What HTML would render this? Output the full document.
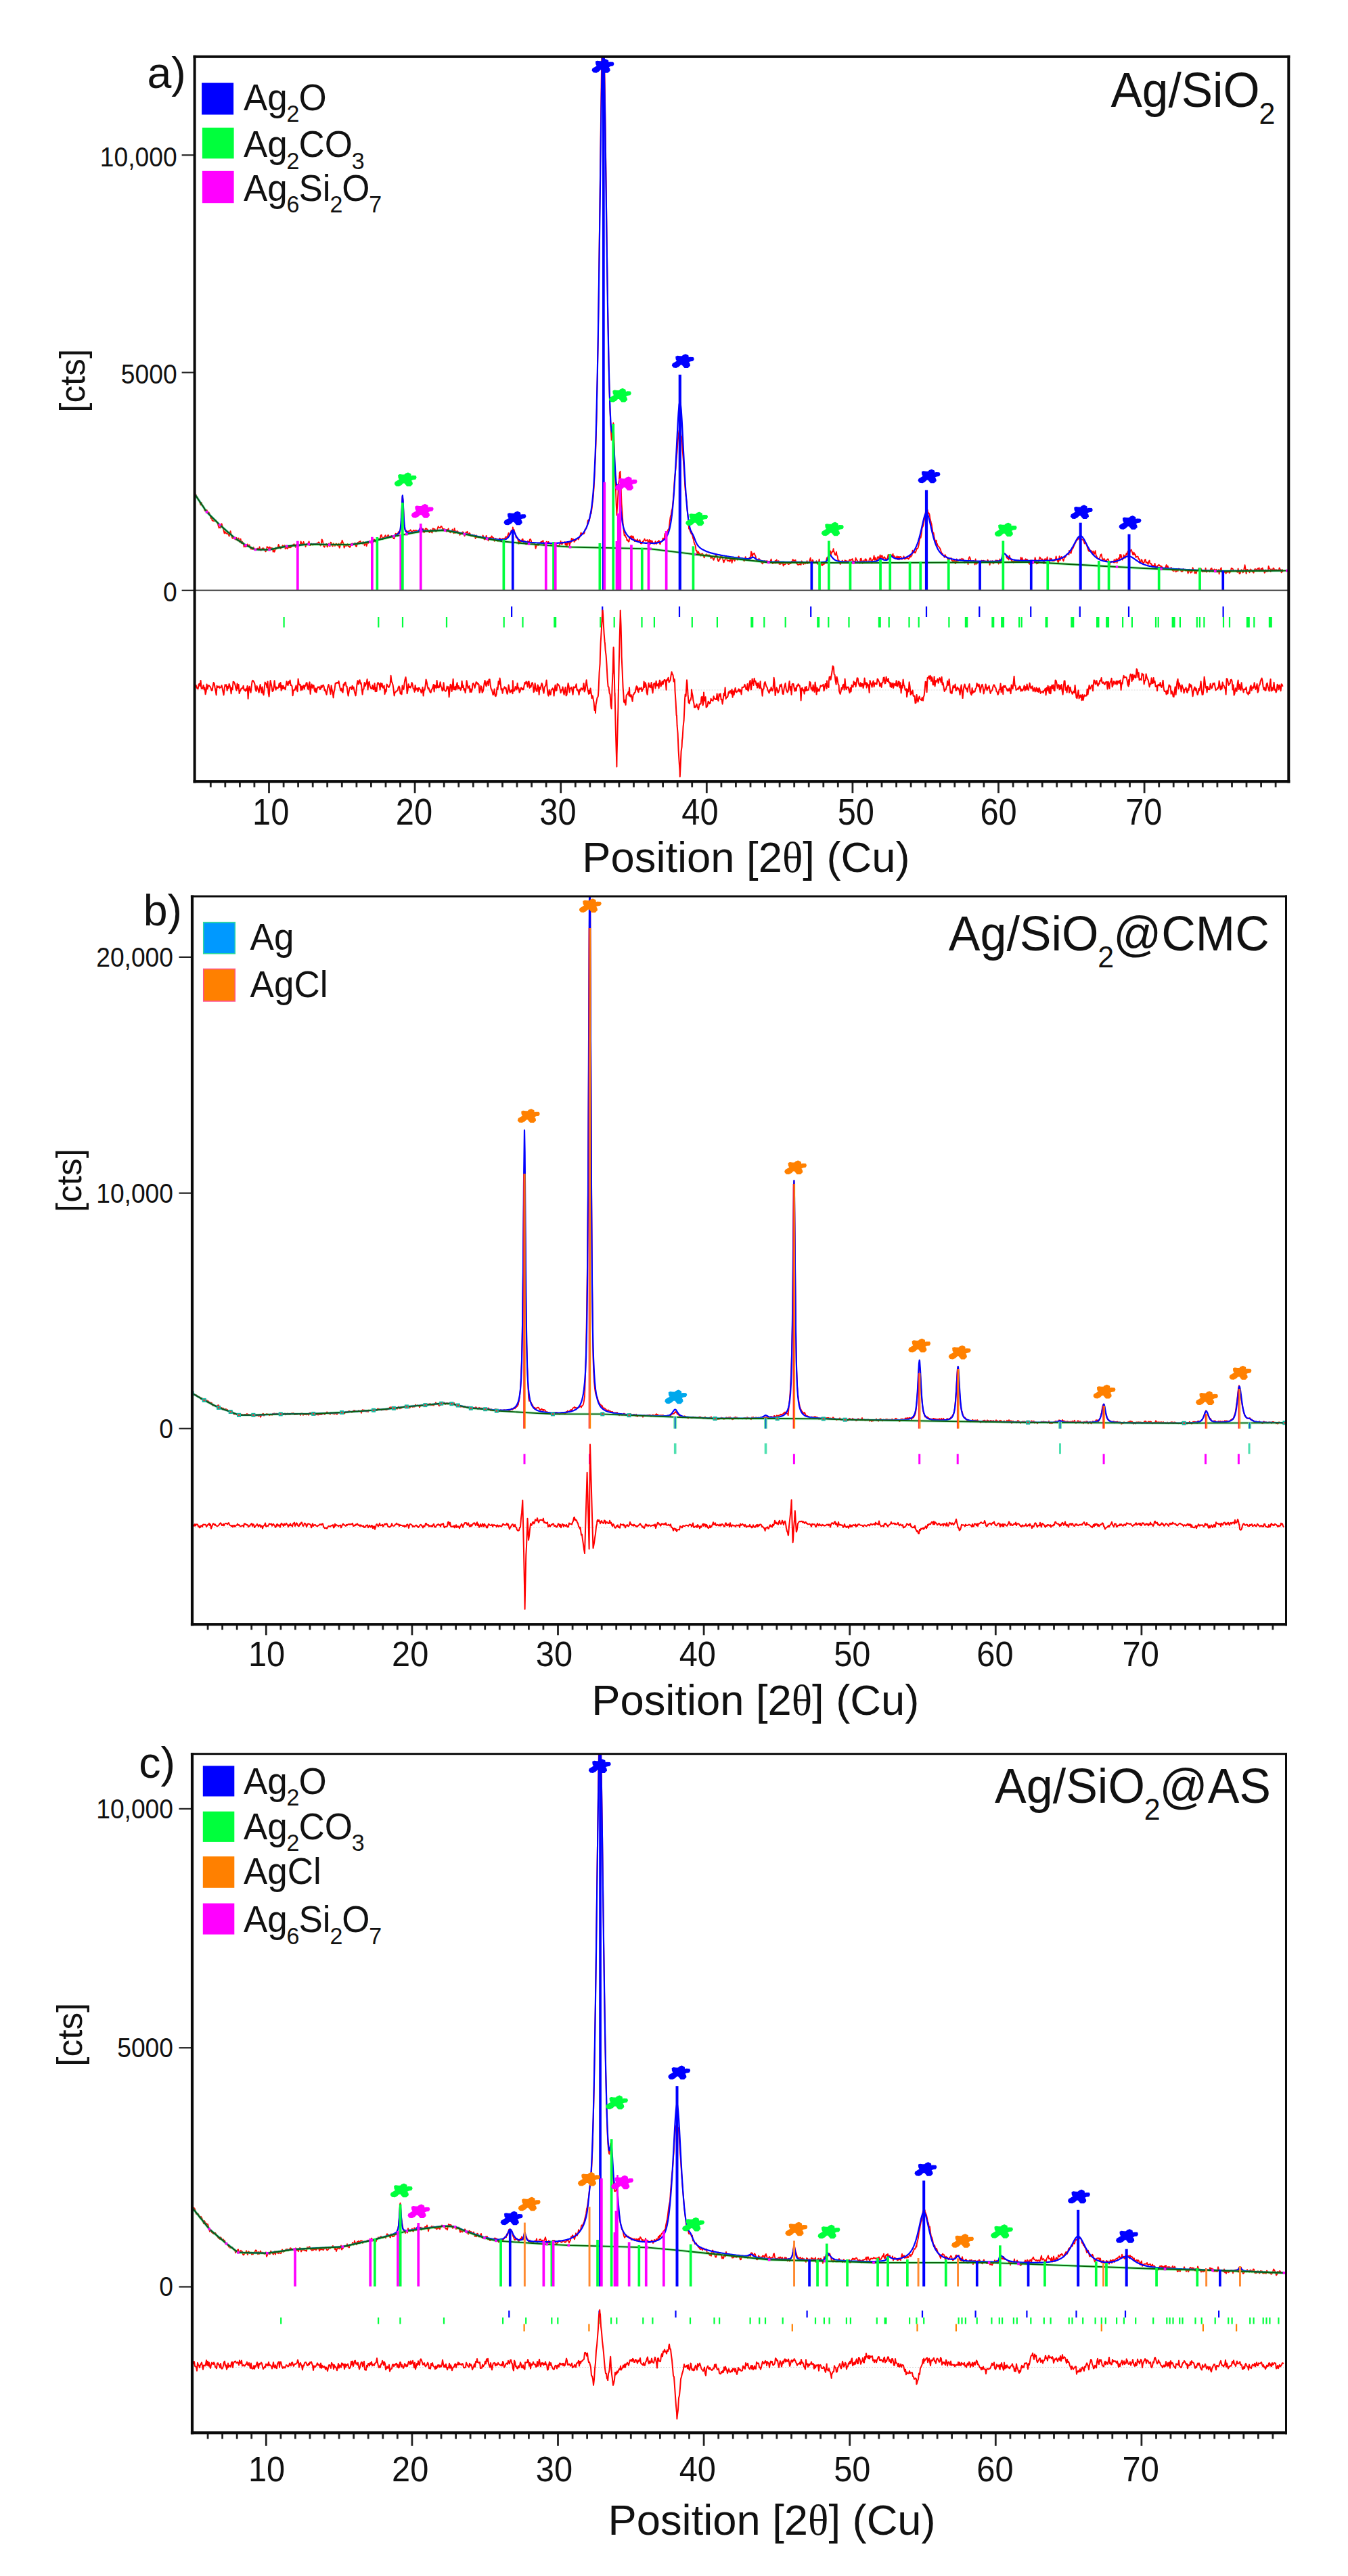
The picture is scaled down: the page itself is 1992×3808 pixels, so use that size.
<!DOCTYPE html>
<html><head><meta charset="utf-8"><title>XRD patterns</title>
<style>
html,body{margin:0;padding:0;background:#fff}
svg{display:block}
text{font-family:"Liberation Sans",Arial,Helvetica,sans-serif;fill:#111}
</style></head><body>
<svg width="1992" height="3808" viewBox="0 0 1992 3808">
<rect width="1992" height="3808" fill="#fff"/>
<clipPath id="ca"><rect x="287.6" y="83.8" width="1616.7" height="1071.4"/></clipPath>
<g clip-path="url(#ca)">
<path d="M287.6 732.1L288.6 731.9L289.6 731.3L290.6 735L291.6 734.6L292.6 737.7L293.6 739.7L294.6 740L295.6 743.6L296.6 746.4L297.6 742.8L298.6 746.7L299.6 747.4L300.6 748.5L301.6 750.7L302.6 755L303.6 754.5L304.6 755L305.6 754L306.6 756.4L307.6 758.3L308.6 757.4L309.6 759.3L310.6 762.3L311.6 766L312.6 764.4L313.6 769.5L314.6 769.7L315.6 770.1L316.6 770.3L317.6 770L318.6 768.9L319.6 770.4L320.6 771.9L321.6 773.2L322.6 777.4L323.6 780.5L324.6 779.2L325.6 780.3L326.6 777.5L327.6 774.2L328.6 777.7L329.6 780.5L330.6 784.5L331.6 788.5L332.6 785.9L333.6 787.9L334.6 788.8L335.6 787.8L336.6 789.4L337.6 789.6L338.6 792.7L339.6 788.7L340.6 785.1L341.6 789.8L342.6 793.6L343.6 795.8L344.6 793.6L345.6 795.8L346.6 794.5L347.6 797.6L348.6 795.8L349.6 794.8L350.6 799.3L351.6 796.6L352.6 795.5L353.6 800.7L354.6 801.4L355.6 796.6L356.6 803.1L357.6 800.4L358.6 801.6L359.6 803.1L360.6 808.7L361.6 806.7L362.6 808.4L363.6 806.9L364.6 808L365.6 804.4L366.6 806.5L367.6 806.2L368.6 805.6L369.6 808.5L370.6 811.4L371.6 811.5L372.6 810L373.6 812.1L374.6 809L375.6 811.4L376.6 812.8L377.6 812.1L378.6 811.5L379.6 811.9L380.6 810.6L381.6 810.9L382.6 813.2L383.6 808.3L384.6 813.4L385.6 813.6L386.6 813.2L387.6 810.3L388.6 810.6L389.6 810.4L390.6 813.1L391.6 813.9L392.6 815.4L393.6 813.5L394.6 808.2L395.6 808.7L396.6 810.1L397.6 812.1L398.6 808.7L399.6 810.2L400.6 811.2L401.6 810L402.6 810.3L403.6 815.8L404.6 812.5L405.6 815.8L406.6 812.9L407.6 809.7L408.6 811.2L409.6 809.5L410.6 809.6L411.6 804.8L412.6 808.7L413.6 807.8L414.6 811.1L415.6 810L416.6 808.3L417.6 806.3L418.6 807.8L419.6 807.3L420.6 806.2L421.6 811.4L422.6 808.5L423.6 809.7L424.6 811.3L425.6 809.5L426.6 809.3L427.6 808.8L428.6 809.6L429.6 809L430.6 808.4L431.6 807.4L432.6 805.5L433.6 805L434.6 804.3L435.6 805.8L436.6 808.8L437.6 804.9L438.6 804.1L439.6 803L440.6 804.6L441.6 807.4L442.6 805.4L443.6 806L444.6 800.4L445.6 803.1L446.6 805.4L447.6 803.7L448.6 800.9L449.6 804.5L450.6 804.4L451.6 808.4L452.6 804.5L453.6 804.1L454.6 803.5L455.6 804.2L456.6 800.3L457.6 805.8L458.6 806.2L459.6 804.5L460.6 803.6L461.6 805.3L462.6 805.6L463.6 804L464.6 804.2L465.6 805.2L466.6 803.9L467.6 803.7L468.6 803.5L469.6 803.4L470.6 801.5L471.6 801.7L472.6 804.6L473.6 806.5L474.6 805.4L475.6 797.3L476.6 799L477.6 803.7L478.6 808.2L479.6 808.7L480.6 805.8L481.6 804.5L482.6 803.9L483.6 808.5L484.6 806.8L485.6 803.7L486.6 806.7L487.6 807.5L488.6 801.6L489.6 802.5L490.6 806.3L491.6 807.5L492.6 803.4L493.6 804.6L494.6 806.8L495.6 806.6L496.6 803.4L497.6 804.2L498.6 806.3L499.6 806.8L500.6 803.7L501.6 809.8L502.6 807.3L503.6 802.7L504.6 803.6L505.6 798.7L506.6 801.3L507.6 803.7L508.6 809.8L509.6 807.1L510.6 806.4L511.6 807L512.6 806.1L513.6 804.1L514.6 807.5L515.6 806.9L516.6 808.8L517.6 808.6L518.6 804.2L519.6 803.7L520.6 803.6L521.6 803.4L522.6 805.1L523.6 804.2L524.6 802.6L525.6 806.8L526.6 808.1L527.6 805.4L528.6 802L529.6 801.6L530.6 801.1L531.6 800.5L532.6 800L533.6 802.4L534.6 803.2L535.6 803.8L536.6 800.9L537.6 802.3L538.6 806.3L539.6 803.7L540.6 801.5L541.6 807.3L542.6 804L543.6 800.6L544.6 802.8L545.6 800L546.6 799.7L547.6 802.4L548.6 799.7L549.6 796.9L550.6 800.5L551.6 801.8L552.6 797.3L553.6 797.8L554.6 800.8L555.6 800.1L556.6 801L557.6 799L558.6 797L559.6 796.4L560.6 796.4L561.6 797.3L562.6 791.4L563.6 790.6L564.6 794.3L565.6 796.8L566.6 794.6L567.6 795.2L568.6 793L569.6 791.3L570.6 793.9L571.6 794.1L572.6 792.9L573.6 790.7L574.6 792.7L575.6 792.9L576.6 792.6L577.6 792.6L578.6 792L579.6 793.7L580.6 793.6L581.6 796.2L582.6 796.3L583.6 793L584.6 788.7L585.6 791.1L586.6 789L587.6 792.3L588.6 786.5L589.6 785.9L590.6 788.5L591.6 783L592.6 775L593.6 756.9L594.6 733.7L594.9 733.8L595.6 739.3L596.6 761.4L597.6 780.6L598.6 783.4L599.6 786L600.6 784.2L601.6 788.9L602.6 785.8L603.6 785.1L604.6 785.3L605.6 784.6L606.6 783.3L607.6 785.1L608.6 785.3L609.6 786.2L610.6 784.5L611.6 783.8L612.6 784.7L613.6 785.5L614.6 783.7L615.6 784.7L616.6 784.5L617.6 786.8L618.6 786.2L619.6 784.5L620.6 783L621.6 777.3L621.7 780.4L622.6 780.7L623.6 781.5L624.6 784.1L625.6 782L626.6 787.3L627.6 785.9L628.6 781.7L629.6 781L630.6 782.1L631.6 782.3L632.6 784.6L633.6 786.2L634.6 787.1L635.6 786.5L636.6 783.1L637.6 786.4L638.6 787.6L639.6 781.1L640.6 781.8L641.6 782.6L642.6 781.9L643.6 785.4L644.6 785.5L645.6 784.4L646.6 781.2L647.6 778.2L648.6 779.6L649.6 780.3L650.6 780.4L651.6 777.9L652.6 778.1L653.6 780.5L654.6 782.9L655.6 781.9L656.6 782.1L657.6 782.5L658.6 782.9L659.6 785.9L660.6 782.9L661.6 784L662.6 781.3L663.6 785.8L664.6 786.5L665.6 787.3L666.6 785.9L667.6 785L668.6 782.5L669.6 785.1L670.6 788.4L671.6 780.9L672.6 788L673.6 785.2L674.6 787.1L675.6 785L676.6 785.7L677.6 788.1L678.6 787L679.6 791L680.6 788.7L681.6 789.4L682.6 787.1L683.6 786.5L684.6 786.7L685.6 789L686.6 792.4L687.6 790.3L688.6 786.7L689.6 787.1L690.6 785.8L691.6 789.5L692.6 790L693.6 787.9L694.6 788.9L695.6 792.1L696.6 792.4L697.6 790.4L698.6 792.6L699.6 792.7L700.6 790.8L701.6 792L702.6 796.1L703.6 791.2L704.6 794.2L705.6 792.9L706.6 794.3L707.6 794.4L708.6 794.1L709.6 793.4L710.6 793.5L711.6 795.1L712.6 795.3L713.6 791.3L714.6 794.1L715.6 797.3L716.6 797.5L717.6 796.4L718.6 791.8L719.6 795.4L720.6 796.9L721.6 799.3L722.6 794.9L723.6 795.2L724.6 794.7L725.6 795.1L726.6 792.4L727.6 794L728.6 794.9L729.6 795.4L730.6 799.8L731.6 796.7L732.6 795.9L733.6 799.2L734.6 796.9L735.6 799.9L736.6 799.3L737.6 796.7L738.6 795.7L739.6 797.1L740.6 797.1L741.6 797.6L742.6 796.2L743.6 798.3L744.6 796.1L745.6 795.7L746.6 795.8L747.6 793.3L748.6 794L749.6 793.9L750.6 790.6L751.6 787.9L752.6 792.5L753.6 789.4L754.6 787.3L755.6 784.1L756.6 786.8L757.6 783.7L757.8 779.4L758.6 783.2L759.6 782.9L760.6 787.3L761.6 789.2L762.6 794.2L763.6 795.3L764.6 794.7L765.6 798.9L766.6 803.9L767.6 799L768.6 801L769.6 800.4L770.6 800.6L771.6 797.3L772.6 796.8L773.6 801.9L774.6 801.1L775.6 799.5L776.6 804.2L777.6 804.7L778.6 803.9L779.6 799.9L780.6 800.7L781.6 804.4L782.6 798.1L783.6 796.9L784.6 798.3L785.6 802.7L786.6 802.6L787.6 803.1L788.6 802.7L789.6 802.6L790.6 804.9L791.6 810.9L792.6 806.3L793.6 806.6L794.6 802.9L795.6 806L796.6 803.9L797.6 803.5L798.6 802.1L799.6 800.8L800.6 801L801.6 800L802.6 799.1L803.6 805.7L804.6 804.9L805.6 805.9L806.6 805.1L807.6 800.7L808.6 802.5L809.6 801.3L810.6 800.9L811.6 802.3L812.6 803.5L813.6 803.8L814.6 804L815.6 803L816.6 803.6L817.6 806.3L818.6 809.4L819.6 808.1L820.6 804.6L821.6 804.8L822.6 806.2L823.6 806.9L824.6 807.5L825.6 807.6L826.6 805.8L827.6 803.5L828.6 799.9L829.6 804.2L830.6 804.6L831.6 801.5L832.6 802.3L833.6 801.5L834.6 801.1L835.6 805.7L836.6 802.6L837.6 807.5L838.6 803.4L839.6 800.6L840.6 801.4L841.6 806.5L842.6 802.4L843.6 802.3L844.6 796L845.6 799.7L846.6 796.6L847.6 797.9L848.6 801.2L849.6 798.5L850.6 799.4L851.6 797.2L852.6 795.8L853.6 796.1L854.6 797.6L855.6 795.4L856.6 793.8L857.6 790.7L858.6 787.3L859.6 789.5L860.6 788.8L861.6 788.6L862.6 789.2L863.6 787.9L864.6 782.6L865.6 782L866.6 780.5L867.6 777.3L868.6 770L869.6 768.5L870 769.3L870.6 770.3L871.6 765.7L872.6 759L873.6 759.2L874.6 751.8L875.6 742.7L876 740.6L876.6 735.6L877.6 722.1L878.6 704.2L879.6 682.5L880 675.1L880.6 654.8L881.6 617.6L882.6 566.4L883.6 512.8L884 489.2L884.6 445.7L885.6 363.7L886.6 281.6L887 252.5L887.6 201.7L888.6 121.5L889.6 56L890.2 26.3L890.6 21.1L891.2 16.8L891.6 21.6L892.6 56.6L893.6 114.7L894 142.1L894.6 182L895.6 261.9L896.6 344.7L897.6 414.5L898 445.8L898.6 481.8L899.6 538L900.6 579.5L901.6 610.1L902.6 632.2L903.6 650.7L904.6 641.1L905.5 630.2L905.6 632.8L906.3 625.2L906.6 626.9L906.9 629.3L907.6 654.5L908.5 688.7L908.6 691.1L909.6 716.3L910.6 745.3L911.4 761.6L911.6 758.7L912.6 742.9L913.5 726.3L913.6 723.4L914.5 711L914.6 712.3L915.5 701.4L915.6 698.9L916.6 696.8L916.7 700.1L917.6 717.4L918.5 742.5L918.6 744.9L919.6 758L920.6 773.6L921.6 783.5L922 786.7L922.6 791.6L923.6 790.6L924.6 793.8L925.6 794.6L926.6 799.1L927.6 798.1L928.6 800.8L929.6 800.5L930 796.9L930.6 795L931.6 792.7L932.6 796.7L933.6 792.2L934.6 795.1L935.6 792.7L936.6 795.9L937.6 800.1L938.6 798.2L939.6 798.4L940.6 798.7L941.6 800.4L942 797.2L942.6 799.8L943.6 800.4L944.6 798.6L945.6 798.2L946.6 803.1L947.6 803.6L948.6 803.2L949.6 800.4L950.6 800.6L951.6 798.6L952.6 796.8L953.6 799.2L954.6 799.8L955.6 798.5L956.6 798L957.6 801.2L958.6 800.6L959.6 797.9L960.6 804.9L961.6 799L962.6 801.3L963.6 799.5L964.6 802.6L965.6 802.4L966.6 804.3L967.6 802.4L968.6 800.3L969.6 804.4L970.6 802.3L971.6 801.1L972.6 800.6L973.6 799L974.6 800.7L975 804.1L975.6 804.5L976.6 801.2L977.6 800.3L978.6 799.6L979.6 795.6L980.6 798.1L981.6 795.4L982.6 789L983.6 791L984.6 787.1L985 788.3L985.6 788.6L986.6 784.5L987.6 782.3L988.6 781.3L989.6 772L990.6 764.2L991.6 760.9L992.6 754.3L993.4 752.7L993.6 750.7L994.6 740.8L995.6 728.3L996.6 711.2L997 705.3L997.6 701.5L998.6 692.1L999.6 678.8L1000 674.3L1000.6 667.9L1001.6 652.8L1002.6 642.6L1003.6 636L1004.6 641.6L1004.8 637.2L1005.6 638.7L1006.6 644L1007.6 647.5L1008 653.6L1008.6 666L1009.6 678.1L1010.6 692.7L1011.6 707.5L1012 715.9L1012.6 723.8L1013.6 732.8L1014.6 740.2L1015 742.4L1015.6 754.2L1016.6 762.2L1017.6 774.6L1018 781.7L1018.6 781.1L1019.6 784.6L1020.6 786.8L1021.6 789.4L1022 785.3L1022.6 789.3L1023.6 793.3L1024.4 796.9L1024.6 794.3L1025.6 802.2L1026 802.4L1026.6 805L1027.6 806.1L1028.6 814.1L1029.6 813.8L1030.6 819.2L1031.6 815.8L1032 815.5L1032.6 819.5L1033.6 817.5L1034.6 819L1035.6 821.6L1036.6 819.4L1037.6 818.2L1038.6 819.1L1039.6 822.3L1040 822.2L1040.6 824.4L1041.6 821.9L1042.6 820.8L1043.6 819.2L1044.6 820.5L1045.6 820.5L1046.6 821.6L1047.6 820.4L1048.6 820.7L1049.6 821.9L1050.6 825.2L1051.6 823.7L1052.6 822.8L1053.6 826.1L1054.6 827.9L1055.6 825L1056.6 824.1L1057.6 820.6L1058.6 820L1059.6 823.1L1060.6 827.4L1061.6 829.9L1062.6 828.6L1063.6 825.4L1064.6 826.4L1064.8 822.5L1065.6 824.3L1066.6 822.4L1067.6 824.4L1068.6 828.4L1069.6 831.4L1070.6 828.3L1071.6 827.6L1072.6 822.9L1073.6 823.4L1074.6 828.4L1075.6 829.3L1076.6 828.9L1077.6 828L1078.6 830.3L1079.6 826.8L1080.6 825.9L1081.6 832.1L1082.6 826.3L1083.6 827.3L1084.6 825.7L1085.6 829.3L1086.6 826.8L1087.6 825.6L1088.6 825.3L1089.6 827.6L1090.6 824.5L1091.6 822.4L1092.6 824.6L1093.6 825.1L1094.6 827.2L1095.6 826L1096.6 825L1097.6 826.7L1098.6 827.7L1099.6 829.4L1100.6 827.9L1101.6 823.2L1102.6 825.5L1103.6 826.3L1104.6 826.2L1105 827.5L1105.6 825.7L1106.6 827.4L1107.6 824.2L1108.6 826L1109.6 820.2L1110 815.3L1110.6 816.1L1111.6 824L1112.6 819.6L1113 818.5L1113.6 818.9L1114.6 817.6L1115.6 820.4L1116.6 822.1L1117.6 827.9L1118.6 829L1119 827.5L1119.6 828L1120.6 828.7L1121.6 825.6L1122.6 829.6L1123.6 827.7L1124 830.3L1124.6 829.8L1125.6 831.5L1126.6 833.4L1127.6 832.3L1128.6 829.6L1129.6 829.1L1130.6 831L1131.6 829.5L1132.6 829.2L1133.6 829.7L1134.6 829.4L1135.6 831.3L1136.6 829.9L1137.6 830.6L1138.6 829.2L1139.6 826.5L1140.6 831.1L1141.6 833.1L1142.6 830.6L1143.6 832.5L1144.6 832.1L1145.6 828.8L1146.6 832.9L1147.6 827.4L1148.6 829.8L1149.6 832.3L1150.6 829.2L1151.6 834.1L1152.6 830.9L1153.6 833.8L1154.6 831.7L1155.6 832.9L1156.6 831.6L1157.6 836.5L1158.6 833.9L1159.6 834.4L1160.6 834L1161.6 832.8L1162.6 831.3L1163.6 832.2L1164.6 833.8L1165.6 834.1L1166.6 833.4L1167.6 831.8L1168.6 833.1L1169.6 829.9L1170.6 831.1L1171.6 826.9L1172.6 828.4L1173.6 830.1L1174.6 828.1L1175.6 827.9L1176.6 832.4L1177.6 833.1L1178.6 834.6L1179.6 835.2L1180.6 834.3L1181.6 834.3L1182.6 833.2L1183.6 835L1184.6 829.4L1185.6 830.4L1186.6 833.4L1187.6 834.1L1188.6 832.6L1189.6 831.2L1190.6 833.3L1191.6 831.7L1192.6 829.1L1193.6 833.2L1194.6 831.3L1195.6 831.9L1196.6 828L1197.6 824.7L1198.6 830.3L1199.6 834.7L1200.6 827.6L1201.6 829L1202.6 831.8L1203.6 831.9L1204.6 831.7L1205.6 831.4L1206.6 829.2L1207.6 832.9L1208.6 833.9L1209.6 832.8L1210.6 826.6L1211.6 833.3L1212.6 831.9L1213.6 832.7L1214.6 836L1215.6 835.6L1216.6 832.6L1217.6 834L1218.6 833.3L1219.6 830.3L1220.6 830.6L1221.6 825.9L1222 824.4L1222.6 825.9L1223.6 824.5L1224.6 814.9L1224.8 817.7L1225.6 815.6L1226.6 818.2L1227 814.4L1227.6 820.6L1228.6 817.6L1229.6 815.2L1230.6 815.7L1231.6 811.2L1232 814.6L1232.6 815.8L1233.6 819.7L1234.6 820.6L1235.6 817L1236 815.9L1236.6 820.6L1237.6 822.4L1238.6 829L1239.6 828.1L1240 831.1L1240.6 830.6L1241.6 834.1L1242.6 832.1L1243.6 831.4L1244.6 828.5L1245.6 830.4L1246 831.7L1246.6 830.3L1247.6 831.6L1248.6 828.2L1249.6 828.8L1250.6 830.3L1251.6 829.1L1252.6 832.2L1253.6 831.8L1254.6 828.9L1255.6 827.1L1256.6 828.5L1257.6 827.3L1258.6 827.6L1259.6 826.1L1260.6 829.8L1261.6 829.7L1262.6 829.8L1263.6 831.1L1264.6 824.7L1265.6 827.7L1266.6 828L1267.6 830.2L1268.6 830.5L1269.6 830.6L1270.6 832.5L1271.6 826L1272.6 825.5L1273.6 830.4L1274.6 832.7L1275.6 828.5L1276.6 831L1277.6 831.3L1278.6 826.3L1279.6 826.3L1280 828.3L1280.6 828L1281.6 832.1L1282.6 830.8L1283.6 830.9L1284.6 827.4L1285.6 824.9L1286.6 825.4L1287.6 829.9L1288.6 832.3L1289.6 827.1L1290.6 826.9L1291.6 821.5L1292.6 827.9L1293.6 824.4L1294.6 827.8L1295.6 829.6L1296.6 824.2L1297.6 822.8L1298.6 825.2L1299.6 826.8L1300 823.1L1300.6 820.5L1301 822.8L1301.6 825.6L1302.6 821.6L1303.6 821.3L1304.6 825.8L1305.6 825.5L1306.6 823.1L1307.6 824.3L1308.6 825.9L1309.6 827.7L1310.6 826.4L1311.6 824.8L1312.6 819.8L1313.6 821.6L1314.6 820.7L1315.2 820L1315.6 819.6L1316.6 820L1317.6 822.4L1318.6 820.8L1319.6 818.8L1320 822.8L1320.6 821.7L1321.6 822.1L1322.6 824.1L1323.6 823.7L1324.6 824.2L1325.6 822.2L1326.6 826.9L1327.6 822.8L1328.6 827.3L1329.6 823.1L1330.6 822.9L1331.6 823.6L1332.6 826.7L1333.6 826.3L1334.6 824.7L1335.6 822.3L1336.6 826.4L1337.6 825.6L1338.6 826.1L1339.6 824.6L1340 823.5L1340.6 825.3L1341.6 825L1342.6 826.6L1343.6 825L1344.6 820.4L1345.6 823.4L1346.6 822.3L1347.6 821L1348.6 813.7L1349.6 815.3L1350.6 817.4L1351.6 815.5L1352 816.8L1352.6 817.2L1353.6 815L1354.6 811L1355.6 811.3L1356.6 809.8L1357.6 806.1L1358.6 799.2L1359.6 795.1L1360.6 795.1L1361.6 789.7L1362.6 781L1363.6 778.6L1364 778L1364.6 776.1L1365.6 770.4L1366.6 765.1L1367.6 758.1L1368.6 752L1369 752.4L1369.6 757.2L1370.6 753.5L1371.6 759.3L1372.6 758.3L1373.6 760.9L1374.6 767.6L1375.6 770.8L1376 773.2L1376.6 774.5L1377.6 781.3L1378.6 788L1379.6 787.7L1380.6 794.3L1381.6 798.2L1382.6 802.4L1383.6 798.6L1384.6 805.8L1385 803.9L1385.6 806.2L1386.6 808L1387.6 808.4L1388.6 810L1389.6 811.7L1390.6 815.1L1391.6 818.4L1392.6 817.9L1393.6 820.9L1394.6 821.1L1395.6 823.9L1396.6 820L1397.6 822.3L1398.6 823.2L1399.6 824.4L1400 825.3L1400.6 826.7L1401.6 826L1402.6 826.9L1403.6 825.7L1404.6 825.8L1405.6 825L1406.6 828.5L1407.6 829.2L1408.6 830.8L1409.6 827.6L1410.6 827.2L1411.6 833L1412.6 832.1L1413.6 826.4L1414.6 829.2L1415.6 829.5L1416.6 828.1L1417.6 827.8L1418.6 826.5L1419.6 826.9L1420.6 826.6L1421.6 825.7L1422.6 827.1L1423.6 826.5L1424.6 830L1425.6 831.9L1426.6 830.2L1427.6 829.1L1428.6 830.9L1429.6 830L1430.6 834.2L1431.6 825.5L1432.6 823.2L1433.6 825L1434.6 829.1L1435.6 831.3L1436.6 829.2L1437.6 829.6L1438.6 829L1439.6 830.6L1440.6 834.6L1441.6 826.5L1442.6 833.5L1443.6 833.5L1444.6 830.6L1445.6 831.3L1446.6 830.5L1447.6 831.2L1448.6 831.4L1449.6 832.1L1450.6 828.5L1451.6 830.9L1452.6 828.7L1453.6 828.7L1454.6 831.1L1455.6 829.2L1456.6 830.2L1457.6 830.6L1458.6 830.5L1459.6 827.5L1460.6 830.1L1461.6 830.3L1462.6 835.1L1463.6 829.5L1464.6 832L1465.6 829.7L1466.6 829.1L1467.6 833.4L1468.6 830.7L1469.6 831.8L1470.6 830.8L1471.6 828.3L1472.6 828.7L1473.6 828.5L1474.6 828.9L1475.6 833.5L1476.6 832.1L1477.6 826.5L1478.6 832.1L1479.6 829.6L1480.6 827.9L1481.6 824.7L1482.3 818L1482.6 818.8L1483.6 818.3L1484.6 818.2L1485.6 818.7L1486.6 820.6L1487.6 824.2L1488.6 825.3L1489.6 825.2L1490.6 827.5L1491.6 821.1L1492.6 824.5L1493.6 826.9L1494.6 828L1495.6 830.9L1496.6 829.4L1497.6 831.7L1498.6 829.1L1499.6 830.4L1500.6 829.6L1501.6 828.5L1502.6 830L1503.6 830.8L1504.6 827.8L1505.6 830.9L1506.6 829.5L1507.6 829.9L1508.6 823.9L1509.6 827.6L1510.6 824.7L1511.6 829.9L1512.6 828.1L1513.6 828.1L1514.6 828.7L1515.6 826.3L1516.6 828.6L1517.6 826.7L1518.6 828.2L1519.6 831L1520.6 833L1521.6 833.9L1522.6 830.6L1523.6 827.9L1524.6 830L1525.6 833.1L1526.6 828.8L1527.6 832.5L1528.6 830.2L1529.6 824.1L1530.6 828L1531.6 833.4L1532.6 832.6L1533.6 833.1L1534.6 831.7L1535.6 826.7L1536.6 823.5L1537.6 825L1538.6 827.2L1539.6 826.5L1540.6 826.7L1541.6 830.3L1542.6 833L1543.6 826.8L1544.6 826L1545.6 827.8L1546.6 828.1L1547.6 823.3L1548.6 833.4L1549.6 832L1550.6 830.8L1551.6 825.2L1552.6 828L1553.6 825.8L1554.6 828.7L1555.6 829.2L1556.6 828.7L1557.6 829.3L1558.6 827.1L1559.6 827.9L1560.6 822.3L1561.6 827.3L1562.6 826.9L1563.6 832.5L1564.6 828.9L1565.6 822.2L1566.6 828.1L1567.6 825L1568.6 822.9L1569.6 824.2L1570.6 827.3L1571.6 829.4L1572.6 824.8L1573.6 824L1574.6 823.4L1575.6 820.6L1576.6 819.3L1577.6 819L1578.6 818.4L1579.6 819.9L1580 813.8L1580.6 816.6L1581.6 816.5L1582.6 818L1583.6 813.7L1584.6 811.4L1585.6 810.5L1586.6 807.9L1587.6 805.6L1588.6 803.5L1589.6 801.7L1590.6 799.2L1591.6 798.6L1592.6 797.3L1593.6 796.3L1594.6 794L1595.6 798.3L1596 798.5L1596.6 797.6L1596.7 795.1L1597.6 797.9L1598.6 797.1L1599.6 797.5L1600.6 798.8L1601.6 799.8L1602.6 803.5L1603.6 801.9L1604.6 802.6L1605.6 805.7L1606 806.1L1606.6 808.5L1607.6 811.4L1608.6 814.2L1609.6 815.1L1610.6 813.3L1611.6 813.7L1612.6 814L1613.6 818.1L1614.6 817L1615 815.3L1615.6 814.8L1616.6 819.4L1617.6 818L1618.6 814.2L1619.6 820.7L1620.6 822.4L1621.6 824.5L1622.6 825.9L1623.6 825.8L1624.6 825.7L1625 824.9L1625.6 823.1L1626.6 819.9L1627.6 819.3L1628.6 824.6L1629.6 827.8L1630.6 827.6L1631.6 825.8L1632.6 828.5L1633.6 828.3L1634.6 828.6L1635.6 828.1L1636.6 826.4L1637.6 826.3L1638.6 829.5L1639.6 833.3L1640 835.1L1640.6 831.3L1641.6 831.2L1642.6 829.9L1643.6 829.9L1644.6 830.4L1645.6 831.4L1646.6 827.1L1647.6 831.8L1648.6 829.2L1649.6 826.1L1650.6 832L1651.6 826.7L1652.6 826.4L1653.6 824.5L1654.6 827.5L1655 820L1655.6 823.6L1656.6 820L1657.6 825.2L1658.6 827.6L1659.6 825.2L1660.6 820.3L1661.6 822.3L1662.6 824.9L1663.6 821L1664.6 817.8L1665.6 820.4L1666.6 815L1667.6 815.2L1668 815.6L1668.5 816.2L1668.6 818.6L1669.6 816.5L1670.6 813.8L1671.6 812.4L1672.6 815L1673.6 817.6L1674 819.5L1674.6 820.1L1675.6 816.5L1676.6 820.1L1677.6 819.3L1678.6 824L1679.6 822.7L1680.6 822.7L1681.6 822.7L1682.6 826.7L1683.6 826.1L1684.6 832.7L1685.6 831.9L1686.6 827.1L1687.6 828.2L1688.6 831.5L1689.6 832.3L1690 832.2L1690.6 831.5L1691.6 827.8L1692.6 826.9L1693.6 832L1694.6 830.9L1695.6 832.3L1696.6 834.3L1697.6 829.8L1698.6 828.4L1699.6 833.6L1700.6 833.1L1701.6 833.7L1702.6 837.3L1703.6 835.7L1704.6 836L1705.6 836.8L1706.6 832.9L1707.6 839.4L1708.6 838.8L1709.6 836.8L1710 839.8L1710.6 836.4L1711.6 835.9L1712.6 834.7L1713.6 836.5L1714.6 836.2L1715.6 838.4L1716.6 837.2L1717.6 838.9L1718.6 840.1L1719.6 840.4L1720.6 840.7L1721.6 840.1L1722.6 838L1723.6 835L1724.6 838.9L1725.6 836.6L1726.6 839.7L1727.6 840.1L1728.6 840.3L1729.6 840.5L1730 841.9L1730.6 838.9L1731.6 840.8L1732.6 843.3L1733.6 843.5L1734.6 844.4L1735.6 841.7L1736.6 841.2L1737.6 845.4L1738.6 843.8L1739.6 842.9L1740.6 844.2L1741.6 840.6L1742.6 840.9L1743.6 842.4L1744.6 841.8L1745.6 845.1L1746.6 844.1L1747.6 844.7L1748.6 841.2L1749.6 841.8L1750.6 842.1L1751.6 843.3L1752.6 843.7L1753.6 842.8L1754.6 843.9L1755.6 847.6L1756.6 844.4L1757.6 841.8L1758.6 845.1L1759.6 846.8L1760.6 844.6L1761.6 845.6L1762.6 839.2L1763.6 842.5L1764.6 842.3L1765.6 847.4L1766.6 845.1L1767.6 847.8L1768.6 844.4L1769.6 843.1L1770.6 842.1L1771.6 840.3L1772.6 840.8L1773.6 844.7L1774.6 840.3L1775.6 842.4L1776.6 845.3L1777.6 844.5L1778.6 845L1779.6 844.7L1780.6 845.1L1781.6 839.9L1782.6 845.6L1783.6 845.3L1784.6 843L1785.6 843L1786.6 843.3L1787.6 845.3L1788.6 841.9L1789.6 840.6L1790.6 840L1791.6 844.6L1792.6 842.4L1793.6 843.8L1794.6 841.4L1795.6 842.9L1796.6 842.4L1797.6 841.7L1798.6 845.6L1799.6 844.8L1800.6 842.2L1801.6 848.5L1802.6 843.4L1803.6 841.3L1804.6 839.3L1805.6 845.7L1806.6 844.7L1807.6 844.6L1808.6 846.4L1809.6 844.9L1810.6 845.7L1811.6 847.9L1812.6 845.6L1813.6 846L1814.6 844.9L1815.6 844.3L1816.6 847L1817.6 846L1818.6 844.9L1819.6 839.8L1820.6 840.3L1821.6 840.8L1822.6 842.5L1823.6 843.9L1824.6 844L1825.6 843.5L1826.6 844.3L1827.6 844.6L1828.6 845.9L1829.6 840.4L1830.6 844.6L1831.6 848.2L1832.6 847.7L1833.6 844.2L1834.6 842.1L1835.6 843.1L1836.6 846.5L1837.6 845.3L1838.6 840L1839.6 835.2L1840.6 841.2L1841.6 848.1L1842.6 841.9L1843.6 841.8L1844.6 843.3L1845.6 844.5L1846.6 846.2L1847.6 841.4L1848.6 843.3L1849.6 842.4L1850.6 845.3L1851.6 845.3L1852.6 846.8L1853.6 842.4L1854.6 841L1855.6 841.4L1856.6 842.1L1857.6 841.7L1858.6 840.4L1859.6 841.3L1860.6 839.3L1861.6 844.4L1862.6 843L1863.6 840.7L1864.6 842.9L1865.6 839.6L1866.6 843L1867.6 842.4L1868.6 846.8L1869.6 845.7L1870.6 842.4L1871.6 844.9L1872.6 844L1873.6 844.8L1874.6 836.9L1875.6 839.8L1876.6 840.9L1877.6 845.2L1878.6 841.4L1879.6 843.3L1880.6 842.6L1881.6 839.8L1882.6 840.5L1883.6 843.2L1884.6 842.4L1885.6 842.2L1886.6 842.4L1887.6 842.7L1888.6 843.3L1889.6 842.7L1890.6 839.4L1891.6 841.2L1892.6 842.5L1893.6 846.3L1894.6 841.8L1895.6 845.8" stroke="#ff0000" stroke-width="1.8" fill="none" stroke-linejoin="round"/>
<path d="M287.6 730.1L288.6 731.6L289.6 733.1L290.6 734.6L291.6 736.1L292.6 737.6L293.6 739.1L294.6 740.6L295.6 742L296.6 743.5L297.6 745L298.6 746.5L299.6 748L300.6 749.5L301.6 751L302.6 752.5L303.6 754L304.6 755.5L305.6 756.9L306.6 757.9L307.6 758.9L308.6 759.9L309.6 760.9L310.6 761.9L311.6 762.8L312.6 763.8L313.6 764.8L314.6 765.8L315.6 766.8L316.6 767.8L317.6 768.8L318.6 769.8L319.6 770.8L320.6 771.7L321.6 772.7L322.6 773.7L323.6 774.7L324.6 775.7L325.6 776.6L326.6 777.5L327.6 778.4L328.6 779.2L329.6 780.1L330.6 781L331.6 781.9L332.6 782.7L333.6 783.6L334.6 784.5L335.6 785.4L336.6 786.3L337.6 787.1L338.6 788L339.6 788.9L340.6 789.8L341.6 790.6L342.6 791.5L343.6 792.4L344.6 793.3L345.6 794.2L346.6 795L347.6 795.7L348.6 796.4L349.6 797L350.6 797.7L351.6 798.3L352.6 799L353.6 799.6L354.6 800.3L355.6 800.9L356.6 801.5L357.6 802.2L358.6 802.8L359.6 803.5L360.6 804.1L361.6 804.8L362.6 805.4L363.6 806L364.6 806.4L365.6 806.9L366.6 807.4L367.6 807.8L368.6 808.3L369.6 808.7L370.6 809.2L371.6 809.7L372.6 810.1L373.6 810.6L374.6 811L375.6 811.5L376.6 812L377.6 812.3L378.6 812.3L379.6 812.3L380.6 812.3L381.6 812.3L382.6 812.4L383.6 812.4L384.6 812.4L385.6 812.4L386.6 812.4L387.6 812.4L388.6 812.4L389.6 812.5L390.6 812.5L391.6 812.5L392.6 812.5L393.6 812.5L394.6 812.5L395.6 812.5L396.6 812.6L397.6 812.6L398.6 812.5L399.6 812.3L400.6 812.1L401.6 811.9L402.6 811.7L403.6 811.5L404.6 811.2L405.6 811L406.6 810.8L407.6 810.6L408.6 810.4L409.6 810.2L410.6 810L411.6 809.8L412.6 809.6L413.6 809.4L414.6 809.2L415.6 809L416.6 808.8L417.6 808.6L418.6 808.4L419.6 808.2L420.6 808L421.6 807.8L422.6 807.6L423.6 807.4L424.6 807.3L425.6 807.2L426.6 807.1L427.6 807L428.6 806.9L429.6 806.8L430.6 806.7L431.6 806.6L432.6 806.6L433.6 806.5L434.6 806.4L435.6 806.3L436.6 806.2L437.6 806.1L438.6 806L439.6 805.9L440.6 805.8L441.6 805.8L442.6 805.7L443.6 805.6L444.6 805.5L445.6 805.4L446.6 805.3L447.6 805.2L448.6 805.1L449.6 805L450.6 804.9L451.6 804.9L452.6 804.8L453.6 804.7L454.6 804.6L455.6 804.5L456.6 804.5L457.6 804.5L458.6 804.5L459.6 804.5L460.6 804.5L461.6 804.5L462.6 804.6L463.6 804.6L464.6 804.6L465.6 804.6L466.6 804.6L467.6 804.7L468.6 804.7L469.6 804.7L470.6 804.7L471.6 804.7L472.6 804.8L473.6 804.8L474.6 804.8L475.6 804.8L476.6 804.8L477.6 804.8L478.6 804.9L479.6 804.9L480.6 804.9L481.6 804.9L482.6 804.9L483.6 805L484.6 805L485.6 805L486.6 805L487.6 805L488.6 805L489.6 805L490.6 805L491.6 805L492.6 805L493.6 805L494.6 805L495.6 805L496.6 805L497.6 805L498.6 805L499.6 805L500.6 805L501.6 805L502.6 805L503.6 805L504.6 805L505.6 805L506.6 805L507.6 805L508.6 805L509.6 805L510.6 805L511.6 805L512.6 805L513.6 805L514.6 805L515.6 805L516.6 805L517.6 805L518.6 805L519.6 805L520.6 804.9L521.6 804.7L522.6 804.6L523.6 804.4L524.6 804.2L525.6 804.1L526.6 803.9L527.6 803.8L528.6 803.6L529.6 803.5L530.6 803.3L531.6 803.1L532.6 803L533.6 802.8L534.6 802.7L535.6 802.5L536.6 802.4L537.6 802.2L538.6 802L539.6 801.9L540.6 801.7L541.6 801.6L542.6 801.4L543.6 801.3L544.6 801.1L545.6 800.9L546.6 800.8L547.6 800.6L548.6 800.3L549.6 800.1L550.6 799.9L551.6 799.6L552.6 799.4L553.6 799.1L554.6 798.9L555.6 798.7L556.6 798.4L557.6 798.2L558.6 797.9L559.6 797.7L560.6 797.5L561.6 797.2L562.6 797L563.6 796.7L564.6 796.5L565.6 796.3L566.6 796L567.6 795.8L568.6 795.5L569.6 795.3L570.6 795L571.6 794.8L572.6 794.5L573.6 794.3L574.6 794L575.6 793.7L576.6 793.5L577.6 793.2L578.6 792.9L579.6 792.6L580.6 792.3L581.6 792L582.6 791.7L583.6 791.4L584.6 791.1L585.6 790.7L586.6 790.3L587.6 789.7L588.6 788.9L589.6 787.8L590.6 786L591.6 782.2L592.6 773.3L593.6 755L594.6 734.1L594.9 732.3L595.6 740.8L596.6 763L597.6 776.8L598.6 782.8L599.6 785.2L600.6 786.3L601.6 786.9L602.6 787.2L603.6 787.4L604.6 787.5L605.6 787.5L606.6 787.4L607.6 787.3L608.6 787.2L609.6 787.1L610.6 787L611.6 786.8L612.6 786.6L613.6 786.5L614.6 786.3L615.6 786L616.6 785.8L617.6 785.4L618.6 784.8L619.6 783.4L620.6 780.8L621.6 778.3L621.7 778.3L622.6 779.9L623.6 782.5L624.6 783.8L625.6 784.3L626.6 784.5L627.6 784.6L628.6 784.6L629.6 784.6L630.6 784.6L631.6 784.6L632.6 784.6L633.6 784.6L634.6 784.5L635.6 784.5L636.6 784.4L637.6 784.4L638.6 784.4L639.6 784.3L640.6 784.3L641.6 784.2L642.6 784.2L643.6 784.1L644.6 784.1L645.6 784.1L646.6 784L647.6 784L648.6 783.9L649.6 783.9L650.6 783.8L651.6 783.8L652.6 783.7L653.6 783.7L654.6 783.6L655.6 783.6L656.6 783.5L657.6 783.5L658.6 783.7L659.6 783.9L660.6 784.1L661.6 784.3L662.6 784.4L663.6 784.6L664.6 784.8L665.6 785L666.6 785.2L667.6 785.4L668.6 785.6L669.6 785.8L670.6 786L671.6 786.2L672.6 786.4L673.6 786.5L674.6 786.7L675.6 786.9L676.6 787.1L677.6 787.3L678.6 787.5L679.6 787.7L680.6 787.9L681.6 788.1L682.6 788.3L683.6 788.4L684.6 788.6L685.6 788.8L686.6 789L687.6 789.2L688.6 789.4L689.6 789.6L690.6 789.8L691.6 790L692.6 790.2L693.6 790.4L694.6 790.6L695.6 790.8L696.6 791L697.6 791.2L698.6 791.4L699.6 791.6L700.6 791.8L701.6 792L702.6 792.2L703.6 792.4L704.6 792.6L705.6 792.8L706.6 793L707.6 793.2L708.6 793.4L709.6 793.6L710.6 793.8L711.6 794L712.6 794.1L713.6 794.3L714.6 794.5L715.6 794.7L716.6 794.9L717.6 795.1L718.6 795.3L719.6 795.5L720.6 795.6L721.6 795.8L722.6 795.9L723.6 796L724.6 796.2L725.6 796.3L726.6 796.5L727.6 796.6L728.6 796.7L729.6 796.8L730.6 797L731.6 797.1L732.6 797.2L733.6 797.3L734.6 797.4L735.6 797.5L736.6 797.6L737.6 797.7L738.6 797.8L739.6 797.8L740.6 797.9L741.6 797.9L742.6 797.9L743.6 797.9L744.6 797.8L745.6 797.6L746.6 797.3L747.6 796.9L748.6 796.4L749.6 795.7L750.6 794.8L751.6 793.5L752.6 792L753.6 790.2L754.6 788.1L755.6 786L756.6 784.3L757.6 783.6L757.8 783.6L758.6 784L759.6 785.6L760.6 787.7L761.6 790L762.6 792.1L763.6 793.9L764.6 795.4L765.6 796.6L766.6 797.5L767.6 798.3L768.6 798.9L769.6 799.3L770.6 799.7L771.6 800L772.6 800.3L773.6 800.5L774.6 800.7L775.6 800.9L776.6 801.1L777.6 801.2L778.6 801.4L779.6 801.5L780.6 801.6L781.6 801.7L782.6 801.8L783.6 801.9L784.6 802L785.6 802.1L786.6 802.1L787.6 802.2L788.6 802.2L789.6 802.3L790.6 802.4L791.6 802.4L792.6 802.5L793.6 802.5L794.6 802.6L795.6 802.6L796.6 802.6L797.6 802.7L798.6 802.7L799.6 802.8L800.6 802.8L801.6 802.8L802.6 802.8L803.6 802.9L804.6 802.9L805.6 802.9L806.6 802.9L807.6 803L808.6 803L809.6 803L810.6 803L811.6 803L812.6 803L813.6 803L814.6 803L815.6 803L816.6 803L817.6 802.9L818.6 802.9L819.6 802.9L820.6 802.9L821.6 802.8L822.6 802.8L823.6 802.8L824.6 802.7L825.6 802.7L826.6 802.6L827.6 802.5L828.6 802.5L829.6 802.4L830.6 802.3L831.6 802.2L832.6 802.1L833.6 802L834.6 801.9L835.6 801.7L836.6 801.6L837.6 801.4L838.6 801.2L839.6 801.1L840.6 800.9L841.6 800.6L842.6 800.4L843.6 800.1L844.6 799.8L845.6 799.4L846.6 799L847.6 798.6L848.6 798.2L849.6 797.8L850.6 797.3L851.6 796.7L852.6 796.1L853.6 795.5L854.6 794.8L855.6 794.1L856.6 793.3L857.6 792.5L858.6 791.5L859.6 790.5L860.6 789.4L861.6 788.1L862.6 786.8L863.6 785.3L864.6 783.6L865.6 781.8L866.6 779.7L867.6 777.4L868.6 774.8L869.6 771.8L870 770.5L870.6 768.4L871.6 764.4L872.6 759.7L873.6 754.1L874.6 747.1L875.6 738.5L876 734.4L876.6 727.6L877.6 713.6L878.6 695.6L879.6 672.6L880 661.7L880.6 643.5L881.6 607.1L882.6 562.6L883.6 509.4L884 485.7L884.6 447.7L885.6 378.2L886.6 303.4L887 272.8L887.6 227.4L888.6 156.5L889.6 99.5L890.2 76L890.6 65.9L891.2 59.9L891.6 62.3L892.6 89.3L893.6 141.3L894 167L894.6 209L895.6 283.2L896.6 357.1L897.6 425.7L898 451L898.6 486.3L899.6 537.2L900.6 577.7L901.6 607.4L902.6 626.7L903.6 636.4L904.6 639.1L905.5 640.2L905.6 640.5L906.3 645.1L906.6 648.4L906.9 652.7L907.6 665.2L908.5 683.2L908.6 685.2L909.6 702.3L910.6 713.8L911.4 718.3L911.6 718.9L912.6 718.4L913.5 716L913.6 715.8L914.5 717L914.6 717.5L915.5 726.2L915.6 727.5L916.6 741.5L916.7 742.9L917.6 754.3L918.5 763.4L918.6 764.3L919.6 771.6L920.6 776.8L921.6 780.6L922 781.8L922.6 783.5L923.6 785.8L924.6 787.7L925.6 789.3L926.6 790.7L927.6 792L928.6 793L929.6 794L930 794.4L930.6 794.9L931.6 795.7L932.6 796.4L933.6 797L934.6 797.6L935.6 798.1L936.6 798.6L937.6 799.1L938.6 799.5L939.6 799.9L940.6 800.2L941.6 800.6L942 800.7L942.6 800.8L943.6 801.1L944.6 801.4L945.6 801.6L946.6 801.8L947.6 802L948.6 802.2L949.6 802.3L950.6 802.5L951.6 802.6L952.6 802.7L953.6 802.8L954.6 802.8L955.6 802.9L956.6 802.9L957.6 803L958.6 803L959.6 803L960.6 802.9L961.6 803L962.6 803L963.6 803L964.6 803.1L965.6 803L966.6 803L967.6 802.9L968.6 802.9L969.6 802.7L970.6 802.6L971.6 802.4L972.6 802.2L973.6 801.9L974.6 801.6L975 801.5L975.6 801.3L976.6 800.9L977.6 800.4L978.6 799.8L979.6 799.2L980.6 798.4L981.6 797.6L982.6 796.6L983.6 795.4L984.6 794L985 793.4L985.6 792.3L986.6 790.3L987.6 787.9L988.6 784.9L989.6 781.1L990.6 776.5L991.6 770.9L992.6 763.9L993.4 757.2L993.6 755.4L994.6 745.2L995.6 733.1L996.6 719L997 712.8L997.6 702.9L998.6 685L999.6 665.7L1000 657.7L1000.6 645.8L1001.6 626.6L1002.6 610.1L1003.6 598.2L1004.6 593L1004.8 592.9L1005.6 595.5L1006.6 605.1L1007.6 620.3L1008 627.4L1008.6 638.9L1009.6 658.9L1010.6 678.8L1011.6 697.6L1012 704.6L1012.6 714.6L1013.6 729.7L1014.6 742.8L1015 747.4L1015.6 753.8L1016.6 763L1017.6 770.4L1018 772.9L1018.6 776.3L1019.6 780.8L1020.6 784.2L1021.6 786.5L1022 787.3L1022.6 788.2L1023.6 789.7L1024.4 791.2L1024.6 791.6L1025.6 794L1026 795.1L1026.6 796.7L1027.6 799.4L1028.6 801.7L1029.6 803.7L1030.6 805.4L1031.6 806.8L1032 807.3L1032.6 808L1033.6 809L1034.6 809.9L1035.6 810.7L1036.6 811.4L1037.6 812L1038.6 812.6L1039.6 813.1L1040 813.3L1040.6 813.6L1041.6 814.1L1042.6 814.6L1043.6 815L1044.6 815.4L1045.6 815.7L1046.6 816.1L1047.6 816.4L1048.6 816.8L1049.6 817.1L1050.6 817.4L1051.6 817.6L1052.6 817.9L1053.6 818.2L1054.6 818.4L1055.6 818.7L1056.6 818.9L1057.6 819.2L1058.6 819.4L1059.6 819.6L1060.6 819.8L1061.6 820L1062.6 820.2L1063.6 820.4L1064.6 820.6L1064.8 820.7L1065.6 820.8L1066.6 821L1067.6 821.2L1068.6 821.4L1069.6 821.5L1070.6 821.7L1071.6 821.9L1072.6 822L1073.6 822.2L1074.6 822.4L1075.6 822.5L1076.6 822.7L1077.6 822.8L1078.6 823L1079.6 823.2L1080.6 823.3L1081.6 823.4L1082.6 823.6L1083.6 823.7L1084.6 823.9L1085.6 824L1086.6 824.2L1087.6 824.3L1088.6 824.4L1089.6 824.6L1090.6 824.7L1091.6 824.8L1092.6 825L1093.6 825.1L1094.6 825.2L1095.6 825.3L1096.6 825.4L1097.6 825.6L1098.6 825.7L1099.6 825.8L1100.6 825.9L1101.6 825.9L1102.6 826L1103.6 826L1104.6 826.1L1105 826L1105.6 826L1106.6 825.9L1107.6 825.7L1108.6 825.4L1109.6 825L1110 824.8L1110.6 824.5L1111.6 824L1112.6 823.7L1113 823.8L1113.6 823.9L1114.6 824.5L1115.6 825.2L1116.6 826L1117.6 826.6L1118.6 827.2L1119 827.3L1119.6 827.6L1120.6 827.9L1121.6 828.2L1122.6 828.4L1123.6 828.7L1124 828.7L1124.6 828.8L1125.6 829L1126.6 829.2L1127.6 829.3L1128.6 829.5L1129.6 829.6L1130.6 829.7L1131.6 829.9L1132.6 830L1133.6 830.1L1134.6 830.3L1135.6 830.4L1136.6 830.4L1137.6 830.5L1138.6 830.5L1139.6 830.5L1140.6 830.5L1141.6 830.5L1142.6 830.5L1143.6 830.6L1144.6 830.6L1145.6 830.6L1146.6 830.6L1147.6 830.6L1148.6 830.6L1149.6 830.6L1150.6 830.6L1151.6 830.7L1152.6 830.7L1153.6 830.7L1154.6 830.7L1155.6 830.7L1156.6 830.7L1157.6 830.7L1158.6 830.7L1159.6 830.8L1160.6 830.8L1161.6 830.8L1162.6 830.8L1163.6 830.8L1164.6 830.8L1165.6 830.8L1166.6 830.8L1167.6 830.8L1168.6 830.8L1169.6 830.8L1170.6 830.9L1171.6 830.9L1172.6 830.9L1173.6 830.9L1174.6 830.9L1175.6 830.9L1176.6 830.9L1177.6 830.9L1178.6 830.9L1179.6 830.9L1180.6 830.9L1181.6 830.9L1182.6 830.9L1183.6 830.9L1184.6 831L1185.6 831L1186.6 831L1187.6 831L1188.6 831L1189.6 831L1190.6 831L1191.6 831L1192.6 831L1193.6 831L1194.6 831L1195.6 831L1196.6 831L1197.6 831L1198.6 831L1199.6 831L1200.6 831L1201.6 831L1202.6 831L1203.6 831L1204.6 831L1205.6 831L1206.6 831L1207.6 831L1208.6 831L1209.6 831L1210.6 831L1211.6 831L1212.6 831L1213.6 831L1214.6 830.9L1215.6 830.9L1216.6 830.8L1217.6 830.7L1218.6 830.6L1219.6 830.4L1220.6 830L1221.6 829.3L1222 828.8L1222.6 827.6L1223.6 823.8L1224.6 819.3L1224.8 819.2L1225.6 819.4L1226.6 820.1L1227 820.5L1227.6 821.2L1228.6 822.5L1229.6 823.8L1230.6 824.9L1231.6 826L1232 826.3L1232.6 826.9L1233.6 827.6L1234.6 828.2L1235.6 828.6L1236 828.8L1236.6 829L1237.6 829.3L1238.6 829.6L1239.6 829.8L1240 829.8L1240.6 829.9L1241.6 830.1L1242.6 830.2L1243.6 830.3L1244.6 830.4L1245.6 830.4L1246 830.4L1246.6 830.5L1247.6 830.5L1248.6 830.6L1249.6 830.6L1250.6 830.7L1251.6 830.7L1252.6 830.7L1253.6 830.7L1254.6 830.8L1255.6 830.8L1256.6 830.8L1257.6 830.8L1258.6 830.8L1259.6 830.8L1260.6 830.8L1261.6 830.8L1262.6 830.8L1263.6 830.8L1264.6 830.8L1265.6 830.8L1266.6 830.8L1267.6 830.8L1268.6 830.8L1269.6 830.8L1270.6 830.8L1271.6 830.8L1272.6 830.7L1273.6 830.7L1274.6 830.7L1275.6 830.7L1276.6 830.7L1277.6 830.6L1278.6 830.6L1279.6 830.6L1280 830.6L1280.6 830.6L1281.6 830.5L1282.6 830.5L1283.6 830.5L1284.6 830.4L1285.6 830.4L1286.6 830.4L1287.6 830.3L1288.6 830.3L1289.6 830.2L1290.6 830.1L1291.6 830L1292.6 829.9L1293.6 829.8L1294.6 829.6L1295.6 829.4L1296.6 828.9L1297.6 828.4L1298.6 827.6L1299.6 826.7L1300 826.4L1300.6 826L1301 825.9L1301.6 825.9L1302.6 826.2L1303.6 826.6L1304.6 827L1305.6 827.4L1306.6 827.7L1307.6 827.9L1308.6 828L1309.6 828L1310.6 827.8L1311.6 827.3L1312.6 826.3L1313.6 824.5L1314.6 822.3L1315.2 821.8L1315.6 821.8L1316.6 822L1317.6 822.5L1318.6 823.2L1319.6 823.8L1320 824.1L1320.6 824.5L1321.6 825L1322.6 825.4L1323.6 825.8L1324.6 826L1325.6 826.2L1326.6 826.2L1327.6 826.3L1328.6 826.2L1329.6 826.2L1330.6 826.1L1331.6 825.9L1332.6 825.7L1333.6 825.5L1334.6 825.3L1335.6 825L1336.6 824.7L1337.6 824.4L1338.6 824L1339.6 823.6L1340 823.4L1340.6 823.1L1341.6 822.6L1342.6 822.1L1343.6 821.4L1344.6 820.7L1345.6 819.9L1346.6 819L1347.6 818L1348.6 816.9L1349.6 815.6L1350.6 814.2L1351.6 812.6L1352 811.9L1352.6 810.8L1353.6 808.7L1354.6 806.4L1355.6 803.9L1356.6 801L1357.6 797.8L1358.6 794.4L1359.6 790.6L1360.6 786.5L1361.6 782.2L1362.6 777.7L1363.6 773.2L1364 771.4L1364.6 768.9L1365.6 765L1366.6 761.7L1367.6 759.5L1368.6 758.3L1369 758.2L1369.6 758.5L1370.6 759.8L1371.6 762.3L1372.6 765.7L1373.6 769.7L1374.6 774.1L1375.6 778.6L1376 780.4L1376.6 783L1377.6 787.3L1378.6 791.3L1379.6 795.1L1380.6 798.5L1381.6 801.6L1382.6 804.4L1383.6 806.9L1384.6 809.1L1385 809.9L1385.6 811.1L1386.6 812.9L1387.6 814.5L1388.6 815.9L1389.6 817.1L1390.6 818.2L1391.6 819.2L1392.6 820.1L1393.6 820.9L1394.6 821.6L1395.6 822.2L1396.6 822.8L1397.6 823.3L1398.6 823.7L1399.6 824.2L1400 824.3L1400.6 824.6L1401.6 824.9L1402.6 825.2L1403.6 825.5L1404.6 825.8L1405.6 826.1L1406.6 826.3L1407.6 826.5L1408.6 826.8L1409.6 826.9L1410.6 827.1L1411.6 827.3L1412.6 827.4L1413.6 827.6L1414.6 827.7L1415.6 827.9L1416.6 828L1417.6 828.1L1418.6 828.2L1419.6 828.3L1420.6 828.4L1421.6 828.5L1422.6 828.6L1423.6 828.6L1424.6 828.7L1425.6 828.8L1426.6 828.8L1427.6 828.9L1428.6 829L1429.6 829L1430.6 829.1L1431.6 829.1L1432.6 829.2L1433.6 829.2L1434.6 829.3L1435.6 829.3L1436.6 829.3L1437.6 829.4L1438.6 829.4L1439.6 829.4L1440.6 829.5L1441.6 829.5L1442.6 829.5L1443.6 829.5L1444.6 829.6L1445.6 829.6L1446.6 829.6L1447.6 829.6L1448.6 829.7L1449.6 829.7L1450.6 829.7L1451.6 829.7L1452.6 829.7L1453.6 829.7L1454.6 829.7L1455.6 829.8L1456.6 829.8L1457.6 829.8L1458.6 829.8L1459.6 829.8L1460.6 829.8L1461.6 829.8L1462.6 829.8L1463.6 829.8L1464.6 829.8L1465.6 829.8L1466.6 829.8L1467.6 829.8L1468.6 829.8L1469.6 829.8L1470.6 829.7L1471.6 829.7L1472.6 829.7L1473.6 829.6L1474.6 829.5L1475.6 829.4L1476.6 829.3L1477.6 829L1478.6 828.5L1479.6 827.4L1480.6 824.7L1481.6 819.9L1482.3 817.9L1482.6 817.9L1483.6 818.2L1484.6 818.7L1485.6 819.5L1486.6 820.4L1487.6 821.4L1488.6 822.3L1489.6 823.2L1490.6 824.1L1491.6 824.8L1492.6 825.4L1493.6 826L1494.6 826.5L1495.6 826.9L1496.6 827.2L1497.6 827.5L1498.6 827.7L1499.6 827.9L1500.6 828.1L1501.6 828.2L1502.6 828.4L1503.6 828.4L1504.6 828.5L1505.6 828.6L1506.6 828.7L1507.6 828.7L1508.6 828.7L1509.6 828.8L1510.6 828.8L1511.6 828.8L1512.6 828.8L1513.6 828.9L1514.6 828.9L1515.6 828.9L1516.6 828.9L1517.6 828.9L1518.6 828.9L1519.6 828.9L1520.6 828.8L1521.6 828.8L1522.6 828.8L1523.6 828.8L1524.6 828.8L1525.6 828.7L1526.6 828.7L1527.6 828.8L1528.6 828.8L1529.6 828.8L1530.6 828.8L1531.6 828.9L1532.6 828.9L1533.6 828.9L1534.6 828.9L1535.6 828.9L1536.6 828.9L1537.6 828.9L1538.6 828.9L1539.6 828.9L1540.6 828.9L1541.6 828.9L1542.6 828.9L1543.6 828.8L1544.6 828.8L1545.6 828.8L1546.6 828.7L1547.6 828.7L1548.6 828.7L1549.6 828.6L1550.6 828.5L1551.6 828.5L1552.6 828.4L1553.6 828.3L1554.6 828.2L1555.6 828.1L1556.6 828L1557.6 827.8L1558.6 827.7L1559.6 827.5L1560.6 827.3L1561.6 827.1L1562.6 826.9L1563.6 826.6L1564.6 826.4L1565.6 826.1L1566.6 825.7L1567.6 825.4L1568.6 825L1569.6 824.5L1570.6 824L1571.6 823.5L1572.6 822.9L1573.6 822.2L1574.6 821.5L1575.6 820.7L1576.6 819.8L1577.6 818.9L1578.6 817.8L1579.6 816.7L1580 816.2L1580.6 815.4L1581.6 814.1L1582.6 812.6L1583.6 811.1L1584.6 809.4L1585.6 807.7L1586.6 805.9L1587.6 804L1588.6 802.1L1589.6 800.2L1590.6 798.4L1591.6 796.7L1592.6 795.2L1593.6 793.9L1594.6 793L1595.6 792.3L1596 792.2L1596.6 792.1L1596.7 792.1L1597.6 792.4L1598.6 793L1599.6 793.9L1600.6 795.3L1601.6 796.8L1602.6 798.6L1603.6 800.5L1604.6 802.4L1605.6 804.4L1606 805.2L1606.6 806.4L1607.6 808.3L1608.6 810.1L1609.6 811.9L1610.6 813.5L1611.6 815.1L1612.6 816.5L1613.6 817.8L1614.6 819.1L1615 819.6L1615.6 820.2L1616.6 821.3L1617.6 822.2L1618.6 823.1L1619.6 823.9L1620.6 824.7L1621.6 825.4L1622.6 826L1623.6 826.5L1624.6 827L1625 827.2L1625.6 827.5L1626.6 827.9L1627.6 828.3L1628.6 828.7L1629.6 829L1630.6 829.3L1631.6 829.5L1632.6 829.7L1633.6 829.9L1634.6 830.1L1635.6 830.2L1636.6 830.4L1637.6 830.5L1638.6 830.5L1639.6 830.6L1640 830.6L1640.6 830.6L1641.6 830.6L1642.6 830.6L1643.6 830.5L1644.6 830.4L1645.6 830.3L1646.6 830.2L1647.6 830L1648.6 829.8L1649.6 829.6L1650.6 829.3L1651.6 829L1652.6 828.7L1653.6 828.3L1654.6 827.9L1655 827.7L1655.6 827.4L1656.6 826.9L1657.6 826.4L1658.6 825.9L1659.6 825.4L1660.6 824.8L1661.6 824.3L1662.6 823.8L1663.6 823.3L1664.6 822.9L1665.6 822.6L1666.6 822.4L1667.6 822.3L1668 822.3L1668.5 822.4L1668.6 822.4L1669.6 822.5L1670.6 822.8L1671.6 823.2L1672.6 823.7L1673.6 824.3L1674 824.6L1674.6 825L1675.6 825.7L1676.6 826.4L1677.6 827.1L1678.6 827.8L1679.6 828.5L1680.6 829.2L1681.6 829.9L1682.6 830.5L1683.6 831.1L1684.6 831.7L1685.6 832.2L1686.6 832.7L1687.6 833.2L1688.6 833.7L1689.6 834.1L1690 834.2L1690.6 834.5L1691.6 834.8L1692.6 835.2L1693.6 835.5L1694.6 835.8L1695.6 836.1L1696.6 836.3L1697.6 836.6L1698.6 836.8L1699.6 837L1700.6 837.2L1701.6 837.4L1702.6 837.6L1703.6 837.8L1704.6 838L1705.6 838.1L1706.6 838.3L1707.6 838.4L1708.6 838.6L1709.6 838.7L1710 838.7L1710.6 838.8L1711.6 838.9L1712.6 839.1L1713.6 839.2L1714.6 839.3L1715.6 839.4L1716.6 839.5L1717.6 839.6L1718.6 839.7L1719.6 839.8L1720.6 839.9L1721.6 839.9L1722.6 840L1723.6 840.1L1724.6 840.2L1725.6 840.3L1726.6 840.3L1727.6 840.4L1728.6 840.5L1729.6 840.6L1730 840.6L1730.6 840.6L1731.6 840.7L1732.6 840.8L1733.6 840.8L1734.6 840.9L1735.6 841L1736.6 841L1737.6 841.1L1738.6 841.1L1739.6 841.2L1740.6 841.3L1741.6 841.3L1742.6 841.4L1743.6 841.4L1744.6 841.5L1745.6 841.6L1746.6 841.6L1747.6 841.7L1748.6 841.7L1749.6 841.8L1750.6 841.8L1751.6 841.9L1752.6 842L1753.6 842L1754.6 842.1L1755.6 842.1L1756.6 842.2L1757.6 842.2L1758.6 842.3L1759.6 842.3L1760.6 842.4L1761.6 842.4L1762.6 842.5L1763.6 842.5L1764.6 842.6L1765.6 842.6L1766.6 842.7L1767.6 842.7L1768.6 842.8L1769.6 842.8L1770.6 842.9L1771.6 842.9L1772.6 843L1773.6 843L1774.6 843.1L1775.6 843.1L1776.6 843.2L1777.6 843.2L1778.6 843.3L1779.6 843.3L1780.6 843.3L1781.6 843.4L1782.6 843.4L1783.6 843.5L1784.6 843.5L1785.6 843.6L1786.6 843.6L1787.6 843.7L1788.6 843.7L1789.6 843.8L1790.6 843.8L1791.6 843.9L1792.6 843.9L1793.6 843.9L1794.6 844L1795.6 844L1796.6 844L1797.6 844L1798.6 844L1799.6 844L1800.6 844L1801.6 844L1802.6 844L1803.6 844L1804.6 844L1805.6 844L1806.6 844L1807.6 844L1808.6 844L1809.6 844L1810.6 844L1811.6 844L1812.6 844L1813.6 844L1814.6 844L1815.6 844L1816.6 844L1817.6 843.9L1818.6 843.9L1819.6 843.9L1820.6 843.9L1821.6 843.9L1822.6 843.9L1823.6 843.9L1824.6 843.9L1825.6 843.9L1826.6 843.9L1827.6 843.9L1828.6 843.9L1829.6 843.9L1830.6 843.9L1831.6 843.9L1832.6 843.9L1833.6 843.9L1834.6 843.9L1835.6 843.9L1836.6 843.8L1837.6 843.8L1838.6 843.8L1839.6 843.8L1840.6 843.8L1841.6 843.8L1842.6 843.8L1843.6 843.8L1844.6 843.8L1845.6 843.8L1846.6 843.8L1847.6 843.8L1848.6 843.8L1849.6 843.8L1850.6 843.8L1851.6 843.8L1852.6 843.7L1853.6 843.7L1854.6 843.7L1855.6 843.7L1856.6 843.7L1857.6 843.7L1858.6 843.7L1859.6 843.7L1860.6 843.7L1861.6 843.7L1862.6 843.7L1863.6 843.7L1864.6 843.7L1865.6 843.7L1866.6 843.7L1867.6 843.6L1868.6 843.6L1869.6 843.6L1870.6 843.6L1871.6 843.6L1872.6 843.6L1873.6 843.6L1874.6 843.6L1875.6 843.6L1876.6 843.6L1877.6 843.6L1878.6 843.6L1879.6 843.6L1880.6 843.6L1881.6 843.5L1882.6 843.5L1883.6 843.5L1884.6 843.5L1885.6 843.5L1886.6 843.5L1887.6 843.5L1888.6 843.5L1889.6 843.5L1890.6 843.5L1891.6 843.5L1892.6 843.5L1893.6 843.5L1894.6 843.5L1895.6 843.4" stroke="#0000ff" stroke-width="2.2" fill="none" stroke-linejoin="round"/>
<path d="M287.6 730.2L305.5 756.9L324.7 775.9L346.9 795.4L363.2 805.9L377.3 812.4L398.1 812.7L423.6 807.5L456.2 804.6L486.6 805.2L519.9 805.2L547 801L581.9 792.8L600.8 789.6L622.7 785.6L657.6 784L686.3 789.6L719.6 796.5L744 800.5L781.6 804.1L842.6 808.7L961 811.3L1026.4 819.5L1135.7 831.5L1261 832.1L1526.3 831L1650.5 838L1715.8 841.3L1795.8 844.5L1901.8 843.6" stroke="#00ff3c" stroke-width="3.8" fill="none" opacity="0.4"/>
<path d="M287.6 730.2L305.5 756.9L324.7 775.9L346.9 795.4L363.2 805.9L377.3 812.4L398.1 812.7L423.6 807.5L456.2 804.6L486.6 805.2L519.9 805.2L547 801L581.9 792.8L600.8 789.6L622.7 785.6L657.6 784L686.3 789.6L719.6 796.5L744 800.5L781.6 804.1L842.6 808.7L961 811.3L1026.4 819.5L1135.7 831.5L1261 832.1L1526.3 831L1650.5 838L1715.8 841.3L1795.8 844.5L1901.8 843.6" stroke="#0a5c0a" stroke-width="1.8" fill="none"/>
<rect x="285.8" y="728.4" width="3.6" height="3.6" fill="#ff00ff"/>
<rect x="303.7" y="755.1" width="3.6" height="3.6" fill="#ff00ff"/>
<rect x="322.9" y="774.1" width="3.6" height="3.6" fill="#ff00ff"/>
<rect x="345.1" y="793.6" width="3.6" height="3.6" fill="#ff00ff"/>
<rect x="361.4" y="804.1" width="3.6" height="3.6" fill="#ff00ff"/>
<rect x="375.5" y="810.6" width="3.6" height="3.6" fill="#ff00ff"/>
<rect x="396.3" y="810.9" width="3.6" height="3.6" fill="#ff00ff"/>
<rect x="421.8" y="805.7" width="3.6" height="3.6" fill="#ff00ff"/>
<rect x="454.4" y="802.8" width="3.6" height="3.6" fill="#ff00ff"/>
<rect x="484.8" y="803.4" width="3.6" height="3.6" fill="#ff00ff"/>
<rect x="518.1" y="803.4" width="3.6" height="3.6" fill="#ff00ff"/>
<rect x="545.2" y="799.2" width="3.6" height="3.6" fill="#ff00ff"/>
<rect x="580.1" y="791" width="3.6" height="3.6" fill="#ff00ff"/>
<rect x="599" y="787.8" width="3.6" height="3.6" fill="#ff00ff"/>
<rect x="620.9" y="783.8" width="3.6" height="3.6" fill="#ff00ff"/>
<rect x="655.8" y="782.2" width="3.6" height="3.6" fill="#ff00ff"/>
<rect x="684.5" y="787.8" width="3.6" height="3.6" fill="#ff00ff"/>
<rect x="717.8" y="794.7" width="3.6" height="3.6" fill="#ff00ff"/>
<rect x="742.2" y="798.7" width="3.6" height="3.6" fill="#ff00ff"/>
<rect x="779.8" y="802.3" width="3.6" height="3.6" fill="#ff00ff"/>
<rect x="840.8" y="806.9" width="3.6" height="3.6" fill="#ff00ff"/>
<rect x="959.2" y="809.5" width="3.6" height="3.6" fill="#ff00ff"/>
<rect x="1024.6" y="817.7" width="3.6" height="3.6" fill="#ff00ff"/>
<rect x="1133.9" y="829.7" width="3.6" height="3.6" fill="#ff00ff"/>
<rect x="1259.2" y="830.3" width="3.6" height="3.6" fill="#ff00ff"/>
<rect x="1524.5" y="829.2" width="3.6" height="3.6" fill="#ff00ff"/>
<rect x="1648.7" y="836.2" width="3.6" height="3.6" fill="#ff00ff"/>
<rect x="1714" y="839.5" width="3.6" height="3.6" fill="#ff00ff"/>
<rect x="1794" y="842.7" width="3.6" height="3.6" fill="#ff00ff"/>
<rect x="1900" y="841.8" width="3.6" height="3.6" fill="#ff00ff"/>
<rect x="438" y="799.7" width="3.7" height="73.1" fill="#ff00ff"/>
<rect x="548" y="793.8" width="3.7" height="79" fill="#ff00ff"/>
<rect x="555.5" y="794" width="3.7" height="78.8" fill="#00ff3c"/>
<rect x="590.4" y="790" width="3.7" height="82.8" fill="#ff00ff"/>
<rect x="593" y="743" width="3.7" height="129.8" fill="#00ff3c"/>
<rect x="619.9" y="774" width="3.7" height="98.8" fill="#ff00ff"/>
<rect x="742.5" y="797.6" width="3.7" height="75.2" fill="#00ff3c"/>
<rect x="755.9" y="785" width="3.7" height="87.8" fill="#0000ff"/>
<rect x="804.9" y="801" width="3.7" height="71.8" fill="#ff00ff"/>
<rect x="816.2" y="801" width="3.7" height="71.8" fill="#00ff3c"/>
<rect x="818.9" y="801.5" width="3.7" height="71.3" fill="#ff00ff"/>
<rect x="884.5" y="803" width="3.7" height="69.8" fill="#00ff3c"/>
<rect x="890" y="80" width="3.7" height="792.8" fill="#0000ff"/>
<rect x="891.4" y="712.7" width="3.7" height="160.1" fill="#ff00ff"/>
<rect x="904.4" y="627" width="3.7" height="245.8" fill="#00ff3c"/>
<rect x="909.6" y="800" width="3.7" height="72.8" fill="#ff00ff"/>
<rect x="911.9" y="759" width="3.7" height="113.8" fill="#ff00ff"/>
<rect x="914.5" y="723" width="3.7" height="149.8" fill="#ff00ff"/>
<rect x="931.1" y="805.4" width="3.7" height="67.4" fill="#ff00ff"/>
<rect x="946.9" y="809.7" width="3.7" height="63.1" fill="#00ff3c"/>
<rect x="956.6" y="803" width="3.7" height="69.8" fill="#ff00ff"/>
<rect x="982.8" y="785" width="3.7" height="87.8" fill="#ff00ff"/>
<rect x="1002.7" y="553.8" width="4.2" height="319" fill="#0000ff"/>
<rect x="1022.6" y="807.4" width="3.7" height="65.4" fill="#00ff3c"/>
<rect x="1197.5" y="830.5" width="3.7" height="42.3" fill="#0000ff"/>
<rect x="1209.2" y="830.5" width="3.7" height="42.3" fill="#00ff3c"/>
<rect x="1223" y="799.5" width="3.7" height="73.3" fill="#00ff3c"/>
<rect x="1254.6" y="830.5" width="3.7" height="42.3" fill="#00ff3c"/>
<rect x="1299.2" y="827" width="3.7" height="45.8" fill="#00ff3c"/>
<rect x="1313.4" y="819" width="3.7" height="53.8" fill="#00ff3c"/>
<rect x="1342.7" y="830.5" width="3.7" height="42.3" fill="#00ff3c"/>
<rect x="1358.4" y="830.5" width="3.7" height="42.3" fill="#00ff3c"/>
<rect x="1366.9" y="724.4" width="4.2" height="148.4" fill="#0000ff"/>
<rect x="1399.9" y="827" width="3.7" height="45.8" fill="#00ff3c"/>
<rect x="1446.2" y="829" width="3.7" height="43.8" fill="#0000ff"/>
<rect x="1480.5" y="799.5" width="3.7" height="73.3" fill="#00ff3c"/>
<rect x="1521.9" y="829" width="3.7" height="43.8" fill="#0000ff"/>
<rect x="1546.4" y="829" width="3.7" height="43.8" fill="#00ff3c"/>
<rect x="1594.7" y="772.7" width="4" height="100.1" fill="#0000ff"/>
<rect x="1622" y="829" width="3.7" height="43.8" fill="#00ff3c"/>
<rect x="1636.7" y="829" width="3.7" height="43.8" fill="#00ff3c"/>
<rect x="1666.5" y="789.7" width="4" height="83.1" fill="#0000ff"/>
<rect x="1710.8" y="838.7" width="3.7" height="34.1" fill="#00ff3c"/>
<rect x="1771.2" y="839.3" width="3.7" height="33.5" fill="#00ff3c"/>
<rect x="1805.4" y="843.6" width="3.7" height="29.2" fill="#0000ff"/>
<rect x="287.6" y="871.6" width="1616.7" height="2.4" fill="#555"/>
<rect x="755" y="896.5" width="2.2" height="15.5" fill="#0000ff"/>
<rect x="889.1" y="896.5" width="2.2" height="15.5" fill="#0000ff"/>
<rect x="1002.9" y="896.5" width="2.2" height="15.5" fill="#0000ff"/>
<rect x="1197.1" y="896.5" width="2.2" height="15.5" fill="#0000ff"/>
<rect x="1367.9" y="896.5" width="2.2" height="15.5" fill="#0000ff"/>
<rect x="1446.2" y="896.5" width="2.2" height="15.5" fill="#0000ff"/>
<rect x="1522.1" y="896.5" width="2.2" height="15.5" fill="#0000ff"/>
<rect x="1594.7" y="896.5" width="2.2" height="15.5" fill="#0000ff"/>
<rect x="1666.9" y="896.5" width="2.2" height="15.5" fill="#0000ff"/>
<rect x="1806.5" y="896.5" width="2.2" height="15.5" fill="#0000ff"/>
<rect x="418.5" y="912" width="2.2" height="15.5" fill="#00ff3c"/>
<rect x="558.2" y="912" width="2.2" height="15.5" fill="#00ff3c"/>
<rect x="593.9" y="912" width="2.2" height="15.5" fill="#00ff3c"/>
<rect x="658.9" y="912" width="2.2" height="15.5" fill="#00ff3c"/>
<rect x="743.6" y="912" width="2.2" height="15.5" fill="#00ff3c"/>
<rect x="771.4" y="912" width="2.2" height="15.5" fill="#00ff3c"/>
<rect x="818.2" y="912" width="4" height="15.5" fill="#00ff3c"/>
<rect x="886.2" y="912" width="2.2" height="15.5" fill="#00ff3c"/>
<rect x="906.6" y="912" width="2.2" height="15.5" fill="#00ff3c"/>
<rect x="947.4" y="912" width="2.2" height="15.5" fill="#00ff3c"/>
<rect x="965.8" y="912" width="2.2" height="15.5" fill="#00ff3c"/>
<rect x="1021.7" y="912" width="2.2" height="15.5" fill="#00ff3c"/>
<rect x="1058.8" y="912" width="2.2" height="15.5" fill="#00ff3c"/>
<rect x="1109.3" y="912" width="4" height="15.5" fill="#00ff3c"/>
<rect x="1128.2" y="912" width="2.2" height="15.5" fill="#00ff3c"/>
<rect x="1159.6" y="912" width="2.2" height="15.5" fill="#00ff3c"/>
<rect x="1207.2" y="912" width="4" height="15.5" fill="#00ff3c"/>
<rect x="1223.2" y="912" width="2.2" height="15.5" fill="#00ff3c"/>
<rect x="1253.4" y="912" width="2.2" height="15.5" fill="#00ff3c"/>
<rect x="1297.8" y="912" width="4" height="15.5" fill="#00ff3c"/>
<rect x="1312.6" y="912" width="2.2" height="15.5" fill="#00ff3c"/>
<rect x="1342.4" y="912" width="2.2" height="15.5" fill="#00ff3c"/>
<rect x="1356.6" y="912" width="2.2" height="15.5" fill="#00ff3c"/>
<rect x="1401.3" y="912" width="2.2" height="15.5" fill="#00ff3c"/>
<rect x="1425.8" y="912" width="4.5" height="15.5" fill="#00ff3c"/>
<rect x="1465.3" y="912" width="4" height="15.5" fill="#00ff3c"/>
<rect x="1479.1" y="912" width="5" height="15.5" fill="#00ff3c"/>
<rect x="1505" y="912" width="2.2" height="15.5" fill="#00ff3c"/>
<rect x="1508.6" y="912" width="2.2" height="15.5" fill="#00ff3c"/>
<rect x="1544.5" y="912" width="4" height="15.5" fill="#00ff3c"/>
<rect x="1582.3" y="912" width="5" height="15.5" fill="#00ff3c"/>
<rect x="1620" y="912" width="4.5" height="15.5" fill="#00ff3c"/>
<rect x="1634.1" y="912" width="5" height="15.5" fill="#00ff3c"/>
<rect x="1658" y="912" width="2.2" height="15.5" fill="#00ff3c"/>
<rect x="1671.8" y="912" width="2.2" height="15.5" fill="#00ff3c"/>
<rect x="1706.9" y="912" width="2.2" height="15.5" fill="#00ff3c"/>
<rect x="1710.6" y="912" width="2.2" height="15.5" fill="#00ff3c"/>
<rect x="1731.6" y="912" width="5" height="15.5" fill="#00ff3c"/>
<rect x="1742.8" y="912" width="2.2" height="15.5" fill="#00ff3c"/>
<rect x="1767.7" y="912" width="2.2" height="15.5" fill="#00ff3c"/>
<rect x="1771.8" y="912" width="2.2" height="15.5" fill="#00ff3c"/>
<rect x="1778.3" y="912" width="2.2" height="15.5" fill="#00ff3c"/>
<rect x="1806.9" y="912" width="2.2" height="15.5" fill="#00ff3c"/>
<rect x="1815.9" y="912" width="2.2" height="15.5" fill="#00ff3c"/>
<rect x="1841.8" y="912" width="5" height="15.5" fill="#00ff3c"/>
<rect x="1852.2" y="912" width="2.2" height="15.5" fill="#00ff3c"/>
<rect x="1874.8" y="912" width="5" height="15.5" fill="#00ff3c"/>
<path d="M287.6 1020H1896.5" stroke="#d8d8d8" stroke-width="1" stroke-dasharray="2 2"/>
<path d="M287.6 1018.5L288.6 1014.5L289.6 1012.9L290.6 1016.1L291.6 1017.9L292.6 1018.4L293.6 1011.8L294.6 1010.8L295.6 1014.2L296.6 1005.9L297.6 1017.5L298.6 1018.3L299.6 1016.9L300.6 1012.9L301.6 1019.2L302.6 1016.5L303.6 1026.3L304.6 1022.3L305.6 1011.4L306.6 1018.4L307.6 1014.4L308.6 1013.1L309.6 1014.2L310.6 1015.1L311.6 1017.3L312.6 1020.8L313.6 1020.6L314.6 1014.5L315.6 1009.1L316.6 1010.2L317.6 1016.5L318.6 1021L319.6 1027.4L320.6 1013.8L321.6 1016.2L322.6 1015.4L323.6 1014.3L324.6 1017.2L325.6 1016.1L326.6 1015.6L327.6 1013.2L328.6 1017.6L329.6 1022.9L330.6 1027.5L331.6 1017.9L332.6 1012.1L333.6 1014.1L334.6 1012.3L335.6 1021L336.6 1015.1L337.6 1017.5L338.6 1010.9L339.6 1013.8L340.6 1017.6L341.6 1025.4L342.6 1016.7L343.6 1019.2L344.6 1007.7L345.6 1007.9L346.6 1009.9L347.6 1012.8L348.6 1018.1L349.6 1020.7L350.6 1010.6L351.6 1017.8L352.6 1012.1L353.6 1025.1L354.6 1022L355.6 1020L356.6 1017.6L357.6 1017.4L358.6 1017.4L359.6 1013.8L360.6 1019.8L361.6 1019.5L362.6 1021.7L363.6 1018.2L364.6 1020.5L365.6 1013.9L366.6 1033L367.6 1018.6L368.6 1014.8L369.6 1020.5L370.6 1023.8L371.6 1014.8L372.6 1007.1L373.6 1005.8L374.6 1007.1L375.6 1008.6L376.6 1011.9L377.6 1019L378.6 1021.9L379.6 1014.1L380.6 1017L381.6 1019.8L382.6 1023.8L383.6 1017.5L384.6 1012L385.6 1017.8L386.6 1023.9L387.6 1015.6L388.6 1025L389.6 1027.4L390.6 1018.4L391.6 1008.5L392.6 1010L393.6 1011.8L394.6 1016.6L395.6 1007.4L396.6 1024.4L397.6 1029.8L398.6 1016.4L399.6 1006.1L400.6 1011L401.6 1015.8L402.6 1022L403.6 1021.3L404.6 1016.5L405.6 1006.2L406.6 1015L407.6 1019.8L408.6 1015.7L409.6 1017.2L410.6 1017.5L411.6 1015.6L412.6 1010.5L413.6 1015.9L414.6 1008.9L415.6 1020.9L416.6 1013.5L417.6 1018.2L418.6 1013.7L419.6 1017.8L420.6 1016.4L421.6 1019.3L422.6 1013.4L423.6 1007.3L424.6 1011.8L425.6 1013.1L426.6 1007.7L427.6 1009.8L428.6 1005.5L429.6 1013.1L430.6 1012.8L431.6 1014.8L432.6 1028.3L433.6 1020.8L434.6 1019.5L435.6 1020.2L436.6 1016.7L437.6 1013.3L438.6 1019.4L439.6 1022.2L440.6 1003.6L441.6 1010.6L442.6 1012.5L443.6 1011.9L444.6 1020.5L445.6 1014.6L446.6 1019.7L447.6 1014.4L448.6 1013.3L449.6 1018.8L450.6 1013.2L451.6 1014L452.6 1009.4L453.6 1009.3L454.6 1017.5L455.6 1019.3L456.6 1011.4L457.6 1008.4L458.6 1026L459.6 1016.2L460.6 1011.6L461.6 1017.1L462.6 1012.9L463.6 1013.2L464.6 1020.1L465.6 1022.7L466.6 1017.5L467.6 1023.5L468.6 1018.3L469.6 1015.6L470.6 1016.3L471.6 1015.1L472.6 1019L473.6 1018.7L474.6 1013.6L475.6 1016.4L476.6 1013.8L477.6 1012.6L478.6 1014.5L479.6 1020.9L480.6 1019.4L481.6 1023.9L482.6 1026.9L483.6 1020.2L484.6 1014.9L485.6 1012L486.6 1016.4L487.6 1020.9L488.6 1026.2L489.6 1013.4L490.6 1019.9L491.6 1023.1L492.6 1031.4L493.6 1022.9L494.6 1018.7L495.6 1010L496.6 1010.5L497.6 1009.1L498.6 1009.1L499.6 1009.9L500.6 1006.9L501.6 1012.9L502.6 1017.5L503.6 1020.9L504.6 1017.6L505.6 1022.3L506.6 1023.7L507.6 1011.5L508.6 1013.3L509.6 1009.1L510.6 1008.5L511.6 1014.3L512.6 1014.7L513.6 1023L514.6 1028.7L515.6 1022.5L516.6 1017.1L517.6 1015.8L518.6 1016.1L519.6 1019L520.6 1013.8L521.6 1018.2L522.6 1015.7L523.6 1021.3L524.6 1025.2L525.6 1028.4L526.6 1020.3L527.6 1011.2L528.6 1006.3L529.6 1011.4L530.6 1007.7L531.6 1005.2L532.6 1010.7L533.6 1009.5L534.6 1017.5L535.6 1026.7L536.6 1018.9L537.6 1018.6L538.6 1009.1L539.6 1014.2L540.6 1011.9L541.6 1009.1L542.6 1004.1L543.6 1019.5L544.6 1009.4L545.6 1007.7L546.6 1013.5L547.6 1016.7L548.6 1018.1L549.6 1017.9L550.6 1012.9L551.6 1019.2L552.6 1018.6L553.6 1010.2L554.6 1022.2L555.6 1017.1L556.6 1022L557.6 1011.4L558.6 1009L559.6 1011.3L560.6 1011.2L561.6 1019.7L562.6 1009.7L563.6 1014.7L564.6 1010.5L565.6 1016.5L566.6 1016.9L567.6 1013.4L568.6 1026.2L569.6 1019.2L570.6 1022.5L571.6 1011.4L572.6 1013.3L573.6 1015L574.6 1016L575.6 1013.8L576.6 1011.1L577.6 998.8L578.6 1007.5L579.6 1009.2L580.6 1012.6L581.6 1019.1L582.6 1028.5L583.6 1023.4L584.6 1023.2L585.6 1021.6L586.6 1021.5L587.6 1020.7L588.6 1016.2L589.6 1014.4L590.6 1017.1L591.6 1025.5L592.6 1023.2L593.6 1026.4L594.6 1013.4L594.9 1016.4L595.6 1018L596.6 1018.9L597.6 1010L598.6 1004.2L599.6 1001L600.6 1009L601.6 1025.2L602.6 1020.4L603.6 1011.2L604.6 1016.3L605.6 1014.7L606.6 1016.6L607.6 1014L608.6 1009.1L609.6 1011.3L610.6 1018.2L611.6 1018.3L612.6 1022.9L613.6 1013L614.6 1020L615.6 1017.4L616.6 1017.4L617.6 1022.2L618.6 1017L619.6 1017L620.6 1019.3L621.6 1019.9L621.7 1021.1L622.6 1024.2L623.6 1021.5L624.6 1015.9L625.6 1028.6L626.6 1020.4L627.6 1019.6L628.6 1013.6L629.6 1004.4L630.6 1008.3L631.6 1013.8L632.6 1018.2L633.6 1017L634.6 1020.7L635.6 1023.2L636.6 1024L637.6 1019.8L638.6 1018.4L639.6 1016L640.6 1012L641.6 1022.4L642.6 1012.8L643.6 1014.9L644.6 1017.4L645.6 1005.9L646.6 1016.2L647.6 1014.2L648.6 1016.6L649.6 1014.6L650.6 1008.2L651.6 1014.7L652.6 1016.2L653.6 1021.3L654.6 1020.3L655.6 1009.2L656.6 1019.1L657.6 1021.1L658.6 1021.8L659.6 1020.7L660.6 1014.6L661.6 1018.3L662.6 1015.3L663.6 1030.4L664.6 1019.9L665.6 1011.8L666.6 1012.8L667.6 1022L668.6 1015.8L669.6 1003.8L670.6 1019.3L671.6 1019.2L672.6 1014.9L673.6 1019.7L674.6 1013.1L675.6 1009.2L676.6 1018.4L677.6 1014L678.6 1017.9L679.6 1016.8L680.6 1020.3L681.6 1018L682.6 1006.7L683.6 1016L684.6 1013.4L685.6 1019.8L686.6 1018.2L687.6 1024.2L688.6 1017.4L689.6 1006.3L690.6 1011.4L691.6 1017.5L692.6 1015.5L693.6 1014L694.6 1023.3L695.6 1018.4L696.6 1022.9L697.6 1019.8L698.6 1010.7L699.6 1010L700.6 1012.6L701.6 1017L702.6 1013L703.6 1008.3L704.6 1008.7L705.6 1011.2L706.6 1010.6L707.6 1011.8L708.6 1024.1L709.6 1020.8L710.6 1014L711.6 1015.6L712.6 1024L713.6 1022.2L714.6 1017.7L715.6 1010.3L716.6 1005.9L717.6 1011.4L718.6 1014.5L719.6 1008L720.6 1007.1L721.6 1013.2L722.6 1004.4L723.6 1004.2L724.6 1012.2L725.6 1018.1L726.6 1019.2L727.6 1022.7L728.6 1027.2L729.6 1025.3L730.6 1018.6L731.6 1028.2L732.6 1029.2L733.6 1026.1L734.6 1016.3L735.6 1019L736.6 1007.2L737.6 1011.7L738.6 1002.5L739.6 1009.3L740.6 1019.5L741.6 1017.7L742.6 1024.8L743.6 1019.3L744.6 1017.7L745.6 1015.3L746.6 1018.2L747.6 1016.7L748.6 1022.2L749.6 1025.9L750.6 1021.3L751.6 1012.4L752.6 1017.9L753.6 1023.7L754.6 1022.3L755.6 1020L756.6 1022.6L757.6 1025.2L757.8 1006.2L758.6 1020.2L759.6 1021.7L760.6 1020.4L761.6 1014.9L762.6 1016.9L763.6 1019.5L764.6 1009.9L765.6 1017.4L766.6 1017L767.6 1023.8L768.6 1022.1L769.6 1017.1L770.6 1016.5L771.6 1019.5L772.6 1017.9L773.6 1019.3L774.6 1013.4L775.6 1009L776.6 1010.8L777.6 1007.4L778.6 1009.5L779.6 1015.4L780.6 1007.8L781.6 1007.4L782.6 1016.9L783.6 1013.9L784.6 1015.6L785.6 1010.3L786.6 1009L787.6 1012.4L788.6 1023.2L789.6 1021.4L790.6 1009.9L791.6 1016.5L792.6 1021.3L793.6 1021.9L794.6 1012.6L795.6 1015L796.6 1026.9L797.6 1015.9L798.6 1018.7L799.6 1014L800.6 1009.9L801.6 1012.5L802.6 1020.9L803.6 1024.7L804.6 1015.6L805.6 1014.6L806.6 1012.1L807.6 1005.4L808.6 1016.8L809.6 1025.9L810.6 1028.6L811.6 1019.7L812.6 1025.7L813.6 1026.8L814.6 1020L815.6 1019.2L816.6 1017.4L817.6 1019.7L818.6 1028.6L819.6 1018L820.6 1012.7L821.6 1021.3L822.6 1020.5L823.6 1010.9L824.6 1011.6L825.6 1012.7L826.6 1014.2L827.6 1019.1L828.6 1024.2L829.6 1020L830.6 1019.9L831.6 1015.5L832.6 1022.9L833.6 1026.9L834.6 1020.5L835.6 1015.9L836.6 1028.4L837.6 1026.9L838.6 1017.3L839.6 1009.9L840.6 1014.5L841.6 1023.4L842.6 1017.6L843.6 1017.2L844.6 1016L845.6 1021.2L846.6 1026.9L847.6 1015.5L848.6 1016L849.6 1016.7L850.6 1014.9L851.6 1011.3L852.6 1020.1L853.6 1019.4L854.6 1022.3L855.6 1027.2L856.6 1019.3L857.6 1021.4L858.6 1017.2L859.6 1017.5L860.6 1019.7L861.6 1017.8L862.6 1010.2L863.6 1022.4L864.6 1020.2L865.6 1012.9L866.6 1005.3L867.6 1013.6L868.6 1020L869.6 1023.9L870 1026.1L870.6 1020.4L871.6 1025.1L872.6 1017.4L873.6 1024.3L874.6 1032L875.6 1028.5L876 1029.6L876.6 1033.4L877.6 1038.7L878.6 1049.9L879.6 1043.9L880 1054L880.6 1041.7L881.6 1036.5L882.6 1031.3L883.6 1030L884 1027.5L884.6 1018.3L885.6 994.1L886.6 981.2L887 966.7L887.6 950.7L888.6 934.2L889.6 917.4L890.2 903L890.6 902.3L891.2 909.2L891.6 919L892.6 936.3L893.6 948.7L894 951L894.6 960.8L895.6 968.8L896.6 983.4L897.6 1002.4L898 1007.9L898.6 1014.9L899.6 1015.7L900.6 1024.5L901.6 1026.6L902.6 1042.8L903.6 1047.6L904.6 1016L905.5 994.7L905.6 996.2L906.3 965L906.6 956.7L906.9 960L907.6 990.3L908.5 1028.9L908.6 1024.2L909.6 1071.3L910.6 1107L911.4 1133.5L911.6 1115.8L912.6 1078.8L913.5 1045.3L913.6 1034.7L914.5 992.8L914.6 986.9L915.5 951.1L915.6 945.5L916.6 911.5L916.7 902.5L917.6 924.1L918.5 960.5L918.6 970.2L919.6 991.5L920.6 1016.1L921.6 1029.5L922 1037.5L922.6 1038.5L923.6 1034.9L924.6 1042L925.6 1028.3L926.6 1026.4L927.6 1025.5L928.6 1022.5L929.6 1028.5L930 1016.5L930.6 1027.6L931.6 1029.9L932.6 1027.1L933.6 1031.1L934.6 1036.8L935.6 1027.3L936.6 1026.3L937.6 1024L938.6 1023.5L939.6 1018L940.6 1014.3L941.6 1019.5L942 1015.6L942.6 1021.6L943.6 1023.1L944.6 1017L945.6 1018.9L946.6 1018.3L947.6 1016.4L948.6 1022.1L949.6 1018.7L950.6 1018.6L951.6 1007.5L952.6 1015.9L953.6 1009.2L954.6 1012L955.6 1022.7L956.6 1026.9L957.6 1017.3L958.6 1009.8L959.6 1015.4L960.6 1013.5L961.6 1016.3L962.6 1008.9L963.6 1018.8L964.6 1024.4L965.6 1011.7L966.6 1010.5L967.6 1010.1L968.6 1017.5L969.6 1006.7L970.6 1013.5L971.6 1013.6L972.6 1010.8L973.6 1017.5L974.6 1006.7L975 1005.6L975.6 1007.7L976.6 1014.7L977.6 1011.3L978.6 1007.2L979.6 1011.7L980.6 1007.7L981.6 1005L982.6 1005.1L983.6 1007.8L984.6 1019.8L985 1005.2L985.6 1006.6L986.6 1003.9L987.6 1001.7L988.6 1008.8L989.6 1007L990.6 1005.4L991.6 998.2L992.6 993.3L993.4 996.8L993.6 996.3L994.6 998.3L995.6 1007.4L996.6 1003.9L997 1005.3L997.6 1022.8L998.6 1037.6L999.6 1057.5L1000 1057.6L1000.6 1072.7L1001.6 1084L1002.6 1109.2L1003.6 1125.7L1004.6 1140.3L1004.8 1148.3L1005.6 1131.9L1006.6 1110.5L1007.6 1103.8L1008 1094.7L1008.6 1090.5L1009.6 1073.8L1010.6 1065.2L1011.6 1043.6L1012 1033.6L1012.6 1026.6L1013.6 1029L1014.6 1011.1L1015 1005.3L1015.6 1010.8L1016.6 1026.9L1017.6 1038.4L1018 1036.7L1018.6 1040.2L1019.6 1035.2L1020.6 1034.7L1021.6 1029.9L1022 1019.5L1022.6 1024.3L1023.6 1028.4L1024.4 1035.5L1024.6 1036.3L1025.6 1040.7L1026 1046L1026.6 1043.7L1027.6 1045.8L1028.6 1043L1029.6 1040.9L1030.6 1045.4L1031.6 1046.9L1032 1049.1L1032.6 1046.3L1033.6 1040.8L1034.6 1040.8L1035.6 1040.5L1036.6 1030.3L1037.6 1029.8L1038.6 1042.7L1039.6 1038.8L1040 1023.6L1040.6 1032.1L1041.6 1036L1042.6 1030.3L1043.6 1045.7L1044.6 1044.7L1045.6 1042.7L1046.6 1036.7L1047.6 1038L1048.6 1040.3L1049.6 1039.3L1050.6 1032.8L1051.6 1035L1052.6 1035.3L1053.6 1036.2L1054.6 1029.2L1055.6 1033.1L1056.6 1032.8L1057.6 1034.1L1058.6 1034.1L1059.6 1025.6L1060.6 1033.8L1061.6 1036L1062.6 1026.1L1063.6 1028.7L1064.6 1025.4L1064.8 1026.7L1065.6 1034.1L1066.6 1033.8L1067.6 1040.7L1068.6 1033.9L1069.6 1025.1L1070.6 1028.2L1071.6 1016.4L1072.6 1033.2L1073.6 1030.8L1074.6 1031L1075.6 1029L1076.6 1023.1L1077.6 1024.6L1078.6 1021.5L1079.6 1021.3L1080.6 1025.5L1081.6 1019L1082.6 1030.7L1083.6 1021.6L1084.6 1027.3L1085.6 1021.7L1086.6 1016.9L1087.6 1022.7L1088.6 1023.4L1089.6 1021.5L1090.6 1021.4L1091.6 1018.5L1092.6 1022.5L1093.6 1019.5L1094.6 1020.8L1095.6 1026.5L1096.6 1016.1L1097.6 1016.3L1098.6 1015.9L1099.6 1014.9L1100.6 1011.9L1101.6 1016L1102.6 1019.3L1103.6 1018.9L1104.6 1011L1105 1019.6L1105.6 1021.5L1106.6 1017.5L1107.6 1009.3L1108.6 1005.9L1109.6 1017L1110 1019.5L1110.6 1013.4L1111.6 1003.5L1112.6 1010.1L1113 1007.2L1113.6 1012.9L1114.6 1002.8L1115.6 1007.3L1116.6 1007L1117.6 1012.9L1118.6 1009.9L1119 1016.8L1119.6 1012.6L1120.6 1009.6L1121.6 1016.5L1122.6 1017.5L1123.6 1007.2L1124 1014.1L1124.6 1017.3L1125.6 1018.9L1126.6 1028.7L1127.6 1018.7L1128.6 1018.3L1129.6 1009.9L1130.6 1008L1131.6 1011.8L1132.6 1015.3L1133.6 1016L1134.6 1020.4L1135.6 1022.4L1136.6 1024.6L1137.6 1019.4L1138.6 1021.3L1139.6 1016L1140.6 1019.5L1141.6 1021.2L1142.6 1016.9L1143.6 1001.7L1144.6 1009.1L1145.6 1028.1L1146.6 1021.6L1147.6 1016.6L1148.6 1018.8L1149.6 1024.3L1150.6 1022.5L1151.6 1019.2L1152.6 1012.6L1153.6 1015L1154.6 1011.5L1155.6 1017.9L1156.6 1025.7L1157.6 1026.1L1158.6 1018.1L1159.6 1013.5L1160.6 1010L1161.6 1018.1L1162.6 1021.4L1163.6 1023.5L1164.6 1021.8L1165.6 1013.4L1166.6 1006.9L1167.6 1020L1168.6 1014.9L1169.6 1027L1170.6 1011.6L1171.6 1010.8L1172.6 1011.1L1173.6 1017.4L1174.6 1021.8L1175.6 1017.3L1176.6 1021.3L1177.6 1013.4L1178.6 1014.4L1179.6 1011.1L1180.6 1013L1181.6 1013.4L1182.6 1018.2L1183.6 1035.4L1184.6 1017.5L1185.6 1016.9L1186.6 1021.1L1187.6 1019.7L1188.6 1025.7L1189.6 1015.7L1190.6 1021.2L1191.6 1015L1192.6 1020.9L1193.6 1019.9L1194.6 1019.9L1195.6 1015.7L1196.6 1007.8L1197.6 1008.9L1198.6 1018.6L1199.6 1016.8L1200.6 1021.3L1201.6 1012.5L1202.6 1018.9L1203.6 1022.9L1204.6 1008.4L1205.6 1016L1206.6 1026.6L1207.6 1016.7L1208.6 1021.8L1209.6 1018.7L1210.6 1021.6L1211.6 1016.9L1212.6 1013.4L1213.6 1014.2L1214.6 1014.5L1215.6 1013.2L1216.6 1011.9L1217.6 1021.3L1218.6 1016.1L1219.6 1011.1L1220.6 1010.9L1221.6 1017.9L1222 1006.5L1222.6 1014.2L1223.6 1015L1224.6 1016L1224.8 1007.9L1225.6 1000.5L1226.6 1000.6L1227 1000.2L1227.6 1004.9L1228.6 998.6L1229.6 992.5L1230.6 984.5L1231.6 985.7L1232 987.8L1232.6 996.8L1233.6 997.5L1234.6 1006.4L1235.6 1011.9L1236 1003.5L1236.6 1000.4L1237.6 1005L1238.6 1011.3L1239.6 1013L1240 1021.2L1240.6 1023.1L1241.6 1026L1242.6 1022.3L1243.6 1016.7L1244.6 1018.8L1245.6 1012.5L1246 1015.6L1246.6 1011.8L1247.6 1019.8L1248.6 1003.6L1249.6 1015.2L1250.6 1019.3L1251.6 1015.6L1252.6 1016.5L1253.6 1015.6L1254.6 1020.8L1255.6 1024.2L1256.6 1017L1257.6 1022.5L1258.6 1012.8L1259.6 1014.8L1260.6 1015.6L1261.6 1007.2L1262.6 1012L1263.6 1008.9L1264.6 1015.2L1265.6 1009.1L1266.6 1002.3L1267.6 1002.4L1268.6 1008.9L1269.6 1012.6L1270.6 1014.4L1271.6 1009.2L1272.6 1015.1L1273.6 1010.7L1274.6 1010.9L1275.6 1017L1276.6 1012.8L1277.6 1002.6L1278.6 1011.7L1279.6 1011.5L1280 1009.3L1280.6 1016.7L1281.6 1010L1282.6 1013.7L1283.6 1012.3L1284.6 1024L1285.6 1006.1L1286.6 1009.8L1287.6 1011.7L1288.6 1015.8L1289.6 1009.4L1290.6 1006.5L1291.6 1015.3L1292.6 1009.4L1293.6 1010.9L1294.6 1009.9L1295.6 1011.6L1296.6 1003.5L1297.6 1004.6L1298.6 1007.2L1299.6 1008.9L1300 1014.3L1300.6 1013.5L1301 1013.6L1301.6 1010.4L1302.6 1015.9L1303.6 1008.9L1304.6 1008.8L1305.6 1001.8L1306.6 1001.3L1307.6 1010.6L1308.6 1009.7L1309.6 1000.6L1310.6 1006.1L1311.6 1007L1312.6 1002.9L1313.6 1009.3L1314.6 1008.6L1315.2 1010L1315.6 1015.2L1316.6 1009.4L1317.6 1015.9L1318.6 1011.4L1319.6 1009.8L1320 1017.1L1320.6 1015.3L1321.6 1011L1322.6 1011.3L1323.6 1013.3L1324.6 1006.2L1325.6 1014.5L1326.6 1014L1327.6 1007.6L1328.6 1007.4L1329.6 1016.4L1330.6 1009.3L1331.6 1024.4L1332.6 1013.8L1333.6 1016.8L1334.6 1004.5L1335.6 1012.9L1336.6 1014.1L1337.6 1019.7L1338.6 1020.6L1339.6 1018.3L1340 1030.2L1340.6 1027L1341.6 1019.3L1342.6 1022.4L1343.6 1008.2L1344.6 1014.8L1345.6 1027L1346.6 1022.4L1347.6 1025.4L1348.6 1020.4L1349.6 1028.7L1350.6 1028.9L1351.6 1029.1L1352 1034.1L1352.6 1039.6L1353.6 1038.8L1354.6 1027L1355.6 1034.4L1356.6 1037.6L1357.6 1032.5L1358.6 1029.5L1359.6 1033.1L1360.6 1034.1L1361.6 1035.2L1362.6 1031.2L1363.6 1034.1L1364 1035.8L1364.6 1030.6L1365.6 1028.4L1366.6 1019.5L1367.6 1007.7L1368.6 1008.1L1369 1012.3L1369.6 1023.2L1370.6 1002L1371.6 1002L1372.6 999.5L1373.6 1003.8L1374.6 998.8L1375.6 1001.8L1376 1006.8L1376.6 1000.8L1377.6 1002.5L1378.6 1012.2L1379.6 1012.3L1380.6 1000.2L1381.6 1014.5L1382.6 1006.2L1383.6 1008.1L1384.6 1005.7L1385 1004.8L1385.6 1003.6L1386.6 1009.8L1387.6 1005.2L1388.6 1002.1L1389.6 1004.5L1390.6 1008.7L1391.6 1000.7L1392.6 1012.3L1393.6 1009.4L1394.6 1016L1395.6 1021.9L1396.6 1019.3L1397.6 1019.6L1398.6 1015.4L1399.6 1013.4L1400 1006.7L1400.6 1012.5L1401.6 1012.8L1402.6 1004L1403.6 1014.4L1404.6 1024.2L1405.6 1022.2L1406.6 1025.3L1407.6 1019.1L1408.6 1013.4L1409.6 1016.7L1410.6 1015.9L1411.6 1011.5L1412.6 1021L1413.6 1020.2L1414.6 1015.7L1415.6 1018.4L1416.6 1017.5L1417.6 1021L1418.6 1027.1L1419.6 1018.3L1420.6 1012.5L1421.6 1023.3L1422.6 1032.1L1423.6 1020.2L1424.6 1014.7L1425.6 1011.4L1426.6 1016.4L1427.6 1018.5L1428.6 1017.6L1429.6 1022.8L1430.6 1016.1L1431.6 1014.7L1432.6 1011.1L1433.6 1022.6L1434.6 1025.3L1435.6 1027.3L1436.6 1017.1L1437.6 1024.5L1438.6 1021.6L1439.6 1022.9L1440.6 1022.6L1441.6 1018L1442.6 1017.1L1443.6 1010L1444.6 1012.6L1445.6 1015L1446.6 1011.4L1447.6 1016.2L1448.6 1023.4L1449.6 1017.2L1450.6 1012.7L1451.6 1011.9L1452.6 1016.2L1453.6 1025.5L1454.6 1020.8L1455.6 1018.5L1456.6 1011.4L1457.6 1016.6L1458.6 1020.5L1459.6 1016.5L1460.6 1016.9L1461.6 1013.8L1462.6 1020.1L1463.6 1025L1464.6 1021.6L1465.6 1021.3L1466.6 1018.8L1467.6 1014.6L1468.6 1012.3L1469.6 1013.3L1470.6 1016.5L1471.6 1017.1L1472.6 1022.2L1473.6 1022.9L1474.6 1027L1475.6 1024.8L1476.6 1019.4L1477.6 1019.1L1478.6 1010.4L1479.6 1023.4L1480.6 1017.3L1481.6 1015.5L1482.3 1026.2L1482.6 1015.1L1483.6 1013.6L1484.6 1015.9L1485.6 1013.8L1486.6 1016.8L1487.6 1018.4L1488.6 1021.4L1489.6 1018.6L1490.6 1021.2L1491.6 1017.3L1492.6 1020.9L1493.6 1025.3L1494.6 1012.6L1495.6 1015.2L1496.6 1018.3L1497.6 1009L1498.6 999.7L1499.6 1013.4L1500.6 1013.6L1501.6 1020.2L1502.6 1019L1503.6 1018.8L1504.6 1016.9L1505.6 1018.6L1506.6 1014.4L1507.6 1015.1L1508.6 1021.7L1509.6 1018.8L1510.6 1021.3L1511.6 1019.9L1512.6 1017.7L1513.6 1013.5L1514.6 1021.1L1515.6 1015.3L1516.6 1019.5L1517.6 1011.5L1518.6 1017.8L1519.6 1020.2L1520.6 1016.2L1521.6 1009.7L1522.6 1014.9L1523.6 1018L1524.6 1015.9L1525.6 1014.4L1526.6 1021.7L1527.6 1019.6L1528.6 1016.9L1529.6 1022.5L1530.6 1020.5L1531.6 1016.4L1532.6 1022.3L1533.6 1018.3L1534.6 1023L1535.6 1016.9L1536.6 1019.7L1537.6 1024.9L1538.6 1023.1L1539.6 1022.6L1540.6 1022.2L1541.6 1024.2L1542.6 1020.8L1543.6 1021.1L1544.6 1017.9L1545.6 1027.4L1546.6 1016.7L1547.6 1020.9L1548.6 1013.7L1549.6 1018.9L1550.6 1024.7L1551.6 1014.7L1552.6 1025.2L1553.6 1015.7L1554.6 1012.9L1555.6 1018L1556.6 1012.4L1557.6 1020.7L1558.6 1021.2L1559.6 1005.4L1560.6 1006.3L1561.6 1010.4L1562.6 1017.5L1563.6 1012.6L1564.6 1012.3L1565.6 1019.3L1566.6 1013.7L1567.6 1018.2L1568.6 1012L1569.6 1021.4L1570.6 1026.8L1571.6 1015.8L1572.6 1006.6L1573.6 1006.5L1574.6 1019.9L1575.6 1016.8L1576.6 1023.7L1577.6 1014.3L1578.6 1013L1579.6 1016.6L1580 1024L1580.6 1020.7L1581.6 1016L1582.6 1021.6L1583.6 1022.8L1584.6 1026L1585.6 1024L1586.6 1021.9L1587.6 1024.2L1588.6 1012.9L1589.6 1022.9L1590.6 1031.5L1591.6 1032.1L1592.6 1025.5L1593.6 1020.4L1594.6 1032.6L1595.6 1028.5L1596 1028.7L1596.6 1030.6L1596.7 1027.4L1597.6 1028.5L1598.6 1035.2L1599.6 1026.7L1600.6 1035L1601.6 1030.2L1602.6 1027.4L1603.6 1028.9L1604.6 1028.5L1605.6 1028.5L1606 1025.9L1606.6 1018.7L1607.6 1026.6L1608.6 1019.4L1609.6 1012.9L1610.6 1018.2L1611.6 1018.3L1612.6 1014.2L1613.6 1012.7L1614.6 1014.1L1615 1021.3L1615.6 1014L1616.6 1005.5L1617.6 1006L1618.6 1011.4L1619.6 1009.7L1620.6 1006.3L1621.6 1012.4L1622.6 1014L1623.6 1010.1L1624.6 1011L1625 1006.7L1625.6 1005.7L1626.6 1006.6L1627.6 1001.9L1628.6 1009L1629.6 1009.9L1630.6 1008.4L1631.6 1010.9L1632.6 1012L1633.6 1008.4L1634.6 1008.6L1635.6 1007.9L1636.6 1018.6L1637.6 1007.7L1638.6 1011.9L1639.6 1017.8L1640 1010.8L1640.6 1008.5L1641.6 1007.3L1642.6 1002.7L1643.6 1015.5L1644.6 1012.9L1645.6 1007.3L1646.6 1007.4L1647.6 1011.4L1648.6 1010.2L1649.6 1006.7L1650.6 1012.2L1651.6 1006.9L1652.6 1007.3L1653.6 1010.2L1654.6 1006.2L1655 1008.7L1655.6 1005.5L1656.6 1020L1657.6 1009.6L1658.6 1010.7L1659.6 1003.1L1660.6 998.8L1661.6 1001.7L1662.6 1001.4L1663.6 1000.7L1664.6 1001.6L1665.6 1005.9L1666.6 1012.4L1667.6 1014.6L1668 1005.1L1668.5 1010.7L1668.6 1012.1L1669.6 1000.3L1670.6 996.6L1671.6 996.9L1672.6 1007.1L1673.6 1000L1674 996.8L1674.6 1004.4L1675.6 999.7L1676.6 998.4L1677.6 1001.9L1678.6 1001.5L1679.6 988.9L1680.6 990.3L1681.6 1000.8L1682.6 994.3L1683.6 1005.4L1684.6 1003.2L1685.6 1004.1L1686.6 1005.3L1687.6 995.5L1688.6 997.8L1689.6 996.8L1690 1002.9L1690.6 1011.5L1691.6 1006.1L1692.6 1006L1693.6 996.3L1694.6 1000.9L1695.6 1003.6L1696.6 1005L1697.6 1009.7L1698.6 1015.4L1699.6 1010.9L1700.6 1011.4L1701.6 1002.2L1702.6 1009.8L1703.6 1010.1L1704.6 1002L1705.6 1009.1L1706.6 1007L1707.6 1015L1708.6 1014.9L1709.6 1013.5L1710 1021.2L1710.6 1014.7L1711.6 1011.8L1712.6 1012.8L1713.6 1013.4L1714.6 1009L1715.6 1014.8L1716.6 1016L1717.6 1011.9L1718.6 1005.7L1719.6 1017L1720.6 1021.9L1721.6 1021.6L1722.6 1021.9L1723.6 1026.6L1724.6 1020.7L1725.6 1025.4L1726.6 1018.3L1727.6 1012.4L1728.6 1015.1L1729.6 1014.3L1730 1018L1730.6 1025.8L1731.6 1021.6L1732.6 1023.7L1733.6 1029.7L1734.6 1030.2L1735.6 1022L1736.6 1015.4L1737.6 1026.9L1738.6 1014.9L1739.6 1007.2L1740.6 1003.7L1741.6 1018.3L1742.6 1009.8L1743.6 1013.2L1744.6 1015L1745.6 1022.6L1746.6 1012.4L1747.6 1015.8L1748.6 1018.2L1749.6 1024.6L1750.6 1018.9L1751.6 1019.1L1752.6 1016.4L1753.6 1022.4L1754.6 1024L1755.6 1017.9L1756.6 1020.4L1757.6 1011L1758.6 1015.7L1759.6 1012.3L1760.6 1013.6L1761.6 1021.2L1762.6 1029.3L1763.6 1022.3L1764.6 1018.1L1765.6 1015.6L1766.6 1020.6L1767.6 1017.6L1768.6 1022.5L1769.6 1027.1L1770.6 1024.1L1771.6 1017.9L1772.6 1020.8L1773.6 1014.6L1774.6 1007.2L1775.6 1019.1L1776.6 1027L1777.6 1026.8L1778.6 1018.8L1779.6 1000.6L1780.6 1007.5L1781.6 1016.7L1782.6 1014.8L1783.6 1023.4L1784.6 1015.1L1785.6 1018.9L1786.6 1018.8L1787.6 1019.2L1788.6 1010.8L1789.6 1014.5L1790.6 1017.6L1791.6 1015.1L1792.6 1009.9L1793.6 1012L1794.6 1009.8L1795.6 1015.5L1796.6 1020.5L1797.6 1019.1L1798.6 1018.8L1799.6 1016.2L1800.6 1017.1L1801.6 1006.4L1802.6 1012.9L1803.6 1019.6L1804.6 1014.5L1805.6 1018.5L1806.6 1008.5L1807.6 1012.9L1808.6 1013.5L1809.6 1016.9L1810.6 1016.6L1811.6 1026.6L1812.6 1003.2L1813.6 1003.6L1814.6 1007.7L1815.6 1012.9L1816.6 1011.1L1817.6 1010.3L1818.6 1005.2L1819.6 1004.6L1820.6 1007L1821.6 1019.5L1822.6 1012.4L1823.6 1027.7L1824.6 1024.9L1825.6 1017.3L1826.6 1020L1827.6 1021.9L1828.6 1011.5L1829.6 1005.6L1830.6 1019L1831.6 1011.7L1832.6 1018.5L1833.6 1020.1L1834.6 1009.2L1835.6 1016.9L1836.6 1019.1L1837.6 1023.5L1838.6 1018.6L1839.6 1019L1840.6 1019L1841.6 1015.9L1842.6 1024.5L1843.6 1024.2L1844.6 1027L1845.6 1022.4L1846.6 1024.9L1847.6 1015.1L1848.6 1013.2L1849.6 1020.8L1850.6 1017.3L1851.6 1015.2L1852.6 1017L1853.6 1009.3L1854.6 1015.1L1855.6 1019L1856.6 1016.2L1857.6 1011L1858.6 1023.7L1859.6 1021.3L1860.6 1013.1L1861.6 1012.5L1862.6 1007.4L1863.6 1004.6L1864.6 1002.5L1865.6 1006.8L1866.6 1015.2L1867.6 1019.3L1868.6 1016.5L1869.6 1021L1870.6 1020.4L1871.6 1011.5L1872.6 1009.7L1873.6 1014.7L1874.6 1018.3L1875.6 1021.7L1876.6 1010.6L1877.6 1004L1878.6 1021.5L1879.6 1016.2L1880.6 1020.3L1881.6 1017.2L1882.6 1008.8L1883.6 1019.9L1884.6 1018.9L1885.6 1023.6L1886.6 1020.9L1887.6 1011.8L1888.6 1013.5L1889.6 1019.3L1890.6 1012.8L1891.6 1015.4L1892.6 1021.3L1893.6 1011.2L1894.6 1012L1895.6 1014.9" stroke="#ff0000" stroke-width="2" fill="none" stroke-linejoin="round"/>
<path d="M599.6 700.5L602.9 699.2L606.6 700.9L607.1 704.4L609.5 703.6L614.1 703.8L614.9 705.9L613.7 708.1L609.5 708.8L606.9 710.4L608.7 712.9L609.2 715.4L606.3 718.3L601.7 718.3L599.6 715.8L598 713.8L595.5 713.8L592.6 716.6L589.2 718.3L585.5 717.9L583.5 715.4L584.3 712.9L587.6 710.9L590.8 709L589.2 705.9L588.9 702.6L590.9 701.7L594.6 702.2L598 702.1Z" fill="#00ff3c" stroke="#00ff3c" stroke-width="1.5" stroke-linejoin="round"/>
<path d="M624.7 747.1L628 745.8L631.7 747.5L632.2 751L634.6 750.2L639.2 750.4L640 752.5L638.8 754.7L634.6 755.4L632 757L633.8 759.5L634.3 762L631.4 764.9L626.8 764.9L624.7 762.4L623.1 760.4L620.6 760.4L617.7 763.2L614.3 764.9L610.6 764.5L608.6 762L609.4 759.5L612.7 757.5L615.9 755.6L614.3 752.5L614 749.2L616 748.3L619.7 748.8L623.1 748.7Z" fill="#ff00ff" stroke="#ff00ff" stroke-width="1.5" stroke-linejoin="round"/>
<path d="M761.4 757.8L764.7 756.5L768.4 758.2L768.9 761.6L771.3 760.9L775.9 761.1L776.7 763.2L775.5 765.4L771.3 766.1L768.7 767.7L770.5 770.2L771 772.7L768.1 775.6L763.5 775.6L761.4 773.1L759.8 771.1L757.3 771.1L754.4 773.9L751 775.6L747.3 775.2L745.3 772.7L746.1 770.2L749.4 768.2L752.6 766.3L751 763.2L750.7 759.9L752.7 759L756.4 759.5L759.8 759.4Z" fill="#0000ff" stroke="#0000ff" stroke-width="1.5" stroke-linejoin="round"/>
<path d="M891.4 89.2L894.7 87.9L898.4 89.6L898.9 93L901.3 92.3L905.9 92.5L906.7 94.6L905.5 96.8L901.3 97.5L898.7 99.1L900.5 101.6L901 104.1L898.1 107L893.5 107L891.4 104.5L889.8 102.5L887.3 102.5L884.4 105.3L881 107L877.3 106.6L875.3 104.1L876.1 101.6L879.4 99.6L882.6 97.7L881 94.6L880.7 91.3L882.7 90.4L886.4 90.9L889.8 90.8Z" fill="#0000ff" stroke="#0000ff" stroke-width="1.5" stroke-linejoin="round"/>
<path d="M916.8 576L920.1 574.7L923.8 576.4L924.3 579.9L926.7 579.1L931.3 579.3L932.1 581.4L930.9 583.6L926.7 584.3L924.1 585.9L925.9 588.4L926.4 590.9L923.5 593.8L918.9 593.8L916.8 591.3L915.2 589.3L912.7 589.3L909.8 592.1L906.4 593.8L902.7 593.4L900.7 590.9L901.5 588.4L904.8 586.4L908 584.5L906.4 581.4L906.1 578.1L908.1 577.2L911.8 577.7L915.2 577.6Z" fill="#00ff3c" stroke="#00ff3c" stroke-width="1.5" stroke-linejoin="round"/>
<path d="M925.6 706.5L928.9 705.2L932.6 706.9L933.1 710.4L935.5 709.6L940.1 709.8L940.9 711.9L939.7 714.1L935.5 714.8L932.9 716.4L934.7 718.9L935.2 721.4L932.3 724.3L927.7 724.3L925.6 721.8L924 719.8L921.5 719.8L918.6 722.6L915.2 724.3L911.5 723.9L909.5 721.4L910.3 718.9L913.6 716.9L916.8 715L915.2 711.9L914.9 708.6L916.9 707.7L920.6 708.2L924 708.1Z" fill="#ff00ff" stroke="#ff00ff" stroke-width="1.5" stroke-linejoin="round"/>
<path d="M1009.7 525.4L1013 524.1L1016.7 525.8L1017.2 529.2L1019.6 528.5L1024.2 528.7L1025 530.8L1023.8 533L1019.6 533.7L1017 535.3L1018.8 537.8L1019.3 540.3L1016.4 543.2L1011.8 543.2L1009.7 540.7L1008.1 538.7L1005.6 538.7L1002.7 541.5L999.3 543.2L995.6 542.8L993.6 540.3L994.4 537.8L997.7 535.8L1000.9 533.9L999.3 530.8L999 527.5L1001 526.6L1004.7 527.1L1008.1 527Z" fill="#0000ff" stroke="#0000ff" stroke-width="1.5" stroke-linejoin="round"/>
<path d="M1030 758.7L1033.3 757.4L1037 759.1L1037.5 762.6L1039.9 761.8L1044.5 762L1045.3 764.1L1044.1 766.3L1039.9 767L1037.3 768.6L1039.1 771.1L1039.6 773.6L1036.7 776.5L1032.1 776.5L1030 774L1028.4 772L1025.9 772L1023 774.8L1019.6 776.5L1015.9 776.1L1013.9 773.6L1014.7 771.1L1018 769.1L1021.2 767.2L1019.6 764.1L1019.3 760.8L1021.3 759.9L1025 760.4L1028.4 760.3Z" fill="#00ff3c" stroke="#00ff3c" stroke-width="1.5" stroke-linejoin="round"/>
<path d="M1230.7 773.7L1234 772.4L1237.7 774.1L1238.2 777.6L1240.6 776.8L1245.2 777L1246 779.1L1244.8 781.3L1240.6 782L1238 783.6L1239.8 786.1L1240.3 788.6L1237.4 791.5L1232.8 791.5L1230.7 789L1229.1 787L1226.6 787L1223.7 789.8L1220.3 791.5L1216.6 791.1L1214.6 788.6L1215.4 786.1L1218.7 784.1L1221.9 782.2L1220.3 779.1L1220 775.8L1222 774.9L1225.7 775.4L1229.1 775.3Z" fill="#00ff3c" stroke="#00ff3c" stroke-width="1.5" stroke-linejoin="round"/>
<path d="M1373.4 695.7L1376.7 694.4L1380.4 696.1L1380.9 699.6L1383.3 698.8L1387.9 699L1388.7 701.1L1387.5 703.3L1383.3 704L1380.7 705.6L1382.5 708.1L1383 710.6L1380.1 713.5L1375.5 713.5L1373.4 711L1371.8 709L1369.3 709L1366.4 711.8L1363 713.5L1359.3 713.1L1357.3 710.6L1358.1 708.1L1361.4 706.1L1364.6 704.2L1363 701.1L1362.7 697.8L1364.7 696.9L1368.4 697.4L1371.8 697.3Z" fill="#0000ff" stroke="#0000ff" stroke-width="1.5" stroke-linejoin="round"/>
<path d="M1486.6 774.7L1489.9 773.4L1493.6 775.1L1494.1 778.6L1496.5 777.8L1501.1 778L1501.9 780.1L1500.7 782.3L1496.5 783L1493.9 784.6L1495.7 787.1L1496.2 789.6L1493.3 792.5L1488.7 792.5L1486.6 790L1485 788L1482.5 788L1479.6 790.8L1476.2 792.5L1472.5 792.1L1470.5 789.6L1471.3 787.1L1474.6 785.1L1477.8 783.2L1476.2 780.1L1475.9 776.8L1477.9 775.9L1481.6 776.4L1485 776.3Z" fill="#00ff3c" stroke="#00ff3c" stroke-width="1.5" stroke-linejoin="round"/>
<path d="M1598.7 748.5L1602 747.2L1605.7 748.9L1606.2 752.4L1608.6 751.6L1613.2 751.8L1614 753.9L1612.8 756.1L1608.6 756.8L1606 758.4L1607.8 760.9L1608.3 763.4L1605.4 766.3L1600.8 766.3L1598.7 763.8L1597.1 761.8L1594.6 761.8L1591.7 764.6L1588.3 766.3L1584.6 765.9L1582.6 763.4L1583.4 760.9L1586.7 758.9L1589.9 757L1588.3 753.9L1588 750.6L1590 749.7L1593.7 750.2L1597.1 750.1Z" fill="#0000ff" stroke="#0000ff" stroke-width="1.5" stroke-linejoin="round"/>
<path d="M1670.4 764.2L1673.7 762.9L1677.4 764.6L1677.9 768.1L1680.3 767.3L1684.9 767.5L1685.7 769.6L1684.5 771.8L1680.3 772.5L1677.7 774.1L1679.5 776.6L1680 779.1L1677.1 782L1672.5 782L1670.4 779.5L1668.8 777.5L1666.3 777.5L1663.4 780.3L1660 782L1656.3 781.6L1654.3 779.1L1655.1 776.6L1658.4 774.6L1661.6 772.7L1660 769.6L1659.7 766.3L1661.7 765.4L1665.4 765.9L1668.8 765.8Z" fill="#0000ff" stroke="#0000ff" stroke-width="1.5" stroke-linejoin="round"/>
</g>
<path d="M311.3 1155.2v8.5M332.8 1155.2v8.5M354.4 1155.2v8.5M375.9 1155.2v8.5M397.5 1155.2v17M419.1 1155.2v8.5M440.6 1155.2v8.5M462.2 1155.2v8.5M483.7 1155.2v8.5M505.3 1155.2v8.5M526.9 1155.2v8.5M548.4 1155.2v8.5M570 1155.2v8.5M591.5 1155.2v8.5M613.1 1155.2v17M634.7 1155.2v8.5M656.2 1155.2v8.5M677.8 1155.2v8.5M699.3 1155.2v8.5M720.9 1155.2v8.5M742.5 1155.2v8.5M764 1155.2v8.5M785.6 1155.2v8.5M807.1 1155.2v8.5M828.7 1155.2v17M850.3 1155.2v8.5M871.8 1155.2v8.5M893.4 1155.2v8.5M914.9 1155.2v8.5M936.5 1155.2v8.5M958.1 1155.2v8.5M979.6 1155.2v8.5M1001.2 1155.2v8.5M1022.7 1155.2v8.5M1044.3 1155.2v17M1065.9 1155.2v8.5M1087.4 1155.2v8.5M1109 1155.2v8.5M1130.5 1155.2v8.5M1152.1 1155.2v8.5M1173.7 1155.2v8.5M1195.2 1155.2v8.5M1216.8 1155.2v8.5M1238.3 1155.2v8.5M1259.9 1155.2v17M1281.5 1155.2v8.5M1303 1155.2v8.5M1324.6 1155.2v8.5M1346.1 1155.2v8.5M1367.7 1155.2v8.5M1389.3 1155.2v8.5M1410.8 1155.2v8.5M1432.4 1155.2v8.5M1453.9 1155.2v8.5M1475.5 1155.2v17M1497.1 1155.2v8.5M1518.6 1155.2v8.5M1540.2 1155.2v8.5M1561.7 1155.2v8.5M1583.3 1155.2v8.5M1604.9 1155.2v8.5M1626.4 1155.2v8.5M1648 1155.2v8.5M1669.5 1155.2v8.5M1691.1 1155.2v17M1712.7 1155.2v8.5M1734.2 1155.2v8.5M1755.8 1155.2v8.5M1777.3 1155.2v8.5M1798.9 1155.2v8.5M1820.5 1155.2v8.5M1842 1155.2v8.5M1863.6 1155.2v8.5M1885.1 1155.2v8.5" stroke="#222" stroke-width="2.8" fill="none"/>
<rect x="268.6" y="228.2" width="19" height="2.2" fill="#222"/>
<text transform="translate(261.6 245.6) scale(1 1.090)" font-size="37.2" text-anchor="end">10,000</text>
<rect x="268.6" y="549.6" width="19" height="2.2" fill="#222"/>
<text transform="translate(261.6 567) scale(1 1.090)" font-size="37.2" text-anchor="end">5000</text>
<rect x="268.6" y="871.7" width="19" height="2.2" fill="#222"/>
<text transform="translate(261.6 889.1) scale(1 1.090)" font-size="37.2" text-anchor="end">0</text>
<rect x="285.6" y="81.8" width="4" height="1075.5" fill="#0a0a0a"/>
<rect x="285.6" y="1153.1" width="1620.7" height="4.2" fill="#0a0a0a"/>
<rect x="1902.3" y="81.8" width="4" height="1075.5" fill="#0a0a0a"/>
<rect x="285.6" y="81.8" width="1620.7" height="4" fill="#0a0a0a"/>
<text transform="translate(400.2 1218.6) scale(1 1.130)" font-size="48.8" text-anchor="middle">10</text>
<text transform="translate(612 1218.6) scale(1 1.130)" font-size="48.8" text-anchor="middle">20</text>
<text transform="translate(824.5 1218.6) scale(1 1.130)" font-size="48.8" text-anchor="middle">30</text>
<text transform="translate(1034.5 1218.6) scale(1 1.130)" font-size="48.8" text-anchor="middle">40</text>
<text transform="translate(1264.8 1218.6) scale(1 1.130)" font-size="48.8" text-anchor="middle">50</text>
<text transform="translate(1475.6 1218.6) scale(1 1.130)" font-size="48.8" text-anchor="middle">60</text>
<text transform="translate(1690.3 1218.6) scale(1 1.130)" font-size="48.8" text-anchor="middle">70</text>
<text x="1102.4" y="1289" font-size="63.3" text-anchor="middle">Position [2<tspan font-family="Liberation Serif,serif">&#952;</tspan>] (Cu)</text>
<text transform="translate(125.3 562.8) rotate(-90)" font-size="51.3" text-anchor="middle">[cts]</text>
<text x="217.5" y="129.5" font-size="64.5" text-anchor="start">a)</text>
<text transform="translate(1884.3 158.2) scale(1 1.040)" font-size="69.5" text-anchor="end">Ag/SiO<tspan font-size="43" dy="24" dx="-1.2">2</tspan></text>
<rect x="298.1" y="122.5" width="47" height="47" fill="#0000ff"/>
<text transform="translate(360 162.5) scale(1 1.045)" font-size="53" text-anchor="start">Ag<tspan font-size="34" dy="17" dx="-1.2">2</tspan><tspan dy="-17" dx="-1">O</tspan></text>
<rect x="298.9" y="188.7" width="46.7" height="45.7" fill="#00ff3c"/>
<text transform="translate(360 231.8) scale(1 1.045)" font-size="53" text-anchor="start">Ag<tspan font-size="34" dy="17" dx="-1.2">2</tspan><tspan dy="-17" dx="-1">CO</tspan><tspan font-size="34" dy="17" dx="-1.2">3</tspan></text>
<rect x="298.9" y="252.8" width="46.7" height="47.4" fill="#ff00ff"/>
<text transform="translate(360 296.5) scale(1 1.045)" font-size="53" text-anchor="start">Ag<tspan font-size="34" dy="17" dx="-1.2">6</tspan><tspan dy="-17" dx="-1">Si</tspan><tspan font-size="34" dy="17" dx="-1.2">2</tspan><tspan dy="-17" dx="-1">O</tspan><tspan font-size="34" dy="17" dx="-1.2">7</tspan></text>
<clipPath id="cb"><rect x="284" y="1325" width="1616.5" height="1076.2"/></clipPath>
<g clip-path="url(#cb)">
<path d="M284 2059.9L285 2061.9L286 2061.4L287 2062.1L288 2061.8L289 2062.7L290 2062.1L291 2062.9L292 2064.8L293 2064.8L294 2064.9L295 2065.5L296 2066.7L297 2068.2L298 2066.5L299 2067.6L300 2068.2L301 2068.8L302 2069.4L303 2070.5L304 2071.8L305 2070L306 2070.2L307 2071.7L308 2071.2L309 2073L310 2072.9L311 2073.8L312 2073.5L313 2074L314 2077.7L315 2076.6L316 2078.1L317 2077.7L318 2078.4L319 2077.8L320 2079.1L321 2079L322 2077.2L323 2077.2L324 2079.5L325 2081.3L326 2080.8L327 2080.8L328 2081.3L329 2083.7L330 2081.6L331 2083.3L332 2084.5L333 2083L334 2083L335 2083.7L336 2083.9L337 2085.7L338 2085.9L339 2085.6L340 2086.5L341 2087.8L342 2087.2L343 2086.7L344 2088.3L345 2090L346 2090.7L347 2090.5L348 2089.8L349 2090.7L350 2091L351 2091.4L352 2091.3L353 2092.4L354 2092.5L355 2090.6L356 2091.7L357 2090.6L358 2091.2L359 2091.2L360 2091.7L361 2091L362 2091L363 2090.8L364 2090.7L365 2089.9L366 2091.3L367 2090.7L368 2091.4L369 2091.3L370 2091.6L371 2091.9L372 2090.4L373 2091L374 2091.5L375 2091L376 2090.8L377 2091.6L378 2092.7L379 2092.3L380 2092.4L381 2092.1L382 2093.4L383 2092.3L384 2092.6L385 2094.8L386 2092.9L387 2091.9L388 2090.2L389 2089.6L390 2092.7L391 2091.9L392 2090.8L393 2090.7L394 2090.1L395 2090.8L396 2090.4L397 2091.2L398 2092.3L399 2091.8L400 2091.2L401 2090.9L402 2091.9L403 2089.9L404 2089.6L405 2089.8L406 2089.3L407 2090.6L408 2090.2L409 2089.6L410 2090.7L411 2090.5L412 2090.8L413 2090.4L414 2089.7L415 2089L416 2090.1L417 2089.3L418 2090.9L419 2090.7L420 2090.3L421 2089.4L422 2091.2L423 2090.3L424 2090.5L425 2089.5L426 2090.7L427 2090.6L428 2091L429 2090.9L430 2090L431 2089.2L432 2089.5L433 2089L434 2089.2L435 2091.1L436 2091.2L437 2090.7L438 2090.8L439 2090.9L440 2090.5L441 2090.2L442 2090.2L443 2090.5L444 2091.9L445 2089.5L446 2089.7L447 2089.4L448 2091.9L449 2090.2L450 2091.2L451 2091L452 2090.9L453 2091.4L454 2091L455 2090.2L456 2091.9L457 2089.8L458 2088.4L459 2088.8L460 2090.4L461 2089.8L462 2090.3L463 2091.1L464 2091.3L465 2091L466 2091.5L467 2090.6L468 2091.3L469 2090.6L470 2091.5L471 2091.4L472 2090.5L473 2091.2L474 2091.2L475 2091.1L476 2090.6L477 2089L478 2089.2L479 2090.4L480 2091.1L481 2088.8L482 2088.5L483 2087.5L484 2087.7L485 2089.5L486 2089L487 2089.9L488 2090.7L489 2088.2L490 2088.9L491 2089.3L492 2089.5L493 2090L494 2090.3L495 2089.9L496 2088.3L497 2089.6L498 2090.9L499 2088.4L500 2088.3L501 2088.6L502 2088L503 2088.3L504 2088.4L505 2089.2L506 2088.3L507 2088.1L508 2089.7L509 2089.7L510 2088.2L511 2087L512 2087.6L513 2088.1L514 2087.5L515 2086.2L516 2085.9L517 2086.2L518 2086.8L519 2087.2L520 2087.9L521 2086.5L522 2085.8L523 2084.8L524 2085.1L525 2085.7L526 2086L527 2085.9L528 2086.5L529 2086.1L530 2085L531 2085.9L532 2086.5L533 2085.6L534 2088.8L535 2084.7L536 2084.1L537 2084.7L538 2084.9L539 2084.6L540 2085.6L541 2086.6L542 2086.4L543 2086L544 2087L545 2084.5L546 2084.9L547 2085.1L548 2084.9L549 2084.8L550 2084.7L551 2084.2L552 2083.4L553 2083.3L554 2083.9L555 2084.6L556 2084.9L557 2085.1L558 2082.4L559 2082.6L560 2082.6L561 2083.5L562 2083.8L563 2083.5L564 2084.5L565 2083.5L566 2083.6L567 2083.9L568 2083.8L569 2083L570 2084.2L571 2084L572 2083.8L573 2083.2L574 2082.9L575 2081.9L576 2080.5L577 2080.6L578 2080.1L579 2081.2L580 2080.2L581 2080.6L582 2080.5L583 2081.1L584 2081.1L585 2082.4L586 2082.3L587 2082.8L588 2081.5L589 2079.4L590 2081L591 2082.4L592 2080.7L593 2081.6L594 2080.5L595 2080.3L596 2080L597 2079.4L598 2079.1L599 2077.9L600 2079.1L601 2079.4L602 2080L603 2079.4L604 2079.6L605 2081.3L606 2080.6L607 2079.4L608 2079.2L609 2079L610 2080L611 2078.7L612 2079.7L613 2079.4L614 2076.5L615 2078.1L616 2077.7L617 2077.2L618 2077.8L619 2078.3L620 2080.3L621 2078.8L622 2077.4L623 2077.5L624 2077.9L625 2076.8L626 2077L627 2075.7L628 2075.6L629 2076.2L630 2077.2L631 2076L632 2075.7L633 2076.3L634 2075.4L635 2075.5L636 2075.1L637 2077.3L638 2076.2L639 2077.4L640 2076.6L641 2077.6L642 2075.4L643 2075.7L644 2073.3L645 2075.7L646 2076L647 2075.1L648 2076.9L649 2078.2L650 2077.3L651 2077.1L652 2075.5L653 2074.2L654 2073.2L655 2075.1L656 2073.1L657 2074L658 2076L659 2075.6L660 2074L661 2073.8L662 2075.7L663 2074.3L664 2074.5L665 2073.6L666 2074.5L667 2074.5L668 2076L669 2074.9L670 2075.3L671 2073.9L672 2076.7L673 2077.8L674 2077L675 2077.3L676 2077.7L677 2078.6L678 2076.5L679 2076.6L680 2079.5L681 2079.6L682 2079.4L683 2079L684 2079.8L685 2080.1L686 2080.3L687 2078.8L688 2079.4L689 2080.1L690 2080.5L691 2079.4L692 2080.1L693 2079.7L694 2080.1L695 2081L696 2081.8L697 2082.1L698 2082.7L699 2082L700 2080.7L701 2081.4L702 2081.3L703 2080.1L704 2080.6L705 2081.8L706 2082.9L707 2082.2L708 2080.8L709 2081.7L710 2081.4L711 2083.1L712 2081.4L713 2082.7L714 2082.4L715 2082.8L716 2082L717 2082.9L718 2082.8L719 2082.7L720 2082L721 2082.4L722 2081.4L723 2083.2L724 2083.2L725 2085L726 2083.1L727 2085.2L728 2085L729 2084.2L730 2084.8L731 2083.5L732 2082.9L733 2085.2L734 2083.2L735 2084.3L736 2086L737 2085.3L738 2086.2L739 2085.1L740 2084.3L741 2085.7L742 2085.8L743 2085L744 2085.9L745 2084L746 2085.3L747 2084.5L748 2084.7L749 2084.6L750 2084.4L751 2084.6L752 2085.5L753 2085.6L754 2084.3L755 2083.6L756 2082.3L757 2083.9L758 2083.3L759 2081.7L760 2081.6L761 2082.4L762 2080.1L763 2080.1L764 2079.2L765 2077.7L766 2075.9L766.1 2073.9L767 2071.1L768 2063.6L769 2054.2L770 2034L771 2006.8L772 1952.6L772.3 1926.9L773 1874.9L774 1767.4L775 1714.4L775.6 1762.9L776 1800.9L777 1907L777.3 1932.7L778 1981.8L779 2019.1L779.5 2026.8L780 2040.2L781 2065.5L782 2071L783 2070.7L783.9 2071.2L784 2071.9L785 2073.6L786 2075.9L787 2076.8L788 2079.8L789 2080.7L790 2080.6L791 2081.7L792 2082.3L793 2081.4L794 2080.8L795 2080.6L796 2080.9L797 2082.9L798 2084L799 2084.8L800 2082.7L801 2083.1L802 2084.4L802.9 2085.4L803 2083.9L804 2084L805 2084.4L806 2085.7L807 2086.9L808 2087.9L809 2087.2L810 2089.1L811 2088L812 2089L813 2090.1L814 2090.4L815 2089.7L816 2088.9L817 2088.9L818 2088.2L819 2088.1L820 2087.8L821 2089.5L822 2088.1L823 2088L824 2089.7L825 2089.3L826 2090.4L827 2090.5L828 2089.6L829 2089.9L830 2087.9L831 2088.4L832 2089.9L833 2089.1L834 2088.5L835 2090.5L836 2089.4L837 2086.8L838 2088.3L839 2085.4L840 2087L841 2086.8L842 2085.6L843 2084.4L844 2083.8L845 2086L846 2082.6L847 2081.2L848 2080.7L849 2079.8L849.2 2081.6L850 2081.1L851 2080.7L852 2081.4L853 2081.3L854 2081L855 2080.6L856 2080.1L857 2079.3L857.5 2078.5L858 2079L859 2080.5L860 2078.2L861 2077.9L862 2075.9L863 2071L864 2063.8L865 2034.4L866 1994.7L867 1940.4L867.6 1893.3L868 1866.4L869 1753.3L870 1561.5L870.6 1428.3L871 1326.1L871.5 1259.2L872 1270.8L873 1510.7L874 1740.1L875 1889.5L876 1976.8L876.5 2009.9L877 2023.4L878 2042.6L879 2053.2L880 2059.8L881 2062.9L882 2064.7L882.4 2064.8L883 2066.6L884 2070.9L885 2073L886 2075L887 2075.9L888 2076.8L889 2078.5L890 2078.2L891 2081.4L892 2081.3L893 2081.7L894 2082.1L895 2083.1L896 2084.2L897 2085.2L898 2084.7L899 2084.4L900 2085.4L901 2086L902 2086L903 2087.9L904 2086.9L905 2087L906 2088.8L907 2088.4L908 2088.7L909 2088.4L910 2088.3L911 2088.6L912 2088L913 2090.2L914 2090.6L915 2092.2L916 2091.2L917 2090.5L918 2091.7L919 2090.6L920 2091.7L921 2090.9L922 2089.4L923 2090.3L924 2090.7L925 2091.5L926 2091.1L927 2091.6L928 2091.8L929 2090.8L930 2090.5L931 2090.6L932 2090L933 2091.3L934 2092.4L935 2092L936 2091.5L937 2090.8L938 2092.2L939 2093.1L940 2090.6L941 2093.5L942 2094.1L943 2092.5L944 2092.2L945 2092.2L946 2092.6L947 2092.1L948 2092.6L949 2093L950 2094.7L951 2093.1L952 2091.9L953 2093.1L954 2092.5L955 2092.5L956 2092.4L957 2092L958 2091.8L959 2091.9L960 2091.6L961 2091.8L962 2093.9L963 2092.9L964 2091.9L965 2091.5L966 2093.2L967 2092.2L968 2092.5L969 2091.1L970 2090.2L971 2092L972 2090.9L973 2092.3L974 2093.2L975 2092.2L976 2092.2L977 2092.3L978 2092.1L979 2092.2L980 2092.2L981 2092.6L982 2092.8L983 2093.5L984 2093.6L985 2093.5L986 2092.4L987 2093L988 2093.4L989 2092.7L990 2091.7L991 2093.4L992 2089.9L993 2090.6L994 2089.9L995 2090L996 2089.7L997 2088.4L997.7 2087.3L998 2087.9L998.5 2087L999 2088L1000 2088.5L1001 2090.6L1002 2090.1L1003 2091.6L1004 2092.8L1005 2093L1006 2093L1007 2092.9L1008 2093.5L1009 2095.3L1010 2094.4L1011 2093.5L1012 2093.5L1013 2094.1L1014 2095.3L1015 2094.9L1016 2095.8L1017 2096.7L1018 2095.1L1019 2095.4L1020 2095L1021 2095.9L1022 2096.2L1023 2096L1024 2094.6L1025 2094.9L1026 2095.1L1027 2095.2L1028 2094.9L1029 2095.5L1030 2095.9L1031 2096L1032 2095.1L1033 2095.1L1034 2094.5L1035 2094.6L1036 2095.8L1037 2095.6L1038 2095.7L1039 2096.8L1040 2095.7L1041 2095.8L1042 2094.6L1043 2096.2L1044 2096L1045 2096.8L1046 2097.2L1047 2096.7L1048 2097L1049 2095.5L1050 2095.7L1051 2094.5L1052 2096.7L1053 2097L1054 2097.8L1055 2098.1L1056 2098.4L1057 2097L1058 2095.4L1059 2095.9L1060 2098.1L1061 2097.7L1062 2097.9L1063 2097.6L1064 2097.4L1065 2096.5L1066 2095.5L1067 2096.9L1068 2095.9L1069 2097.8L1070 2097.5L1071 2097.5L1072 2097L1073 2095.3L1074 2095.4L1075 2097L1076 2095.7L1077 2095.2L1078 2097.4L1079 2095L1080 2096L1081 2096.6L1082 2098.4L1083 2098.2L1084 2097.6L1085 2095.4L1086 2095.9L1087 2094.8L1088 2096.3L1089 2095.3L1090 2097L1091 2097.4L1092 2096.4L1093 2097.1L1094 2097.1L1095 2097L1096 2096.9L1097 2097.3L1098 2096.9L1099 2096.3L1100 2096.8L1101 2095.8L1102 2097.3L1103 2097.5L1104 2095.1L1105 2095.7L1106 2096.1L1107 2096.3L1108 2096.8L1109 2097.7L1110 2098.2L1111 2095.3L1112 2096.7L1113 2094.8L1114 2096.7L1115 2096.8L1116 2095.6L1117 2095.5L1118 2095.4L1119 2096.9L1120 2095.7L1121 2095.5L1122 2095.9L1123 2097L1124 2095.3L1125 2095.8L1126 2095.2L1127 2096.5L1128 2094.9L1129 2095.6L1130 2095.8L1130.7 2095.2L1131 2096.1L1131.5 2096.8L1132 2095.3L1133 2095L1134 2094.9L1135 2096L1136 2096L1137 2095.3L1138 2094.7L1139 2094.1L1140 2094.2L1141 2094.4L1142 2095.9L1143 2095.6L1144 2092.8L1145 2093.1L1146 2094.5L1147 2094.8L1148 2092.2L1149 2092.7L1150 2094.1L1151 2092.3L1152 2091.8L1153 2091.9L1154 2090.6L1155 2091.6L1156 2090.8L1157 2090.2L1158 2088.8L1159 2089.2L1160 2087.4L1161 2088.1L1162 2089.6L1163 2089.4L1164 2089.9L1164.7 2092.2L1165 2087.9L1166 2077.6L1167 2066.7L1168 2052L1169 2029.9L1169.6 2009.7L1170 1998.9L1171 1955.1L1171.6 1909.1L1172 1865.2L1173 1760.6L1173.4 1745.7L1174 1765.2L1174.8 1840.2L1175 1865.2L1176 1963L1176.8 2014.5L1177 2022.5L1178 2047.9L1179 2060.2L1180 2068.4L1181 2074.9L1182 2079.5L1183 2082.3L1184 2084.3L1185 2086.4L1186 2087.2L1187 2088.4L1188 2089.2L1189 2088L1190 2090.3L1191 2092.7L1192 2093.9L1193 2093L1194 2093.5L1195 2093.9L1196 2095.6L1197 2096.4L1198 2094.9L1199 2094.5L1200 2094.8L1201 2094.8L1202 2096.8L1203 2094.5L1204 2094.5L1205 2094.3L1206 2094.8L1207 2096.1L1208 2095.1L1209 2096.5L1210 2097.8L1211 2097L1212 2097.6L1213 2096.5L1214 2096.6L1215 2096L1216 2097.2L1217 2097L1218 2097.2L1219 2097.4L1220 2097.6L1221 2095.9L1222 2096.5L1223 2095.8L1224 2095.9L1225 2096.2L1226 2096.9L1227 2096.6L1228 2096.4L1229 2097.8L1230 2097.5L1231 2095.2L1232 2096.6L1233 2096.6L1234 2097.6L1235 2098L1236 2099.2L1237 2097.8L1238 2098.5L1239 2097.8L1240 2097.2L1241 2096.3L1242 2097.5L1243 2099L1244 2098.1L1245 2098.9L1246 2098.5L1247 2099L1248 2098.3L1249 2098.7L1250 2097.5L1251 2098.6L1252 2100L1253 2099.9L1254 2098.5L1255 2096.8L1256 2098L1257 2097.3L1258 2097.9L1259 2099.3L1260 2096.8L1261 2097.7L1262 2098L1263 2099L1264 2098.9L1265 2100.2L1266 2099.4L1267 2099.5L1268 2097.1L1269 2098.1L1270 2098.1L1271 2098.4L1272 2099.5L1273 2097.7L1274 2096L1275 2099.4L1276 2098.7L1277 2098.3L1278 2099.7L1279 2099.7L1280 2099.3L1281 2099.1L1282 2099.5L1283 2098.2L1284 2098.7L1285 2100.7L1286 2100.1L1287 2099.6L1288 2101.1L1289 2099.8L1290 2100.6L1291 2099.6L1292 2098.9L1293 2099.1L1294 2099L1295 2097.5L1296 2100L1297 2099.5L1298 2100.8L1299 2098.6L1300 2098.2L1301 2097.3L1302 2097.9L1303 2098.8L1304 2100.4L1305 2098.8L1306 2098.3L1307 2099.3L1308 2099.3L1309 2098.2L1310 2098.2L1311 2097.9L1312 2099.5L1313 2098.6L1314 2098.4L1315 2099.7L1316 2098.5L1317 2099.6L1318 2097.8L1319 2097.8L1320 2099.5L1321 2099.6L1322 2098.2L1323 2097.5L1324 2096.8L1325 2098.3L1326 2098.2L1327 2098.8L1328 2098.6L1329 2101.2L1330 2100.7L1331 2098L1332 2098.6L1333 2097.4L1334 2098.4L1335 2098.1L1336 2098.4L1337 2098L1338 2096.2L1339 2098L1340 2096.1L1341 2096.2L1342 2096.2L1343 2096.9L1344 2095.7L1345 2096L1346 2096.4L1347 2098.3L1348 2096.2L1349 2095.9L1350 2095.5L1351 2093.6L1352 2091.5L1353 2088.7L1354 2081.6L1355 2069.5L1356 2056.3L1357 2038L1358 2020.5L1358.7 2016.1L1359 2017.7L1360 2030.5L1361 2049.6L1362 2065.5L1363 2076.6L1364 2085.6L1365 2089.1L1366 2091.2L1367 2094.5L1368 2093.5L1369 2095.3L1370 2094.5L1371 2095.2L1372 2095.9L1373 2097.1L1374 2097L1375 2098.3L1376 2097.5L1377 2099.6L1378 2098.3L1379 2096.8L1380 2097L1381 2097.3L1382 2098.5L1383 2097.5L1384 2099.4L1385 2098.1L1386 2098L1387 2099.5L1388 2097.1L1389 2100L1390 2098.4L1391 2096.8L1392 2099.3L1393 2098.5L1394 2096.8L1395 2098.3L1396 2099.8L1397 2100.3L1398 2099.4L1399 2097.6L1400 2097.2L1401 2098.2L1402 2097.9L1403 2096.8L1404 2097.7L1405 2095.1L1406 2096.2L1407 2093.4L1408 2091.7L1409 2089.8L1410 2087.3L1411 2081.4L1412 2069.1L1413 2054.5L1414 2038.5L1415 2024.1L1415.7 2020.4L1416 2021.3L1417 2038.2L1417.7 2052.4L1418 2056.9L1419 2071.9L1420 2080.8L1421 2085.2L1422 2087.5L1423 2092.2L1424 2094L1425 2095.3L1426 2095.5L1427 2097L1428 2097.9L1429 2099.7L1430 2100.4L1431 2099L1432 2100.9L1433 2100.8L1434 2101.5L1435 2100.2L1436 2100.8L1437 2098.7L1438 2100.5L1439 2099.4L1440 2100.1L1441 2099.4L1442 2099.9L1443 2100.2L1444 2099L1445 2100L1446 2101L1447 2100.8L1448 2101.5L1449 2102.9L1450 2101.4L1451 2102.1L1452 2101.2L1453 2099.8L1454 2101L1455 2099.5L1456 2100.2L1457 2102.5L1458 2100.5L1459 2099.4L1460 2099.8L1461 2100.6L1462 2101.3L1463 2100.3L1464 2099.9L1465 2100.8L1466 2100.4L1467 2101.3L1468 2100L1469 2101.6L1470 2101.2L1471 2100.8L1472 2099.3L1473 2100.1L1474 2100.5L1475 2101.8L1476 2101.6L1477 2100.4L1478 2099.7L1479 2101.6L1480 2100.3L1481 2102.6L1482 2102L1483 2101L1484 2100.5L1485 2102.3L1486 2101.7L1487 2101.7L1488 2099.8L1489 2101L1490 2100.5L1491 2099.1L1492 2100.5L1493 2101.1L1494 2100.2L1495 2103.8L1496 2101.3L1497 2100.7L1498 2101.6L1499 2101.9L1500 2102L1501 2101.6L1502 2103.2L1503 2101.6L1504 2100.1L1505 2100.3L1506 2101.3L1507 2101.9L1508 2103.8L1509 2102.6L1510 2101.8L1511 2101.5L1512 2101.2L1513 2102.5L1514 2101.2L1515 2103.1L1516 2101.6L1517 2101.3L1518 2102L1519 2100.5L1520 2101.8L1521 2102.1L1522 2103.4L1523 2103.3L1524 2100.3L1525 2102L1526 2101.2L1527 2101L1528 2101L1529 2103.7L1530 2102.4L1531 2102.3L1532 2103.2L1533 2104.4L1534 2102.8L1535 2102.7L1536 2102.8L1537 2102.8L1538 2102.5L1539 2101.5L1540 2101.8L1541 2101.6L1542 2101.3L1543 2101.7L1544 2102.3L1545 2101.9L1546 2102L1547 2103.2L1548 2103.5L1549 2102.1L1550 2100.7L1551 2104.2L1552 2102.9L1553 2104.2L1554 2102.8L1555 2104.1L1556 2103.2L1557 2102.5L1558 2101.6L1559 2101.6L1560 2100.8L1561 2101.4L1562 2101.2L1563 2101.3L1564 2101.2L1565 2099.3L1566 2099.8L1566.5 2099.7L1567 2100.8L1568 2101.9L1569 2100.6L1570 2098.9L1571 2100.3L1572 2101L1573 2100.5L1574 2101.6L1575 2101.5L1576 2102.3L1577 2100.9L1578 2101.8L1579 2101.6L1580 2101.6L1581 2102.7L1582 2101.5L1583 2101.4L1584 2102.4L1585 2100.6L1586 2102.1L1587 2101.4L1588 2099.7L1589 2102.6L1590 2103.9L1591 2102.8L1592 2101.3L1593 2100.1L1594 2101.7L1595 2103.3L1596 2101L1597 2101.6L1598 2103.3L1599 2103.3L1600 2102.4L1601 2104.2L1602 2101.6L1603 2102.4L1604 2103.2L1605 2101.1L1606 2101.4L1607 2101.4L1608 2104.4L1609 2102.8L1610 2102.3L1611 2101.7L1612 2104.1L1613 2104.4L1614 2101.8L1615 2101L1616 2101.8L1617 2101.7L1618 2101.7L1619 2100.6L1620 2099L1621 2100.1L1622 2099.2L1623 2101.8L1624 2099.9L1625 2097.9L1626 2095.6L1627 2091.4L1628 2087.3L1629 2080.5L1630 2077L1631 2076.1L1631.1 2076.1L1632 2076.4L1633 2084.7L1634 2089L1635 2094.4L1636 2096.7L1637 2098.2L1638 2099.4L1639 2099.4L1640 2100.4L1641 2100.7L1642 2101.6L1643 2102.5L1644 2101.4L1645 2101.3L1646 2101L1647 2103.4L1648 2101.9L1649 2102L1650 2102L1651 2101.4L1652 2102.6L1653 2102.4L1654 2103.6L1655 2102.2L1656 2102.9L1657 2104.9L1658 2104.4L1659 2103.4L1660 2103.9L1661 2102.1L1662 2102.9L1663 2103L1664 2103.2L1665 2103.2L1666 2103.3L1667 2102.2L1668 2101.8L1669 2101.2L1670 2102.4L1671 2100.8L1672 2101.8L1673 2101.5L1674 2102.6L1675 2104.7L1676 2103L1677 2103.9L1678 2104.5L1679 2102.4L1680 2102.4L1681 2102.9L1682 2102.2L1683 2102.3L1684 2102.4L1685 2102.8L1686 2102.4L1687 2103.7L1688 2103.7L1689 2103L1690 2103.2L1691 2101.4L1692 2101L1693 2101L1694 2102.2L1695 2103.8L1696 2102.7L1697 2101.6L1698 2101.5L1699 2102.5L1700 2101.5L1701 2101.6L1702 2103.2L1703 2104.2L1704 2103.5L1705 2103.1L1706 2102.7L1707 2103.2L1708 2100.2L1709 2102L1710 2102.6L1711 2102.3L1712 2102.2L1713 2102.9L1714 2102.3L1715 2103.1L1716 2102.1L1717 2102.8L1718 2103.5L1719 2102L1720 2103.3L1721 2103.2L1722 2103L1723 2103.9L1724 2103.6L1725 2102.5L1726 2103.4L1727 2104.2L1728 2103.1L1729 2102.9L1730 2102.7L1731 2102.5L1732 2102.1L1733 2103.4L1734 2104.1L1735 2102.3L1736 2102.6L1737 2102.6L1738 2103.5L1739 2104L1740 2103.7L1741 2104.3L1742 2104.2L1743 2103.9L1744 2103.7L1745 2104.3L1746 2103L1747 2102.2L1748 2103.8L1749 2104.4L1750 2105.3L1751 2104.1L1752 2102.6L1753 2103.5L1754 2104.7L1755 2103.4L1756 2103.2L1757 2102.8L1758 2101.7L1759 2103.9L1760 2103.2L1761 2104.7L1762 2103.4L1763 2101.7L1764 2101.8L1765 2101.7L1766 2101.9L1767 2102.2L1768 2102.2L1769 2103.9L1770 2100.9L1771 2100.7L1772 2101.4L1773 2101.9L1774 2101.2L1775 2100.2L1776 2099.6L1777 2097.8L1778 2095.7L1779 2093.9L1780 2089.7L1781 2087.7L1782 2085.3L1782.5 2085.9L1783 2086L1784 2089L1785 2091.5L1786 2093.9L1787 2095.2L1788 2097.8L1789 2097L1790 2099.8L1791 2101L1792 2101.1L1793 2101.8L1794 2100.3L1795 2100.7L1796 2100.5L1797 2101.8L1798 2102.3L1799 2103.4L1800 2101.4L1801 2100.9L1802 2101.8L1803 2101.1L1804 2100.8L1805 2101.9L1806 2101.6L1807 2101.1L1808 2102.2L1809 2101.5L1810 2100.1L1811 2100.6L1812 2101L1813 2100.3L1814 2101.4L1815 2101L1816 2101.1L1817 2101L1818 2099.7L1819 2098.9L1820 2098.5L1821 2097.5L1822 2098L1823 2095.2L1824 2092.3L1825 2090.1L1826 2085.2L1827 2077.6L1828 2070.8L1829 2061.4L1830 2052.8L1831 2048.1L1831.4 2049.8L1832 2052.3L1833 2059.6L1834 2065.2L1835 2072.7L1836 2079.6L1837 2083.8L1838 2088L1839 2091.6L1840 2093.5L1841 2094.5L1842 2095.7L1843 2096.9L1844 2096.8L1845 2097L1846 2096.7L1846.6 2097L1847 2096L1848 2098.2L1849 2099L1850 2098.5L1851 2100.1L1852 2099.8L1853 2101.2L1854 2103L1855 2102.3L1856 2101.4L1857 2101.4L1858 2102.1L1859 2101.9L1860 2102.8L1861 2101L1862 2103.2L1863 2102.7L1864 2102.6L1865 2103.9L1866 2104.1L1867 2101.7L1868 2101.3L1869 2103.2L1870 2102.7L1871 2102.1L1872 2103.4L1873 2103.1L1874 2103.5L1875 2102.4L1876 2102.3L1877 2102.5L1878 2102.9L1879 2103.8L1880 2101.8L1881 2101.9L1882 2102L1883 2103L1884 2102.6L1885 2103.2L1886 2104.3L1887 2103.8L1888 2104.7L1889 2104L1890 2102.1L1891 2103L1892 2103.6L1893 2103L1894 2103.2L1895 2104.5L1896 2104.2L1897 2102.9" stroke="#ff0000" stroke-width="1.8" fill="none" stroke-linejoin="round"/>
<path d="M284 2059.7L285 2060.2L286 2060.8L287 2061.4L288 2062L289 2062.5L290 2063.1L291 2063.7L292 2064.3L293 2064.9L294 2065.4L295 2066L296 2066.6L297 2067.2L298 2067.7L299 2068.3L300 2068.9L301 2069.5L302 2070L303 2070.6L304 2071.1L305 2071.6L306 2072.1L307 2072.6L308 2073.1L309 2073.6L310 2074.1L311 2074.7L312 2075.2L313 2075.7L314 2076.2L315 2076.7L316 2077.2L317 2077.7L318 2078.3L319 2078.8L320 2079.3L321 2079.8L322 2080.3L323 2080.8L324 2081.2L325 2081.5L326 2081.9L327 2082.2L328 2082.6L329 2082.9L330 2083.3L331 2083.6L332 2084L333 2084.3L334 2084.7L335 2085L336 2085.4L337 2085.7L338 2086L339 2086.4L340 2086.7L341 2087.1L342 2087.5L343 2087.9L344 2088.3L345 2088.7L346 2089L347 2089.4L348 2089.8L349 2090.2L350 2090.6L351 2091L352 2091.4L353 2091.8L354 2091.8L355 2091.8L356 2091.8L357 2091.8L358 2091.8L359 2091.8L360 2091.8L361 2091.8L362 2091.8L363 2091.8L364 2091.8L365 2091.8L366 2091.8L367 2091.8L368 2091.8L369 2091.8L370 2091.8L371 2091.8L372 2091.8L373 2091.8L374 2091.8L375 2091.8L376 2091.7L377 2091.7L378 2091.7L379 2091.6L380 2091.6L381 2091.5L382 2091.5L383 2091.5L384 2091.4L385 2091.4L386 2091.4L387 2091.3L388 2091.3L389 2091.3L390 2091.2L391 2091.2L392 2091.2L393 2091.1L394 2091.1L395 2091.1L396 2091L397 2091L398 2091L399 2090.9L400 2090.9L401 2090.8L402 2090.8L403 2090.8L404 2090.7L405 2090.7L406 2090.7L407 2090.6L408 2090.6L409 2090.6L410 2090.5L411 2090.5L412 2090.5L413 2090.4L414 2090.4L415 2090.4L416 2090.4L417 2090.3L418 2090.3L419 2090.3L420 2090.3L421 2090.3L422 2090.3L423 2090.3L424 2090.3L425 2090.3L426 2090.3L427 2090.2L428 2090.2L429 2090.2L430 2090.2L431 2090.2L432 2090.2L433 2090.2L434 2090.2L435 2090.2L436 2090.1L437 2090.1L438 2090.1L439 2090.1L440 2090.1L441 2090.1L442 2090.1L443 2090.1L444 2090.1L445 2090.1L446 2090L447 2090L448 2090L449 2090L450 2090L451 2090L452 2090L453 2090L454 2090L455 2090L456 2089.9L457 2089.9L458 2089.9L459 2089.9L460 2089.9L461 2089.9L462 2089.9L463 2089.9L464 2089.8L465 2089.8L466 2089.7L467 2089.7L468 2089.6L469 2089.6L470 2089.6L471 2089.5L472 2089.5L473 2089.4L474 2089.4L475 2089.3L476 2089.3L477 2089.2L478 2089.2L479 2089.1L480 2089.1L481 2089.1L482 2089L483 2089L484 2088.9L485 2088.9L486 2088.8L487 2088.8L488 2088.7L489 2088.7L490 2088.6L491 2088.6L492 2088.5L493 2088.5L494 2088.5L495 2088.4L496 2088.4L497 2088.3L498 2088.3L499 2088.2L500 2088.2L501 2088.1L502 2088.1L503 2088L504 2088L505 2088L506 2087.9L507 2087.8L508 2087.7L509 2087.7L510 2087.6L511 2087.5L512 2087.5L513 2087.4L514 2087.3L515 2087.3L516 2087.2L517 2087.1L518 2087L519 2087L520 2086.9L521 2086.8L522 2086.8L523 2086.7L524 2086.6L525 2086.5L526 2086.5L527 2086.4L528 2086.3L529 2086.3L530 2086.2L531 2086.1L532 2086.1L533 2086L534 2085.9L535 2085.8L536 2085.8L537 2085.7L538 2085.6L539 2085.6L540 2085.5L541 2085.4L542 2085.3L543 2085.3L544 2085.2L545 2085.1L546 2085.1L547 2085L548 2084.9L549 2084.9L550 2084.8L551 2084.7L552 2084.6L553 2084.5L554 2084.4L555 2084.3L556 2084.2L557 2084.2L558 2084.1L559 2084L560 2083.9L561 2083.8L562 2083.7L563 2083.6L564 2083.5L565 2083.4L566 2083.3L567 2083.2L568 2083.1L569 2083L570 2082.9L571 2082.8L572 2082.7L573 2082.6L574 2082.5L575 2082.4L576 2082.3L577 2082.2L578 2082.1L579 2082L580 2081.9L581 2081.8L582 2081.7L583 2081.6L584 2081.5L585 2081.3L586 2081.2L587 2081.1L588 2080.9L589 2080.8L590 2080.7L591 2080.6L592 2080.4L593 2080.3L594 2080.2L595 2080.1L596 2079.9L597 2079.8L598 2079.7L599 2079.6L600 2079.4L601 2079.3L602 2079.2L603 2079.1L604 2079L605 2079L606 2078.9L607 2078.8L608 2078.7L609 2078.6L610 2078.5L611 2078.5L612 2078.4L613 2078.3L614 2078.2L615 2078.1L616 2078L617 2077.9L618 2077.9L619 2077.8L620 2077.7L621 2077.6L622 2077.5L623 2077.4L624 2077.4L625 2077.3L626 2077.2L627 2077.1L628 2077L629 2076.9L630 2076.8L631 2076.7L632 2076.6L633 2076.5L634 2076.4L635 2076.3L636 2076.2L637 2076.1L638 2076L639 2075.9L640 2075.8L641 2075.7L642 2075.6L643 2075.5L644 2075.4L645 2075.3L646 2075.2L647 2075.1L648 2075L649 2074.9L650 2074.8L651 2074.7L652 2074.6L653 2074.6L654 2074.6L655 2074.6L656 2074.7L657 2074.7L658 2074.7L659 2074.8L660 2074.8L661 2074.8L662 2074.8L663 2074.9L664 2074.9L665 2074.9L666 2075L667 2075L668 2075.2L669 2075.4L670 2075.6L671 2075.9L672 2076.1L673 2076.3L674 2076.6L675 2076.8L676 2077.1L677 2077.3L678 2077.5L679 2077.7L680 2078L681 2078.2L682 2078.4L683 2078.6L684 2078.9L685 2079.1L686 2079.3L687 2079.5L688 2079.8L689 2080L690 2080.2L691 2080.4L692 2080.6L693 2080.9L694 2081.1L695 2081.3L696 2081.5L697 2081.6L698 2081.6L699 2081.7L700 2081.7L701 2081.8L702 2081.8L703 2081.9L704 2082L705 2082L706 2082.1L707 2082.1L708 2082.2L709 2082.2L710 2082.3L711 2082.3L712 2082.4L713 2082.5L714 2082.5L715 2082.6L716 2082.6L717 2082.7L718 2082.8L719 2082.9L720 2083L721 2083.2L722 2083.3L723 2083.4L724 2083.5L725 2083.7L726 2083.8L727 2083.9L728 2084L729 2084.1L730 2084.2L731 2084.4L732 2084.5L733 2084.6L734 2084.7L735 2084.7L736 2084.7L737 2084.7L738 2084.7L739 2084.7L740 2084.7L741 2084.7L742 2084.7L743 2084.6L744 2084.6L745 2084.6L746 2084.5L747 2084.5L748 2084.4L749 2084.3L750 2084.2L751 2084.1L752 2083.9L753 2083.8L754 2083.5L755 2083.3L756 2083L757 2082.6L758 2082.2L759 2081.7L760 2081L761 2080.3L762 2079.3L763 2078L764 2076.4L765 2074.3L766 2071.5L766.1 2071.2L767 2067.6L768 2062.1L769 2053.8L770 2040.3L771 2015.5L772 1967.3L772.3 1945.7L773 1879.1L774 1750.6L775 1670.7L775.6 1703.3L776 1750.7L777 1879.3L777.3 1910.8L778 1967.6L779 2015.9L779.5 2030.4L780 2040.8L781 2054.4L782 2062.8L783 2068.4L783.9 2072.1L784 2072.4L785 2075.3L786 2077.5L787 2079.2L788 2080.6L789 2081.7L790 2082.6L791 2083.3L792 2083.9L793 2084.5L794 2084.9L795 2085.3L796 2085.7L797 2086L798 2086.3L799 2086.5L800 2086.7L801 2086.9L802 2087.1L802.9 2087.3L803 2087.3L804 2087.4L805 2087.6L806 2087.7L807 2087.8L808 2087.9L809 2088.1L810 2088.2L811 2088.2L812 2088.3L813 2088.4L814 2088.5L815 2088.6L816 2088.6L817 2088.7L818 2088.7L819 2088.7L820 2088.7L821 2088.6L822 2088.6L823 2088.6L824 2088.6L825 2088.5L826 2088.5L827 2088.5L828 2088.4L829 2088.4L830 2088.3L831 2088.2L832 2088.2L833 2088.1L834 2088L835 2087.9L836 2087.8L837 2087.7L838 2087.5L839 2087.4L840 2087.2L841 2087.1L842 2086.9L843 2086.6L844 2086.4L845 2086.1L846 2085.8L847 2085.5L848 2085.1L849 2084.6L849.2 2084.5L850 2084.1L851 2083.5L852 2082.8L853 2082L854 2081.1L855 2080L856 2078.6L857 2077L857.5 2076.1L858 2075.1L859 2072.6L860 2069.5L861 2065.6L862 2060.4L863 2053.4L864 2043.7L865 2029.5L866 2007.4L867 1969.1L867.6 1931.7L868 1897.5L869 1765.5L870 1554.1L870.6 1408.7L871 1330.7L871.5 1290.2L872 1330.7L873 1554.1L874 1765.6L875 1897.5L876 1969.1L876.5 1991.1L877 2007.4L878 2029.5L879 2043.7L880 2053.4L881 2060.4L882 2065.6L882.4 2067.3L883 2069.6L884 2072.7L885 2075.1L886 2077.1L887 2078.7L888 2080.1L889 2081.2L890 2082.1L891 2083L892 2083.7L893 2084.3L894 2084.9L895 2085.4L896 2085.9L897 2086.3L898 2086.6L899 2087L900 2087.3L901 2087.5L902 2087.8L903 2088L904 2088.2L905 2088.4L906 2088.6L907 2088.8L908 2089L909 2089.1L910 2089.3L911 2089.4L912 2089.6L913 2089.7L914 2089.8L915 2089.9L916 2090L917 2090.1L918 2090.2L919 2090.3L920 2090.4L921 2090.5L922 2090.6L923 2090.7L924 2090.8L925 2090.9L926 2091L927 2091L928 2091.1L929 2091.2L930 2091.3L931 2091.3L932 2091.4L933 2091.5L934 2091.5L935 2091.6L936 2091.6L937 2091.7L938 2091.8L939 2091.8L940 2091.9L941 2091.9L942 2092L943 2092L944 2092.1L945 2092.1L946 2092.2L947 2092.2L948 2092.3L949 2092.3L950 2092.4L951 2092.4L952 2092.5L953 2092.5L954 2092.5L955 2092.6L956 2092.6L957 2092.7L958 2092.7L959 2092.8L960 2092.8L961 2092.8L962 2092.9L963 2092.9L964 2092.9L965 2093L966 2093L967 2093L968 2093.1L969 2093.1L970 2093.1L971 2093.2L972 2093.2L973 2093.2L974 2093.2L975 2093.2L976 2093.3L977 2093.3L978 2093.3L979 2093.3L980 2093.3L981 2093.2L982 2093.2L983 2093.2L984 2093.1L985 2093L986 2092.9L987 2092.7L988 2092.5L989 2092.1L990 2091.7L991 2091L992 2090.2L993 2089.1L994 2087.7L995 2086.2L996 2084.8L997 2083.7L997.7 2083.5L998 2083.6L998.5 2083.9L999 2084.4L1000 2085.8L1001 2087.4L1002 2088.9L1003 2090.2L1004 2091.2L1005 2092L1006 2092.6L1007 2093.1L1008 2093.5L1009 2093.7L1010 2094L1011 2094.1L1012 2094.3L1013 2094.4L1014 2094.5L1015 2094.6L1016 2094.7L1017 2094.8L1018 2094.9L1019 2095L1020 2095.1L1021 2095.1L1022 2095.2L1023 2095.2L1024 2095.3L1025 2095.4L1026 2095.4L1027 2095.5L1028 2095.5L1029 2095.6L1030 2095.6L1031 2095.7L1032 2095.7L1033 2095.8L1034 2095.8L1035 2095.9L1036 2095.9L1037 2095.9L1038 2096L1039 2096L1040 2096.1L1041 2096.1L1042 2096.2L1043 2096.2L1044 2096.2L1045 2096.3L1046 2096.3L1047 2096.4L1048 2096.4L1049 2096.4L1050 2096.5L1051 2096.5L1052 2096.6L1053 2096.6L1054 2096.6L1055 2096.7L1056 2096.7L1057 2096.7L1058 2096.7L1059 2096.7L1060 2096.7L1061 2096.7L1062 2096.7L1063 2096.7L1064 2096.7L1065 2096.7L1066 2096.7L1067 2096.7L1068 2096.7L1069 2096.7L1070 2096.7L1071 2096.7L1072 2096.7L1073 2096.7L1074 2096.7L1075 2096.7L1076 2096.7L1077 2096.7L1078 2096.7L1079 2096.7L1080 2096.7L1081 2096.7L1082 2096.7L1083 2096.7L1084 2096.7L1085 2096.7L1086 2096.7L1087 2096.7L1088 2096.7L1089 2096.7L1090 2096.7L1091 2096.7L1092 2096.7L1093 2096.7L1094 2096.7L1095 2096.7L1096 2096.7L1097 2096.7L1098 2096.6L1099 2096.6L1100 2096.6L1101 2096.6L1102 2096.6L1103 2096.6L1104 2096.6L1105 2096.6L1106 2096.6L1107 2096.6L1108 2096.5L1109 2096.5L1110 2096.5L1111 2096.5L1112 2096.5L1113 2096.4L1114 2096.4L1115 2096.4L1116 2096.4L1117 2096.3L1118 2096.3L1119 2096.2L1120 2096.2L1121 2096.1L1122 2096L1123 2095.8L1124 2095.7L1125 2095.4L1126 2095.1L1127 2094.6L1128 2094.1L1129 2093.4L1130 2092.8L1130.7 2092.4L1131 2092.3L1131.5 2092.2L1132 2092.3L1133 2092.7L1134 2093.2L1135 2093.8L1136 2094.3L1137 2094.7L1138 2095L1139 2095.1L1140 2095.2L1141 2095.3L1142 2095.3L1143 2095.3L1144 2095.3L1145 2095.2L1146 2095.1L1147 2095L1148 2094.9L1149 2094.8L1150 2094.6L1151 2094.5L1152 2094.3L1153 2094L1154 2093.7L1155 2093.4L1156 2093L1157 2092.6L1158 2092L1159 2091.3L1160 2090.5L1161 2089.4L1162 2088.1L1163 2086.4L1164 2084.2L1164.7 2082.2L1165 2081.1L1166 2076.9L1167 2070.7L1168 2061L1169 2043.9L1169.6 2027L1170 2011.5L1171 1951L1171.6 1896.8L1172 1854L1173 1757.2L1173.4 1745L1174 1771.3L1174.8 1854.1L1175 1875.9L1176 1966L1176.8 2011.5L1177 2019.8L1178 2048.3L1179 2063.4L1180 2072.3L1181 2078L1182 2082L1183 2084.8L1184 2087L1185 2088.6L1186 2089.9L1187 2090.9L1188 2091.7L1189 2092.4L1190 2092.9L1191 2093.4L1192 2093.8L1193 2094.1L1194 2094.4L1195 2094.7L1196 2094.9L1197 2095.1L1198 2095.3L1199 2095.4L1200 2095.6L1201 2095.7L1202 2095.8L1203 2095.9L1204 2096L1205 2096.1L1206 2096.1L1207 2096.2L1208 2096.3L1209 2096.3L1210 2096.4L1211 2096.4L1212 2096.5L1213 2096.5L1214 2096.6L1215 2096.6L1216 2096.7L1217 2096.7L1218 2096.8L1219 2096.8L1220 2096.9L1221 2097L1222 2097L1223 2097.1L1224 2097.1L1225 2097.2L1226 2097.3L1227 2097.3L1228 2097.4L1229 2097.4L1230 2097.5L1231 2097.5L1232 2097.6L1233 2097.6L1234 2097.7L1235 2097.7L1236 2097.8L1237 2097.8L1238 2097.9L1239 2097.9L1240 2098L1241 2098L1242 2098.1L1243 2098.1L1244 2098.2L1245 2098.2L1246 2098.3L1247 2098.3L1248 2098.4L1249 2098.4L1250 2098.4L1251 2098.4L1252 2098.5L1253 2098.5L1254 2098.5L1255 2098.5L1256 2098.5L1257 2098.5L1258 2098.6L1259 2098.6L1260 2098.6L1261 2098.6L1262 2098.6L1263 2098.7L1264 2098.7L1265 2098.7L1266 2098.7L1267 2098.7L1268 2098.7L1269 2098.8L1270 2098.8L1271 2098.8L1272 2098.8L1273 2098.8L1274 2098.8L1275 2098.8L1276 2098.9L1277 2098.9L1278 2098.9L1279 2098.9L1280 2098.9L1281 2098.9L1282 2098.9L1283 2099L1284 2099L1285 2099L1286 2099L1287 2099L1288 2099L1289 2099L1290 2099.1L1291 2099.1L1292 2099.1L1293 2099.1L1294 2099.1L1295 2099.1L1296 2099.1L1297 2099.1L1298 2099.2L1299 2099.2L1300 2099.2L1301 2099.2L1302 2099.2L1303 2099.2L1304 2099.2L1305 2099.2L1306 2099.2L1307 2099.2L1308 2099.2L1309 2099.3L1310 2099.3L1311 2099.3L1312 2099.3L1313 2099.3L1314 2099.3L1315 2099.3L1316 2099.3L1317 2099.3L1318 2099.3L1319 2099.3L1320 2099.3L1321 2099.3L1322 2099.3L1323 2099.2L1324 2099.2L1325 2099.2L1326 2099.2L1327 2099.2L1328 2099.2L1329 2099.1L1330 2099.1L1331 2099.1L1332 2099L1333 2099L1334 2098.9L1335 2098.9L1336 2098.8L1337 2098.7L1338 2098.6L1339 2098.5L1340 2098.4L1341 2098.2L1342 2098L1343 2097.8L1344 2097.5L1345 2097.1L1346 2096.7L1347 2096.1L1348 2095.4L1349 2094.5L1350 2093.3L1351 2091.6L1352 2089.1L1353 2085.2L1354 2078.8L1355 2068.7L1356 2053.6L1357 2034L1358 2015.6L1358.7 2010.7L1359 2011.6L1360 2025.8L1361 2046.2L1362 2063.4L1363 2075.4L1364 2083.1L1365 2087.9L1366 2090.9L1367 2092.9L1368 2094.3L1369 2095.3L1370 2096.1L1371 2096.7L1372 2097.2L1373 2097.6L1374 2097.9L1375 2098.2L1376 2098.4L1377 2098.6L1378 2098.8L1379 2098.9L1380 2099L1381 2099.1L1382 2099.2L1383 2099.3L1384 2099.3L1385 2099.4L1386 2099.4L1387 2099.4L1388 2099.5L1389 2099.5L1390 2099.5L1391 2099.5L1392 2099.4L1393 2099.4L1394 2099.3L1395 2099.3L1396 2099.2L1397 2099.1L1398 2099L1399 2098.8L1400 2098.6L1401 2098.4L1402 2098.1L1403 2097.7L1404 2097.2L1405 2096.6L1406 2095.8L1407 2094.7L1408 2093.2L1409 2090.9L1410 2087.4L1411 2081.6L1412 2072.5L1413 2058.9L1414 2041.1L1415 2024.5L1415.7 2020L1416 2020.9L1417 2033.8L1417.7 2046.8L1418 2052.2L1419 2067.8L1420 2078.6L1421 2085.6L1422 2090L1423 2092.7L1424 2094.5L1425 2095.8L1426 2096.8L1427 2097.5L1428 2098.1L1429 2098.5L1430 2098.9L1431 2099.2L1432 2099.5L1433 2099.7L1434 2099.9L1435 2100L1436 2100.2L1437 2100.3L1438 2100.4L1439 2100.5L1440 2100.6L1441 2100.7L1442 2100.8L1443 2100.8L1444 2100.9L1445 2101L1446 2101L1447 2101.1L1448 2101.1L1449 2101.2L1450 2101.2L1451 2101.3L1452 2101.3L1453 2101.3L1454 2101.4L1455 2101.4L1456 2101.4L1457 2101.5L1458 2101.5L1459 2101.5L1460 2101.5L1461 2101.6L1462 2101.6L1463 2101.6L1464 2101.7L1465 2101.7L1466 2101.7L1467 2101.7L1468 2101.7L1469 2101.8L1470 2101.8L1471 2101.8L1472 2101.8L1473 2101.9L1474 2101.9L1475 2101.9L1476 2101.9L1477 2101.9L1478 2102L1479 2102L1480 2102L1481 2102L1482 2102L1483 2102.1L1484 2102.1L1485 2102.1L1486 2102.1L1487 2102.1L1488 2102.2L1489 2102.2L1490 2102.2L1491 2102.2L1492 2102.2L1493 2102.2L1494 2102.3L1495 2102.3L1496 2102.3L1497 2102.3L1498 2102.3L1499 2102.3L1500 2102.4L1501 2102.4L1502 2102.4L1503 2102.4L1504 2102.4L1505 2102.4L1506 2102.5L1507 2102.5L1508 2102.5L1509 2102.5L1510 2102.5L1511 2102.5L1512 2102.6L1513 2102.6L1514 2102.6L1515 2102.6L1516 2102.6L1517 2102.6L1518 2102.7L1519 2102.7L1520 2102.7L1521 2102.7L1522 2102.7L1523 2102.7L1524 2102.7L1525 2102.7L1526 2102.7L1527 2102.7L1528 2102.7L1529 2102.7L1530 2102.7L1531 2102.7L1532 2102.7L1533 2102.7L1534 2102.7L1535 2102.7L1536 2102.7L1537 2102.7L1538 2102.7L1539 2102.7L1540 2102.7L1541 2102.7L1542 2102.7L1543 2102.7L1544 2102.7L1545 2102.7L1546 2102.7L1547 2102.7L1548 2102.7L1549 2102.7L1550 2102.7L1551 2102.7L1552 2102.7L1553 2102.7L1554 2102.7L1555 2102.6L1556 2102.6L1557 2102.5L1558 2102.5L1559 2102.4L1560 2102.2L1561 2102L1562 2101.8L1563 2101.4L1564 2101.1L1565 2100.7L1566 2100.4L1566.5 2100.4L1567 2100.4L1568 2100.7L1569 2101.1L1570 2101.5L1571 2101.8L1572 2102.1L1573 2102.3L1574 2102.4L1575 2102.5L1576 2102.6L1577 2102.7L1578 2102.7L1579 2102.7L1580 2102.8L1581 2102.8L1582 2102.8L1583 2102.8L1584 2102.8L1585 2102.8L1586 2102.8L1587 2102.8L1588 2102.9L1589 2102.9L1590 2102.9L1591 2102.9L1592 2102.9L1593 2102.9L1594 2102.9L1595 2102.9L1596 2102.9L1597 2102.9L1598 2102.8L1599 2102.8L1600 2102.8L1601 2102.8L1602 2102.8L1603 2102.8L1604 2102.8L1605 2102.8L1606 2102.7L1607 2102.7L1608 2102.7L1609 2102.7L1610 2102.6L1611 2102.6L1612 2102.5L1613 2102.5L1614 2102.4L1615 2102.3L1616 2102.2L1617 2102.1L1618 2101.9L1619 2101.7L1620 2101.5L1621 2101.2L1622 2100.7L1623 2100.2L1624 2099.3L1625 2098L1626 2096L1627 2093.1L1628 2089L1629 2083.8L1630 2078.5L1631 2075.7L1631.1 2075.7L1632 2077.6L1633 2082.7L1634 2088L1635 2092.4L1636 2095.6L1637 2097.7L1638 2099.1L1639 2100.1L1640 2100.7L1641 2101.2L1642 2101.5L1643 2101.8L1644 2102L1645 2102.2L1646 2102.3L1647 2102.4L1648 2102.5L1649 2102.6L1650 2102.7L1651 2102.8L1652 2102.8L1653 2102.9L1654 2102.9L1655 2102.9L1656 2103L1657 2103L1658 2103L1659 2103.1L1660 2103.1L1661 2103.1L1662 2103.1L1663 2103.1L1664 2103.2L1665 2103.2L1666 2103.2L1667 2103.2L1668 2103.2L1669 2103.2L1670 2103.2L1671 2103.2L1672 2103.3L1673 2103.3L1674 2103.3L1675 2103.3L1676 2103.3L1677 2103.3L1678 2103.3L1679 2103.3L1680 2103.3L1681 2103.3L1682 2103.3L1683 2103.4L1684 2103.4L1685 2103.4L1686 2103.4L1687 2103.4L1688 2103.4L1689 2103.4L1690 2103.4L1691 2103.4L1692 2103.4L1693 2103.4L1694 2103.4L1695 2103.4L1696 2103.4L1697 2103.4L1698 2103.4L1699 2103.4L1700 2103.4L1701 2103.5L1702 2103.5L1703 2103.5L1704 2103.5L1705 2103.5L1706 2103.5L1707 2103.5L1708 2103.5L1709 2103.5L1710 2103.5L1711 2103.5L1712 2103.5L1713 2103.5L1714 2103.5L1715 2103.5L1716 2103.5L1717 2103.5L1718 2103.5L1719 2103.5L1720 2103.5L1721 2103.5L1722 2103.5L1723 2103.5L1724 2103.5L1725 2103.5L1726 2103.5L1727 2103.5L1728 2103.5L1729 2103.5L1730 2103.5L1731 2103.5L1732 2103.5L1733 2103.5L1734 2103.5L1735 2103.5L1736 2103.5L1737 2103.5L1738 2103.5L1739 2103.5L1740 2103.5L1741 2103.5L1742 2103.5L1743 2103.5L1744 2103.5L1745 2103.5L1746 2103.5L1747 2103.5L1748 2103.5L1749 2103.5L1750 2103.5L1751 2103.4L1752 2103.4L1753 2103.4L1754 2103.4L1755 2103.4L1756 2103.3L1757 2103.3L1758 2103.3L1759 2103.2L1760 2103.2L1761 2103.1L1762 2103.1L1763 2103L1764 2103L1765 2102.9L1766 2102.8L1767 2102.7L1768 2102.6L1769 2102.4L1770 2102.2L1771 2102L1772 2101.7L1773 2101.3L1774 2100.8L1775 2100.1L1776 2099.1L1777 2097.7L1778 2095.8L1779 2093.5L1780 2090.7L1781 2088L1782 2086.2L1782.5 2085.9L1783 2086.2L1784 2088L1785 2090.7L1786 2093.4L1787 2095.7L1788 2097.6L1789 2098.9L1790 2099.9L1791 2100.6L1792 2101.1L1793 2101.4L1794 2101.7L1795 2101.9L1796 2102L1797 2102.1L1798 2102.2L1799 2102.3L1800 2102.3L1801 2102.4L1802 2102.4L1803 2102.4L1804 2102.4L1805 2102.4L1806 2102.3L1807 2102.3L1808 2102.2L1809 2102.2L1810 2102.1L1811 2102L1812 2101.8L1813 2101.7L1814 2101.5L1815 2101.3L1816 2101.1L1817 2100.8L1818 2100.4L1819 2100L1820 2099.4L1821 2098.7L1822 2097.7L1823 2096.4L1824 2094.5L1825 2091.7L1826 2087.8L1827 2082.2L1828 2074.7L1829 2065.4L1830 2056L1831 2049.9L1831.4 2049.3L1832 2050.2L1833 2055.2L1834 2062.7L1835 2070.5L1836 2077.4L1837 2083L1838 2087.4L1839 2090.6L1840 2092.9L1841 2094.5L1842 2095.6L1843 2096.2L1844 2096.5L1845 2096.7L1846 2096.9L1846.6 2097.1L1847 2097.2L1848 2097.9L1849 2098.6L1850 2099.4L1851 2100L1852 2100.5L1853 2100.9L1854 2101.2L1855 2101.5L1856 2101.7L1857 2101.8L1858 2102L1859 2102.1L1860 2102.2L1861 2102.3L1862 2102.3L1863 2102.4L1864 2102.5L1865 2102.5L1866 2102.6L1867 2102.6L1868 2102.7L1869 2102.7L1870 2102.7L1871 2102.8L1872 2102.8L1873 2102.8L1874 2102.8L1875 2102.9L1876 2102.9L1877 2102.9L1878 2102.9L1879 2102.9L1880 2102.9L1881 2103L1882 2103L1883 2103L1884 2103L1885 2103L1886 2103L1887 2103L1888 2103L1889 2103L1890 2103L1891 2103L1892 2103L1893 2103L1894 2103.1L1895 2103.1L1896 2103.1L1897 2103.1" stroke="#0000ff" stroke-width="2.2" fill="none" stroke-linejoin="round"/>
<path d="M283.7 2059.5L301.7 2069.9L323.1 2080.9L340.7 2087L353 2091.8L374.4 2091.8L414.7 2090.4L463.2 2089.9L505 2088L552 2084.7L581.9 2081.8L600.9 2079.4L628.4 2077.1L652.2 2074.7L667.4 2075.2L676.9 2077.5L695.8 2081.8L717.2 2083.2L733.8 2085.6L816.9 2090.4L890.3 2090.4L929.6 2092.2L1056.6 2097L1148.7 2097L1216.8 2097.4L1248.7 2098.7L1519.1 2102.8L1749.7 2103.8L1898.5 2103.3" stroke="#40e080" stroke-width="3.8" fill="none" opacity="0.4"/>
<path d="M283.7 2059.5L301.7 2069.9L323.1 2080.9L340.7 2087L353 2091.8L374.4 2091.8L414.7 2090.4L463.2 2089.9L505 2088L552 2084.7L581.9 2081.8L600.9 2079.4L628.4 2077.1L652.2 2074.7L667.4 2075.2L676.9 2077.5L695.8 2081.8L717.2 2083.2L733.8 2085.6L816.9 2090.4L890.3 2090.4L929.6 2092.2L1056.6 2097L1148.7 2097L1216.8 2097.4L1248.7 2098.7L1519.1 2102.8L1749.7 2103.8L1898.5 2103.3" stroke="#0a5c0a" stroke-width="1.8" fill="none"/>
<rect x="280.7" y="2056.5" width="6" height="6" fill="#14b8a0"/>
<rect x="282.5" y="2058.3" width="2.4" height="2.4" fill="#f03030"/>
<rect x="298.7" y="2066.9" width="6" height="6" fill="#14b8a0"/>
<rect x="300.5" y="2068.7" width="2.4" height="2.4" fill="#f03030"/>
<rect x="320.1" y="2077.9" width="6" height="6" fill="#14b8a0"/>
<rect x="321.9" y="2079.7" width="2.4" height="2.4" fill="#f03030"/>
<rect x="337.7" y="2084" width="6" height="6" fill="#14b8a0"/>
<rect x="339.5" y="2085.8" width="2.4" height="2.4" fill="#f03030"/>
<rect x="350" y="2088.8" width="6" height="6" fill="#14b8a0"/>
<rect x="351.8" y="2090.6" width="2.4" height="2.4" fill="#f03030"/>
<rect x="371.4" y="2088.8" width="6" height="6" fill="#14b8a0"/>
<rect x="373.2" y="2090.6" width="2.4" height="2.4" fill="#f03030"/>
<rect x="411.7" y="2087.4" width="6" height="6" fill="#14b8a0"/>
<rect x="413.5" y="2089.2" width="2.4" height="2.4" fill="#f03030"/>
<rect x="460.2" y="2086.9" width="6" height="6" fill="#14b8a0"/>
<rect x="462" y="2088.7" width="2.4" height="2.4" fill="#f03030"/>
<rect x="502" y="2085" width="6" height="6" fill="#14b8a0"/>
<rect x="503.8" y="2086.8" width="2.4" height="2.4" fill="#f03030"/>
<rect x="549" y="2081.7" width="6" height="6" fill="#14b8a0"/>
<rect x="550.8" y="2083.5" width="2.4" height="2.4" fill="#f03030"/>
<rect x="578.9" y="2078.8" width="6" height="6" fill="#14b8a0"/>
<rect x="580.7" y="2080.6" width="2.4" height="2.4" fill="#f03030"/>
<rect x="597.9" y="2076.4" width="6" height="6" fill="#14b8a0"/>
<rect x="599.7" y="2078.2" width="2.4" height="2.4" fill="#f03030"/>
<rect x="625.4" y="2074.1" width="6" height="6" fill="#14b8a0"/>
<rect x="627.2" y="2075.9" width="2.4" height="2.4" fill="#f03030"/>
<rect x="649.2" y="2071.7" width="6" height="6" fill="#14b8a0"/>
<rect x="651" y="2073.5" width="2.4" height="2.4" fill="#f03030"/>
<rect x="664.4" y="2072.2" width="6" height="6" fill="#14b8a0"/>
<rect x="666.2" y="2074" width="2.4" height="2.4" fill="#f03030"/>
<rect x="673.9" y="2074.5" width="6" height="6" fill="#14b8a0"/>
<rect x="675.7" y="2076.3" width="2.4" height="2.4" fill="#f03030"/>
<rect x="692.8" y="2078.8" width="6" height="6" fill="#14b8a0"/>
<rect x="694.6" y="2080.6" width="2.4" height="2.4" fill="#f03030"/>
<rect x="714.2" y="2080.2" width="6" height="6" fill="#14b8a0"/>
<rect x="716" y="2082" width="2.4" height="2.4" fill="#f03030"/>
<rect x="730.8" y="2082.6" width="6" height="6" fill="#14b8a0"/>
<rect x="732.6" y="2084.4" width="2.4" height="2.4" fill="#f03030"/>
<rect x="813.9" y="2087.4" width="6" height="6" fill="#14b8a0"/>
<rect x="815.7" y="2089.2" width="2.4" height="2.4" fill="#f03030"/>
<rect x="887.3" y="2087.4" width="6" height="6" fill="#14b8a0"/>
<rect x="889.1" y="2089.2" width="2.4" height="2.4" fill="#f03030"/>
<rect x="926.6" y="2089.2" width="6" height="6" fill="#14b8a0"/>
<rect x="928.4" y="2091" width="2.4" height="2.4" fill="#f03030"/>
<rect x="1053.6" y="2094" width="6" height="6" fill="#14b8a0"/>
<rect x="1055.4" y="2095.8" width="2.4" height="2.4" fill="#f03030"/>
<rect x="1145.7" y="2094" width="6" height="6" fill="#14b8a0"/>
<rect x="1147.5" y="2095.8" width="2.4" height="2.4" fill="#f03030"/>
<rect x="1213.8" y="2094.4" width="6" height="6" fill="#14b8a0"/>
<rect x="1215.6" y="2096.2" width="2.4" height="2.4" fill="#f03030"/>
<rect x="1245.7" y="2095.7" width="6" height="6" fill="#14b8a0"/>
<rect x="1247.5" y="2097.5" width="2.4" height="2.4" fill="#f03030"/>
<rect x="1516.1" y="2099.8" width="6" height="6" fill="#14b8a0"/>
<rect x="1517.9" y="2101.6" width="2.4" height="2.4" fill="#f03030"/>
<rect x="1746.7" y="2100.8" width="6" height="6" fill="#14b8a0"/>
<rect x="1748.5" y="2102.6" width="2.4" height="2.4" fill="#f03030"/>
<rect x="1895.5" y="2100.3" width="6" height="6" fill="#14b8a0"/>
<rect x="1897.3" y="2102.1" width="2.4" height="2.4" fill="#f03030"/>
<rect x="773.2" y="1735" width="1.8" height="376.8" fill="#ff2a2a"/>
<rect x="774.9" y="1735" width="1.8" height="376.8" fill="#ff8000"/>
<rect x="869.7" y="1372" width="1.8" height="739.8" fill="#ff2a2a"/>
<rect x="871.4" y="1372" width="1.8" height="739.8" fill="#ff8000"/>
<rect x="1171.6" y="1750" width="1.8" height="361.8" fill="#ff2a2a"/>
<rect x="1173.3" y="1750" width="1.8" height="361.8" fill="#ff8000"/>
<rect x="1356.9" y="2030" width="1.8" height="81.8" fill="#ff2a2a"/>
<rect x="1358.6" y="2030" width="1.8" height="81.8" fill="#ff8000"/>
<rect x="1413.9" y="2024" width="1.8" height="87.8" fill="#ff2a2a"/>
<rect x="1415.6" y="2024" width="1.8" height="87.8" fill="#ff8000"/>
<rect x="1629.3" y="2078" width="1.8" height="33.8" fill="#ff2a2a"/>
<rect x="1631" y="2078" width="1.8" height="33.8" fill="#ff8000"/>
<rect x="1780.7" y="2090" width="1.8" height="21.8" fill="#ff2a2a"/>
<rect x="1782.4" y="2090" width="1.8" height="21.8" fill="#ff8000"/>
<rect x="1829.6" y="2053" width="1.8" height="58.8" fill="#ff2a2a"/>
<rect x="1831.3" y="2053" width="1.8" height="58.8" fill="#ff8000"/>
<rect x="995.2" y="2094" width="5" height="17.8" fill="#7cf0a8"/>
<rect x="996.7" y="2094" width="2" height="17.8" fill="#0a64c8"/>
<rect x="1129" y="2096.5" width="5" height="15.3" fill="#7cf0a8"/>
<rect x="1130.5" y="2096.5" width="2" height="15.3" fill="#0a64c8"/>
<rect x="1564" y="2102" width="5" height="9.8" fill="#7cf0a8"/>
<rect x="1565.5" y="2102" width="2" height="9.8" fill="#0a64c8"/>
<rect x="1844.1" y="2103" width="5" height="8.8" fill="#7cf0a8"/>
<rect x="1845.6" y="2103" width="2" height="8.8" fill="#0a64c8"/>
<rect x="995.9" y="2133.5" width="3.6" height="15.7" fill="#50e0b0"/>
<rect x="1129.7" y="2133.5" width="3.6" height="15.7" fill="#50e0b0"/>
<rect x="1565" y="2133.5" width="3" height="15.7" fill="#50e0b0"/>
<rect x="1844.5" y="2133.5" width="3" height="15.7" fill="#50e0b0"/>
<rect x="773.5" y="2149.2" width="3" height="15.1" fill="#ff00ff"/>
<rect x="870" y="2149.2" width="3" height="15.1" fill="#ff00ff"/>
<rect x="1171.9" y="2149.2" width="3" height="15.1" fill="#ff00ff"/>
<rect x="1357.2" y="2149.2" width="3" height="15.1" fill="#ff00ff"/>
<rect x="1413.7" y="2149.2" width="3" height="15.1" fill="#ff00ff"/>
<rect x="1629.6" y="2149.2" width="3" height="15.1" fill="#ff00ff"/>
<rect x="1780" y="2149.2" width="3" height="15.1" fill="#ff00ff"/>
<rect x="1828.9" y="2149.2" width="3" height="15.1" fill="#ff00ff"/>
<path d="M284 2258H1897" stroke="#d8d8d8" stroke-width="1" stroke-dasharray="2 2"/>
<path d="M284 2252.1L285 2253.2L286 2254.7L287 2255.7L288 2253.1L289 2255.5L290 2253.3L291 2253.6L292 2253.6L293 2256.8L294 2255.7L295 2258.4L296 2257.6L297 2255.2L298 2255.3L299 2256.9L300 2253.7L301 2253.5L302 2254L303 2253.8L304 2253.8L305 2257L306 2255.6L307 2254.2L308 2253.6L309 2251.9L310 2254.9L311 2253.4L312 2259.7L313 2257L314 2254.4L315 2252.3L316 2252.7L317 2254.4L318 2253.4L319 2255.1L320 2255.8L321 2255.9L322 2255.8L323 2255L324 2253.6L325 2252.2L326 2251.2L327 2252.9L328 2255L329 2254.7L330 2252.9L331 2255.4L332 2253.1L333 2252.1L334 2251.9L335 2252.3L336 2253.4L337 2252L338 2251.1L339 2254L340 2254.8L341 2255.3L342 2256.1L343 2255L344 2257.4L345 2255.4L346 2254.7L347 2256.8L348 2256L349 2254.8L350 2254.6L351 2252.6L352 2254.8L353 2254.1L354 2254.9L355 2256.6L356 2256.3L357 2255.5L358 2255.4L359 2254.9L360 2257.2L361 2252.2L362 2253L363 2252.6L364 2254.3L365 2254L366 2254.4L367 2257.2L368 2255.6L369 2255.9L370 2254.1L371 2253L372 2252.1L373 2255.9L374 2253.3L375 2253.6L376 2258.1L377 2256.6L378 2255.5L379 2254.6L380 2252.9L381 2254.9L382 2256.6L383 2254.4L384 2254.1L385 2257.4L386 2255.3L387 2256.4L388 2259.4L389 2255.5L390 2255.4L391 2254.1L392 2251.5L393 2256.2L394 2256.7L395 2255.4L396 2255.9L397 2254.3L398 2252.3L399 2253.1L400 2253.1L401 2252.6L402 2255.7L403 2253.7L404 2252.8L405 2254.5L406 2255.6L407 2257.8L408 2256.4L409 2253.4L410 2253L411 2255.8L412 2254.2L413 2255.1L414 2257.6L415 2253.2L416 2251.7L417 2253.3L418 2254.3L419 2256.1L420 2252.5L421 2254.7L422 2254.1L423 2251.7L424 2253L425 2254.5L426 2257.1L427 2254.2L428 2255.2L429 2252.3L430 2255.1L431 2254.7L432 2256.7L433 2252.7L434 2251.8L435 2250.6L436 2256L437 2254.4L438 2251.4L439 2252.1L440 2255L441 2255.9L442 2255.9L443 2252.9L444 2253.5L445 2250.8L446 2250.5L447 2254.2L448 2256L449 2254.8L450 2251.8L451 2252.2L452 2253.4L453 2257.2L454 2254.9L455 2252.7L456 2252.4L457 2252.9L458 2253.4L459 2254.1L460 2258.3L461 2255.6L462 2252.3L463 2256L464 2254.7L465 2254.1L466 2254.1L467 2255.5L468 2255.8L469 2256.2L470 2255.2L471 2255.3L472 2253.7L473 2253.2L474 2253.8L475 2254.2L476 2252.4L477 2252.4L478 2256.7L479 2258.1L480 2259.3L481 2258.9L482 2258.3L483 2259.6L484 2258.3L485 2256.4L486 2255.7L487 2256.6L488 2256.7L489 2255.7L490 2255.1L491 2255.3L492 2254.1L493 2258.5L494 2257.4L495 2252.8L496 2255.8L497 2254.1L498 2254.6L499 2254.9L500 2256.4L501 2255.3L502 2255.3L503 2254.6L504 2258.4L505 2256L506 2254L507 2252.6L508 2254.2L509 2254.2L510 2255.2L511 2256L512 2253.8L513 2254.8L514 2253.6L515 2253.3L516 2252.9L517 2253.8L518 2253.2L519 2253.1L520 2253.3L521 2251.9L522 2255.7L523 2256L524 2254.5L525 2255.1L526 2253.4L527 2254.2L528 2252.3L529 2254L530 2254.9L531 2254.4L532 2256.2L533 2254.2L534 2255L535 2256L536 2256.3L537 2255.4L538 2258L539 2257.5L540 2257.3L541 2254.8L542 2255.1L543 2254.4L544 2258.2L545 2256.9L546 2254.7L547 2256.4L548 2257.6L549 2255L550 2255.5L551 2259.3L552 2256.5L553 2256.3L554 2260.8L555 2257.2L556 2254L557 2253.1L558 2254.8L559 2256.4L560 2254.5L561 2251.8L562 2255.2L563 2255.2L564 2254.6L565 2253.7L566 2256.7L567 2255.6L568 2253.1L569 2252.8L570 2253.6L571 2252.2L572 2252.8L573 2256L574 2256.7L575 2257.3L576 2257.5L577 2256.2L578 2255.8L579 2252.3L580 2255L581 2255.8L582 2255.7L583 2255.6L584 2253.4L585 2253.6L586 2251.7L587 2253L588 2253.6L589 2253.3L590 2256.1L591 2253.9L592 2255.1L593 2255.1L594 2254.8L595 2255.9L596 2256L597 2254.9L598 2257.1L599 2255.6L600 2256.4L601 2254L602 2253.3L603 2254.8L604 2258.9L605 2254.5L606 2252.9L607 2253.3L608 2253.8L609 2254.9L610 2257L611 2255.7L612 2256.8L613 2256.3L614 2255L615 2254.6L616 2255.9L617 2256L618 2258L619 2256.9L620 2255.8L621 2253.9L622 2253.8L623 2255.5L624 2256L625 2258.5L626 2255.5L627 2256.6L628 2255.8L629 2252.1L630 2252L631 2254.4L632 2254.4L633 2254L634 2256.6L635 2255.2L636 2255.6L637 2256.6L638 2255.2L639 2256.6L640 2254.2L641 2252.8L642 2256.2L643 2257.7L644 2257.2L645 2254.6L646 2254.5L647 2253.5L648 2253.1L649 2254.8L650 2254.2L651 2256.8L652 2253.1L653 2253.6L654 2252.7L655 2252L656 2257L657 2258.3L658 2256.8L659 2256.7L660 2256.8L661 2255.8L662 2250.2L663 2249.8L664 2254.4L665 2250.8L666 2256L667 2257L668 2256.5L669 2256.4L670 2257.1L671 2255.2L672 2258.4L673 2256.1L674 2254.2L675 2258.1L676 2256.4L677 2256.2L678 2257.4L679 2259.4L680 2256.2L681 2255.3L682 2252.7L683 2254.2L684 2257.6L685 2254.4L686 2252.9L687 2251.1L688 2251.2L689 2251.1L690 2253.6L691 2254.6L692 2251.4L693 2254.2L694 2256.5L695 2256.6L696 2254L697 2255.9L698 2254.2L699 2252.6L700 2251.7L701 2251.2L702 2253L703 2255.2L704 2251.7L705 2250.2L706 2255.1L707 2253.1L708 2257.7L709 2256.5L710 2253L711 2255.7L712 2256.6L713 2252.4L714 2253.6L715 2256.7L716 2252.8L717 2254.9L718 2255.3L719 2258.2L720 2258.4L721 2255.7L722 2252.9L723 2253.6L724 2254.6L725 2255L726 2254.7L727 2253.5L728 2256.8L729 2255.1L730 2253.9L731 2255.1L732 2255.2L733 2255.1L734 2257.2L735 2254.4L736 2255.5L737 2257L738 2255.1L739 2255.4L740 2256.3L741 2256.5L742 2255.4L743 2253L744 2252.7L745 2254.2L746 2254.2L747 2254.4L748 2254L749 2251.8L750 2254.8L751 2253.1L752 2257.2L753 2260.4L754 2258.1L755 2256.7L756 2254.7L757 2253.2L758 2253.2L759 2256.4L760 2256.3L761 2253.8L762 2257.3L763 2258L764 2261.4L765 2262.6L766 2262.5L766.1 2262.8L767 2262.2L768 2257.9L769 2257.6L770 2244.3L771 2236.4L772 2221.8L772.3 2217.7L773 2248.9L774 2292.5L775 2345.1L775.6 2378.8L776 2357.8L777 2311.2L777.3 2298.8L778 2286.4L779 2259.7L779.5 2244.8L780 2252.7L781 2276.8L782 2270.3L783 2260.7L783.9 2253.5L784 2252.2L785 2254.9L786 2254.1L787 2250.4L788 2249.8L789 2252.5L790 2250.7L791 2246.3L792 2247.8L793 2248.1L794 2244.1L795 2248L796 2250.8L797 2248.2L798 2246.7L799 2247L800 2246.8L801 2247.1L802 2247.9L802.9 2244.6L803 2245.8L804 2250.9L805 2250L806 2250.7L807 2252L808 2251.1L809 2250.3L810 2256.8L811 2256.2L812 2254L813 2256.5L814 2255.1L815 2253.5L816 2253.9L817 2252.5L818 2252.5L819 2255.9L820 2255.7L821 2255L822 2257.5L823 2257.2L824 2255.2L825 2252.4L826 2253L827 2256.2L828 2253.7L829 2258.2L830 2255.7L831 2252.9L832 2253.5L833 2256.6L834 2254.1L835 2255.1L836 2255.9L837 2253.8L838 2256.1L839 2257.5L840 2256.9L841 2251.5L842 2252.5L843 2252.9L844 2252.6L845 2253.6L846 2250.5L847 2248.5L848 2243.6L849 2242.9L849.2 2246.7L850 2245.5L851 2247.7L852 2247.2L853 2250.5L854 2251.7L855 2256.1L856 2257.7L857 2260L857.5 2257.8L858 2261.7L859 2269.1L860 2268.3L861 2276.1L862 2282.9L863 2290.4L864 2296.1L865 2263.7L866 2230.2L867 2197.7L867.6 2176.7L868 2191.5L869 2227.4L870 2266.5L870.6 2289.7L871 2248.5L871.5 2189.8L872 2135.3L873 2169.1L874 2203.8L875 2240L876 2273.4L876.5 2288.8L877 2286.2L878 2281L879 2273.5L880 2267.5L881 2257.1L882 2252.9L882.4 2248.6L883 2246.9L884 2249L885 2247L886 2249L887 2252.2L888 2249.4L889 2248L890 2250.8L891 2251.4L892 2251.9L893 2247.4L894 2247.9L895 2252.5L896 2249.9L897 2249.9L898 2251.3L899 2252.1L900 2251.8L901 2247.7L902 2251.8L903 2250.5L904 2254L905 2256.1L906 2253L907 2254L908 2257.3L909 2258.7L910 2258.4L911 2255.5L912 2256.3L913 2254.4L914 2257.9L915 2257.2L916 2258.7L917 2252.7L918 2254L919 2253.9L920 2254.4L921 2253.2L922 2255.5L923 2254.2L924 2258.4L925 2255.8L926 2254.9L927 2254.1L928 2256L929 2256.1L930 2254.2L931 2250L932 2253.1L933 2253.3L934 2255.1L935 2254.1L936 2255.6L937 2253.6L938 2255.2L939 2254.9L940 2256.8L941 2255.7L942 2256.7L943 2255.3L944 2254.7L945 2253.3L946 2252.2L947 2254.4L948 2254.7L949 2257.5L950 2256.3L951 2258.4L952 2259L953 2256.5L954 2253.2L955 2253.5L956 2255.6L957 2254.5L958 2256L959 2254.4L960 2254.5L961 2255.8L962 2255.9L963 2255.2L964 2254.7L965 2255.3L966 2254.3L967 2255.6L968 2253.3L969 2259L970 2256L971 2253.1L972 2250.7L973 2251.3L974 2253.5L975 2253L976 2255.7L977 2254.2L978 2252.4L979 2252.9L980 2252.8L981 2253.7L982 2252.2L983 2253.8L984 2251.4L985 2254.4L986 2254.6L987 2254.7L988 2253.6L989 2254.6L990 2255.4L991 2253.2L992 2257.7L993 2257.8L994 2259.5L995 2262.6L996 2259.5L997 2259.7L997.7 2260L998 2261.8L998.5 2260.8L999 2260.4L1000 2264L1001 2261.4L1002 2261.1L1003 2261.3L1004 2261.5L1005 2256.1L1006 2256.6L1007 2257.5L1008 2258.4L1009 2255.7L1010 2255.2L1011 2256L1012 2256L1013 2255.4L1014 2254.6L1015 2255.1L1016 2255L1017 2256L1018 2254.8L1019 2253.4L1020 2253.8L1021 2254.2L1022 2256.7L1023 2254.9L1024 2251.4L1025 2257.6L1026 2257.9L1027 2256.8L1028 2256.4L1029 2255.4L1030 2258L1031 2253.9L1032 2255.8L1033 2256.3L1034 2259.5L1035 2256L1036 2257.7L1037 2256.5L1038 2253.8L1039 2252.6L1040 2255.9L1041 2253L1042 2253.5L1043 2257L1044 2253.9L1045 2255.5L1046 2258.5L1047 2259.1L1048 2257.9L1049 2254.9L1050 2258.2L1051 2256.9L1052 2255.7L1053 2253.1L1054 2250.3L1055 2253.7L1056 2253.4L1057 2251.3L1058 2254.9L1059 2255.3L1060 2253.8L1061 2253.9L1062 2255.3L1063 2255.6L1064 2253.3L1065 2255.6L1066 2254.5L1067 2252.8L1068 2253.7L1069 2254.6L1070 2256.6L1071 2256.6L1072 2251.6L1073 2251.6L1074 2255L1075 2255.4L1076 2253.4L1077 2253.3L1078 2257L1079 2251.3L1080 2255.7L1081 2256.8L1082 2254.6L1083 2254.4L1084 2255.5L1085 2255.2L1086 2255.5L1087 2257L1088 2254.6L1089 2254.8L1090 2255.5L1091 2254.5L1092 2254.7L1093 2257.7L1094 2252.6L1095 2254.8L1096 2254.3L1097 2252.7L1098 2253.7L1099 2255L1100 2256.3L1101 2253.7L1102 2255.5L1103 2257.6L1104 2256.1L1105 2256.4L1106 2256.1L1107 2256.5L1108 2253.8L1109 2256.6L1110 2256.4L1111 2258.4L1112 2257.5L1113 2254.3L1114 2256.6L1115 2257.7L1116 2257.5L1117 2255.2L1118 2254.1L1119 2256.8L1120 2253.9L1121 2256L1122 2255.3L1123 2253.6L1124 2253.4L1125 2254.2L1126 2257L1127 2256.5L1128 2257.9L1129 2258.8L1130 2260.9L1130.7 2263L1131 2259L1131.5 2260.4L1132 2258.6L1133 2258L1134 2257.2L1135 2259.6L1136 2259.7L1137 2256.1L1138 2254.2L1139 2256.7L1140 2255.5L1141 2257.4L1142 2253.6L1143 2255.3L1144 2252.9L1145 2247.7L1146 2252L1147 2250.3L1148 2252.5L1149 2251.5L1150 2253.6L1151 2249.5L1152 2247.7L1153 2252.3L1154 2252.9L1155 2251.2L1156 2247.6L1157 2250.4L1158 2254L1159 2250.2L1160 2248.6L1161 2252.3L1162 2259L1163 2263.5L1164 2265.7L1164.7 2269.6L1165 2269.6L1166 2256.6L1167 2247.6L1168 2238.5L1169 2228L1169.6 2217.2L1170 2232.8L1171 2263.1L1171.6 2280.2L1172 2276.8L1173 2258.1L1173.4 2253.1L1174 2246.4L1174.8 2233.2L1175 2235.3L1176 2252.9L1176.8 2264.5L1177 2264.4L1178 2260.4L1179 2252.2L1180 2250.7L1181 2249.2L1182 2249L1183 2249.4L1184 2248.9L1185 2248.8L1186 2250.5L1187 2249.2L1188 2250.7L1189 2251.9L1190 2250.1L1191 2250.2L1192 2252.2L1193 2252.1L1194 2253.4L1195 2253.1L1196 2252.6L1197 2253.1L1198 2254.6L1199 2256.7L1200 2252.7L1201 2253.2L1202 2253.6L1203 2253.1L1204 2253.4L1205 2256.5L1206 2257L1207 2254.3L1208 2252L1209 2254.3L1210 2255.4L1211 2252.9L1212 2254.3L1213 2255.1L1214 2255.6L1215 2253.6L1216 2254.9L1217 2254.3L1218 2255.6L1219 2254.9L1220 2255.2L1221 2254.2L1222 2253.5L1223 2253.8L1224 2255.2L1225 2253.3L1226 2254L1227 2257.6L1228 2253.7L1229 2251.4L1230 2251.2L1231 2252.2L1232 2253L1233 2249.9L1234 2249.2L1235 2253.5L1236 2251.7L1237 2254.4L1238 2256.5L1239 2249.9L1240 2253.8L1241 2254.4L1242 2253.8L1243 2254.8L1244 2254.3L1245 2255.1L1246 2257.9L1247 2256.3L1248 2253L1249 2256.3L1250 2257L1251 2257.9L1252 2256.3L1253 2256.7L1254 2258.9L1255 2256.2L1256 2254.1L1257 2256.9L1258 2254.9L1259 2256.9L1260 2254.7L1261 2254L1262 2254.9L1263 2255.2L1264 2253.3L1265 2256.9L1266 2254.6L1267 2255.8L1268 2253.5L1269 2253.2L1270 2253.2L1271 2254.5L1272 2254.9L1273 2254.8L1274 2254.7L1275 2256.2L1276 2256.5L1277 2254.4L1278 2254.5L1279 2255.3L1280 2256.1L1281 2255.7L1282 2254.4L1283 2253.9L1284 2254.6L1285 2255.5L1286 2253.3L1287 2252.6L1288 2253.5L1289 2254.2L1290 2253.3L1291 2253.1L1292 2252.4L1293 2254.4L1294 2250.6L1295 2252.7L1296 2252.2L1297 2253.2L1298 2253.7L1299 2248.4L1300 2253.6L1301 2254.7L1302 2256.5L1303 2255.7L1304 2255.7L1305 2255.1L1306 2256.7L1307 2252.3L1308 2253L1309 2251.8L1310 2254.6L1311 2254.4L1312 2256.8L1313 2255.3L1314 2254.1L1315 2253.6L1316 2252.5L1317 2249.9L1318 2252.4L1319 2252.5L1320 2252.3L1321 2251.6L1322 2253.1L1323 2251.9L1324 2253.6L1325 2253.3L1326 2252.9L1327 2250.9L1328 2253.3L1329 2255.4L1330 2254.3L1331 2253.2L1332 2254.8L1333 2255.5L1334 2254L1335 2258.5L1336 2257.6L1337 2257.8L1338 2256.1L1339 2255.5L1340 2252.6L1341 2252.9L1342 2253.5L1343 2254.9L1344 2253.3L1345 2252.2L1346 2256L1347 2256.5L1348 2258.3L1349 2258.1L1350 2257.2L1351 2258.5L1352 2255.2L1353 2260.3L1354 2262L1355 2264.2L1356 2263.1L1357 2266.8L1358 2267.2L1358.7 2262.8L1359 2260.9L1360 2262.3L1361 2259.7L1362 2260.2L1363 2259.8L1364 2258.6L1365 2260.6L1366 2259L1367 2257.8L1368 2256.1L1369 2259.4L1370 2257.3L1371 2253.7L1372 2254.7L1373 2252.8L1374 2253L1375 2253.4L1376 2251.3L1377 2249.8L1378 2250.1L1379 2253.5L1380 2249L1381 2253.4L1382 2250.2L1383 2251.3L1384 2252.1L1385 2254.3L1386 2253.7L1387 2251.9L1388 2252L1389 2253.4L1390 2255.2L1391 2254.4L1392 2253.4L1393 2252.8L1394 2255.6L1395 2252.5L1396 2252.4L1397 2253.8L1398 2255.6L1399 2251.3L1400 2254.4L1401 2255.9L1402 2254.7L1403 2250.6L1404 2251.2L1405 2252.4L1406 2253.5L1407 2251.4L1408 2252.2L1409 2254.2L1410 2252.9L1411 2251.2L1412 2249.1L1413 2245.7L1414 2250.4L1415 2254.2L1415.7 2258.4L1416 2257.5L1417 2259.3L1417.7 2262.5L1418 2261.6L1419 2261.5L1420 2258.2L1421 2253.8L1422 2254.5L1423 2254.2L1424 2254.4L1425 2254.9L1426 2256.3L1427 2253.5L1428 2255.1L1429 2255L1430 2254.8L1431 2254.3L1432 2253.5L1433 2254.3L1434 2254.4L1435 2255.4L1436 2256.9L1437 2253L1438 2256.6L1439 2256.3L1440 2252.5L1441 2252.7L1442 2253.2L1443 2255.4L1444 2252.5L1445 2256L1446 2252.4L1447 2252.6L1448 2251.9L1449 2250.6L1450 2250.3L1451 2251.2L1452 2252L1453 2251.9L1454 2251.2L1455 2248L1456 2250.7L1457 2255.3L1458 2256.4L1459 2255.9L1460 2253.2L1461 2253.6L1462 2251.9L1463 2251.7L1464 2252.6L1465 2254.2L1466 2251.9L1467 2251L1468 2251.8L1469 2249.5L1470 2252.9L1471 2254.4L1472 2255.2L1473 2255.2L1474 2252.6L1475 2252.4L1476 2251.6L1477 2253.3L1478 2257.1L1479 2253.1L1480 2254.4L1481 2256.1L1482 2252.7L1483 2256.6L1484 2253.5L1485 2253.2L1486 2254.4L1487 2255.4L1488 2255.7L1489 2253.8L1490 2252.7L1491 2249.4L1492 2251.3L1493 2254.9L1494 2252.6L1495 2254.4L1496 2255.1L1497 2254.4L1498 2252.9L1499 2252.4L1500 2253.1L1501 2250.5L1502 2255.1L1503 2252.5L1504 2252.4L1505 2252.3L1506 2253.1L1507 2254.4L1508 2256.2L1509 2255.2L1510 2257L1511 2254.4L1512 2255.5L1513 2255.9L1514 2255.1L1515 2255.5L1516 2252.8L1517 2255.8L1518 2256.1L1519 2254.9L1520 2253.9L1521 2255.6L1522 2252.6L1523 2254.8L1524 2255.9L1525 2259.1L1526 2255.6L1527 2256.9L1528 2256L1529 2252.2L1530 2251.2L1531 2252.2L1532 2255.6L1533 2257.4L1534 2255L1535 2255.4L1536 2255.3L1537 2250.7L1538 2255.2L1539 2257.3L1540 2251.9L1541 2252.3L1542 2253.6L1543 2254.3L1544 2256.5L1545 2257.5L1546 2254.8L1547 2255.9L1548 2254.1L1549 2254.1L1550 2255L1551 2255.7L1552 2254L1553 2257.5L1554 2255.6L1555 2254.8L1556 2255.7L1557 2253.7L1558 2254.5L1559 2250.1L1560 2249.7L1561 2251.6L1562 2252.4L1563 2252.7L1564 2252.4L1565 2254.2L1566 2256L1566.5 2253.6L1567 2255.5L1568 2255L1569 2252L1570 2250.7L1571 2252.5L1572 2254.9L1573 2252.5L1574 2249.5L1575 2253.7L1576 2255.5L1577 2253.8L1578 2255.4L1579 2257.5L1580 2253.2L1581 2252.6L1582 2252.3L1583 2254.6L1584 2252.2L1585 2252.2L1586 2255.1L1587 2255.7L1588 2256L1589 2253L1590 2254.3L1591 2252.8L1592 2254.8L1593 2254.8L1594 2255.2L1595 2253.8L1596 2253.7L1597 2254.2L1598 2253.4L1599 2254.3L1600 2252.3L1601 2251.4L1602 2250L1603 2252.2L1604 2254.7L1605 2254.8L1606 2251L1607 2253.5L1608 2253.9L1609 2253.8L1610 2254.5L1611 2255.4L1612 2256.7L1613 2256.8L1614 2258.1L1615 2256.3L1616 2253.7L1617 2256.1L1618 2252.7L1619 2254.9L1620 2252.7L1621 2252.7L1622 2255.8L1623 2253.9L1624 2256.3L1625 2255.5L1626 2253.5L1627 2253.8L1628 2253.1L1629 2251.4L1630 2252.1L1631 2256.3L1631.1 2255.4L1632 2257.5L1633 2260.5L1634 2258.8L1635 2258.4L1636 2257.4L1637 2256.5L1638 2255.1L1639 2257.2L1640 2254.8L1641 2254.1L1642 2252.3L1643 2249.9L1644 2254.2L1645 2255.2L1646 2257.1L1647 2252.8L1648 2252.5L1649 2252.7L1650 2257L1651 2256.9L1652 2254.9L1653 2254.7L1654 2255.3L1655 2253.1L1656 2254.6L1657 2253L1658 2254.3L1659 2255.7L1660 2255.5L1661 2253.6L1662 2253.4L1663 2255.1L1664 2253.5L1665 2251.2L1666 2252.2L1667 2252.1L1668 2252.6L1669 2253L1670 2252.6L1671 2252.5L1672 2254.6L1673 2255L1674 2256L1675 2254.6L1676 2253.7L1677 2254.5L1678 2251.8L1679 2251.4L1680 2254.2L1681 2253.3L1682 2252.8L1683 2251.9L1684 2254L1685 2251.8L1686 2255.3L1687 2254.7L1688 2251.3L1689 2252L1690 2251.5L1691 2253.9L1692 2254.7L1693 2253.3L1694 2252.3L1695 2253.6L1696 2252.6L1697 2255.3L1698 2253L1699 2254L1700 2250.5L1701 2253.2L1702 2252.9L1703 2254.1L1704 2255.9L1705 2254.3L1706 2249.8L1707 2248.8L1708 2251.8L1709 2251.3L1710 2250.6L1711 2254L1712 2253.1L1713 2254.8L1714 2255.2L1715 2253.2L1716 2253.4L1717 2251.3L1718 2253.2L1719 2253.1L1720 2255.7L1721 2255.3L1722 2253.5L1723 2252L1724 2252.6L1725 2253.5L1726 2254.9L1727 2256L1728 2252.5L1729 2251.7L1730 2253.5L1731 2251.8L1732 2253L1733 2250.5L1734 2252L1735 2252.6L1736 2252.8L1737 2252.3L1738 2254L1739 2255.1L1740 2255.4L1741 2253.8L1742 2253L1743 2252.1L1744 2251.8L1745 2252.9L1746 2253.3L1747 2253.7L1748 2254.7L1749 2256.1L1750 2254.3L1751 2254.3L1752 2255.5L1753 2255.3L1754 2253.7L1755 2252.6L1756 2255L1757 2253.1L1758 2254.9L1759 2253.3L1760 2257.6L1761 2254.3L1762 2257.8L1763 2257.4L1764 2258.3L1765 2258.3L1766 2257.1L1767 2255.3L1768 2259.3L1769 2256L1770 2255.8L1771 2253.1L1772 2254.4L1773 2255.8L1774 2254.3L1775 2254.9L1776 2254.4L1777 2254.3L1778 2255.9L1779 2257L1780 2254.7L1781 2252.1L1782 2254.7L1782.5 2253.1L1783 2253.6L1784 2253.1L1785 2256L1786 2258.7L1787 2255.3L1788 2258.5L1789 2256.2L1790 2254.4L1791 2256.1L1792 2257.9L1793 2255.1L1794 2253.9L1795 2257.2L1796 2256.5L1797 2250.3L1798 2252.3L1799 2252L1800 2252.2L1801 2253.5L1802 2252.7L1803 2252.4L1804 2256.4L1805 2251.8L1806 2253.1L1807 2254.4L1808 2251.3L1809 2250.7L1810 2250.6L1811 2253.9L1812 2252L1813 2253.7L1814 2251.5L1815 2250.6L1816 2253.1L1817 2254.6L1818 2251.4L1819 2250.8L1820 2252.7L1821 2251.3L1822 2250.6L1823 2250.5L1824 2252.7L1825 2247L1826 2251.2L1827 2251.3L1828 2249.8L1829 2245.9L1830 2248.5L1831 2254.2L1831.4 2253.6L1832 2260.4L1833 2261.7L1834 2261.5L1835 2259.5L1836 2255.5L1837 2253.2L1838 2252.2L1839 2253.4L1840 2254.8L1841 2254.2L1842 2253.5L1843 2253.8L1844 2255.8L1845 2255.8L1846 2256.1L1846.6 2254.2L1847 2253.8L1848 2255.1L1849 2254L1850 2253.1L1851 2256.3L1852 2255.4L1853 2255.4L1854 2253.8L1855 2254.9L1856 2256.3L1857 2255.7L1858 2252.7L1859 2253.5L1860 2255.3L1861 2255.6L1862 2256.8L1863 2255.2L1864 2254.9L1865 2256.6L1866 2255.7L1867 2256.7L1868 2252.9L1869 2252.8L1870 2255.9L1871 2256.8L1872 2257.1L1873 2257.5L1874 2257.7L1875 2254L1876 2257.1L1877 2257L1878 2253.4L1879 2252L1880 2254.5L1881 2253.7L1882 2255.3L1883 2254.9L1884 2252.8L1885 2253.3L1886 2254L1887 2254.9L1888 2256.8L1889 2255.1L1890 2256.4L1891 2255.6L1892 2255.4L1893 2251.8L1894 2253.5L1895 2252.5L1896 2255.6L1897 2257.6" stroke="#ff0000" stroke-width="2" fill="none" stroke-linejoin="round"/>
<path d="M872.7 1330.4L876 1329.1L879.7 1330.8L880.2 1334.2L882.6 1333.5L887.2 1333.7L888 1335.8L886.8 1338L882.6 1338.7L880 1340.3L881.8 1342.8L882.3 1345.3L879.4 1348.2L874.8 1348.2L872.7 1345.7L871.1 1343.7L868.6 1343.7L865.7 1346.5L862.3 1348.2L858.6 1347.8L856.6 1345.3L857.4 1342.8L860.7 1340.8L863.9 1338.9L862.3 1335.8L862 1332.5L864 1331.6L867.7 1332.1L871.1 1332Z" fill="#ff8000" stroke="#ff8000" stroke-width="1.5" stroke-linejoin="round"/>
<path d="M781.7 1641.3L785 1640L788.7 1641.7L789.2 1645.1L791.6 1644.4L796.2 1644.6L797 1646.7L795.8 1648.9L791.6 1649.6L789 1651.2L790.8 1653.7L791.3 1656.2L788.4 1659.1L783.8 1659.1L781.7 1656.6L780.1 1654.6L777.6 1654.6L774.7 1657.4L771.3 1659.1L767.6 1658.7L765.6 1656.2L766.4 1653.7L769.7 1651.7L772.9 1649.8L771.3 1646.7L771 1643.4L773 1642.5L776.7 1643L780.1 1642.9Z" fill="#ff8000" stroke="#ff8000" stroke-width="1.5" stroke-linejoin="round"/>
<path d="M1176 1717.5L1179.3 1716.2L1183 1717.9L1183.5 1721.3L1185.9 1720.6L1190.5 1720.8L1191.3 1722.9L1190.1 1725.1L1185.9 1725.8L1183.3 1727.4L1185.1 1729.9L1185.6 1732.4L1182.7 1735.3L1178.1 1735.3L1176 1732.8L1174.4 1730.8L1171.9 1730.8L1169 1733.6L1165.6 1735.3L1161.9 1734.9L1159.9 1732.4L1160.7 1729.9L1164 1727.9L1167.2 1726L1165.6 1722.9L1165.3 1719.6L1167.3 1718.7L1171 1719.2L1174.4 1719.1Z" fill="#ff8000" stroke="#ff8000" stroke-width="1.5" stroke-linejoin="round"/>
<path d="M1359.1 1980.8L1362.4 1979.5L1366.1 1981.2L1366.6 1984.6L1369 1983.9L1373.6 1984.1L1374.4 1986.2L1373.2 1988.4L1369 1989.1L1366.4 1990.7L1368.2 1993.2L1368.7 1995.7L1365.8 1998.6L1361.2 1998.6L1359.1 1996.1L1357.5 1994.1L1355 1994.1L1352.1 1996.9L1348.7 1998.6L1345 1998.2L1343 1995.7L1343.8 1993.2L1347.1 1991.2L1350.3 1989.3L1348.7 1986.2L1348.4 1982.9L1350.4 1982L1354.1 1982.5L1357.5 1982.4Z" fill="#ff8000" stroke="#ff8000" stroke-width="1.5" stroke-linejoin="round"/>
<path d="M1418.6 1990.9L1421.9 1989.6L1425.6 1991.3L1426.1 1994.8L1428.5 1994L1433.1 1994.2L1433.9 1996.3L1432.7 1998.5L1428.5 1999.2L1425.9 2000.8L1427.7 2003.3L1428.2 2005.8L1425.3 2008.7L1420.7 2008.7L1418.6 2006.2L1417 2004.2L1414.5 2004.2L1411.6 2007L1408.2 2008.7L1404.5 2008.3L1402.5 2005.8L1403.3 2003.3L1406.6 2001.3L1409.8 1999.4L1408.2 1996.3L1407.9 1993L1409.9 1992.1L1413.6 1992.6L1417 1992.5Z" fill="#ff8000" stroke="#ff8000" stroke-width="1.5" stroke-linejoin="round"/>
<path d="M1632.4 2048.9L1635.7 2047.6L1639.4 2049.3L1639.9 2052.8L1642.3 2052L1646.9 2052.2L1647.7 2054.3L1646.5 2056.5L1642.3 2057.2L1639.7 2058.8L1641.5 2061.3L1642 2063.8L1639.1 2066.7L1634.5 2066.7L1632.4 2064.2L1630.8 2062.2L1628.3 2062.2L1625.4 2065L1622 2066.7L1618.3 2066.3L1616.3 2063.8L1617.1 2061.3L1620.4 2059.3L1623.6 2057.4L1622 2054.3L1621.7 2051L1623.7 2050.1L1627.4 2050.6L1630.8 2050.5Z" fill="#ff8000" stroke="#ff8000" stroke-width="1.5" stroke-linejoin="round"/>
<path d="M1783.9 2058.5L1787.2 2057.2L1790.9 2058.9L1791.4 2062.3L1793.8 2061.6L1798.4 2061.8L1799.2 2063.9L1798 2066.1L1793.8 2066.8L1791.2 2068.4L1793 2070.9L1793.5 2073.4L1790.6 2076.3L1786 2076.3L1783.9 2073.8L1782.3 2071.8L1779.8 2071.8L1776.9 2074.6L1773.5 2076.3L1769.8 2075.9L1767.8 2073.4L1768.6 2070.9L1771.9 2068.9L1775.1 2067L1773.5 2063.9L1773.2 2060.6L1775.2 2059.7L1778.9 2060.2L1782.3 2060.1Z" fill="#ff8000" stroke="#ff8000" stroke-width="1.5" stroke-linejoin="round"/>
<path d="M1833.4 2021.1L1836.7 2019.8L1840.4 2021.5L1840.9 2024.9L1843.3 2024.2L1847.9 2024.4L1848.7 2026.5L1847.5 2028.7L1843.3 2029.4L1840.7 2031L1842.5 2033.5L1843 2036L1840.1 2038.9L1835.5 2038.9L1833.4 2036.4L1831.8 2034.4L1829.3 2034.4L1826.4 2037.2L1823 2038.9L1819.3 2038.5L1817.3 2036L1818.1 2033.5L1821.4 2031.5L1824.6 2029.6L1823 2026.5L1822.7 2023.2L1824.7 2022.3L1828.4 2022.8L1831.8 2022.7Z" fill="#ff8000" stroke="#ff8000" stroke-width="1.5" stroke-linejoin="round"/>
<path d="M999.2 2056.6L1002.5 2055.3L1006.2 2057L1006.7 2060.4L1009.1 2059.7L1013.7 2059.9L1014.5 2062L1013.3 2064.2L1009.1 2064.9L1006.5 2066.5L1008.3 2069L1008.8 2071.5L1005.9 2074.4L1001.3 2074.4L999.2 2071.9L997.6 2069.9L995.1 2069.9L992.2 2072.7L988.8 2074.4L985.1 2074L983.1 2071.5L983.9 2069L987.2 2067L990.4 2065.1L988.8 2062L988.5 2058.7L990.5 2057.8L994.2 2058.3L997.6 2058.2Z" fill="#00a8ec" stroke="#00a8ec" stroke-width="1.5" stroke-linejoin="round"/>
</g>
<path d="M307.1 2401.2v8M328.6 2401.2v8M350.2 2401.2v8M371.7 2401.2v8M393.3 2401.2v16M414.9 2401.2v8M436.4 2401.2v8M458 2401.2v8M479.5 2401.2v8M501.1 2401.2v8M522.7 2401.2v8M544.2 2401.2v8M565.8 2401.2v8M587.3 2401.2v8M608.9 2401.2v16M630.5 2401.2v8M652 2401.2v8M673.6 2401.2v8M695.1 2401.2v8M716.7 2401.2v8M738.3 2401.2v8M759.8 2401.2v8M781.4 2401.2v8M802.9 2401.2v8M824.5 2401.2v16M846.1 2401.2v8M867.6 2401.2v8M889.2 2401.2v8M910.7 2401.2v8M932.3 2401.2v8M953.9 2401.2v8M975.4 2401.2v8M997 2401.2v8M1018.5 2401.2v8M1040.1 2401.2v16M1061.7 2401.2v8M1083.2 2401.2v8M1104.8 2401.2v8M1126.3 2401.2v8M1147.9 2401.2v8M1169.5 2401.2v8M1191 2401.2v8M1212.6 2401.2v8M1234.1 2401.2v8M1255.7 2401.2v16M1277.3 2401.2v8M1298.8 2401.2v8M1320.4 2401.2v8M1341.9 2401.2v8M1363.5 2401.2v8M1385.1 2401.2v8M1406.6 2401.2v8M1428.2 2401.2v8M1449.7 2401.2v8M1471.3 2401.2v16M1492.9 2401.2v8M1514.4 2401.2v8M1536 2401.2v8M1557.5 2401.2v8M1579.1 2401.2v8M1600.7 2401.2v8M1622.2 2401.2v8M1643.8 2401.2v8M1665.3 2401.2v8M1686.9 2401.2v16M1708.5 2401.2v8M1730 2401.2v8M1751.6 2401.2v8M1773.1 2401.2v8M1794.7 2401.2v8M1816.3 2401.2v8M1837.8 2401.2v8M1859.4 2401.2v8M1880.9 2401.2v8" stroke="#222" stroke-width="2.8" fill="none"/>
<rect x="264.5" y="1413.8" width="19.5" height="2.2" fill="#222"/>
<text transform="translate(256 1429.3) scale(1 1.090)" font-size="37.2" text-anchor="end">20,000</text>
<rect x="264.5" y="1762.6" width="19.5" height="2.2" fill="#222"/>
<text transform="translate(256 1778.1) scale(1 1.090)" font-size="37.2" text-anchor="end">10,000</text>
<rect x="264.5" y="2110.7" width="19.5" height="2.2" fill="#222"/>
<text transform="translate(256 2126.2) scale(1 1.090)" font-size="37.2" text-anchor="end">0</text>
<rect x="281.9" y="1323.5" width="4.2" height="1079.8" fill="#0a0a0a"/>
<rect x="281.9" y="2399.1" width="1620.1" height="4.2" fill="#0a0a0a"/>
<rect x="1899" y="1323.5" width="3" height="1079.8" fill="#0a0a0a"/>
<rect x="281.9" y="1323.5" width="1620.1" height="3" fill="#0a0a0a"/>
<text transform="translate(394.1 2463.4) scale(1 1.080)" font-size="48.8" text-anchor="middle">10</text>
<text transform="translate(606.2 2463.4) scale(1 1.080)" font-size="48.8" text-anchor="middle">20</text>
<text transform="translate(819 2463.4) scale(1 1.080)" font-size="48.8" text-anchor="middle">30</text>
<text transform="translate(1030.8 2463.4) scale(1 1.080)" font-size="48.8" text-anchor="middle">40</text>
<text transform="translate(1259.3 2463.4) scale(1 1.080)" font-size="48.8" text-anchor="middle">50</text>
<text transform="translate(1470.5 2463.4) scale(1 1.080)" font-size="48.8" text-anchor="middle">60</text>
<text transform="translate(1685.7 2463.4) scale(1 1.080)" font-size="48.8" text-anchor="middle">70</text>
<text x="1116.3" y="2535" font-size="63.3" text-anchor="middle">Position [2<tspan font-family="Liberation Serif,serif">&#952;</tspan>] (Cu)</text>
<text transform="translate(120.1 1745) rotate(-90)" font-size="51.3" text-anchor="middle">[cts]</text>
<text x="211.7" y="1368" font-size="64.5" text-anchor="start">b)</text>
<text transform="translate(1875.7 1405.4) scale(1 1.040)" font-size="70" text-anchor="end">Ag/SiO<tspan font-size="43" dy="24" dx="-1.2">2</tspan><tspan dy="-24" dx="-1">@CMC</tspan></text>
<rect x="300.7" y="1363.6" width="46.6" height="46.1" fill="#0099ff" stroke="#30d8a0" stroke-width="1.5"/>
<text transform="translate(369.6 1404) scale(1 1.045)" font-size="53" text-anchor="start">Ag</text>
<rect x="300.7" y="1432.4" width="46.6" height="47.6" fill="#ff8000" stroke="#ff5090" stroke-width="1.5"/>
<text transform="translate(369.6 1474.2) scale(1 1.045)" font-size="53" text-anchor="start">AgCl</text>
<clipPath id="cc"><rect x="284" y="2592.7" width="1616.5" height="1003.6"/></clipPath>
<g clip-path="url(#cc)">
<path d="M284 3261.2L285 3262.5L286 3263.6L287 3264L288 3265.4L289 3270.1L290 3272.8L291 3272.9L292 3271.9L293 3272.9L294 3275.2L295 3278.4L296 3277.4L297 3276.8L298 3278L299 3280.7L300 3283.5L301 3287.2L302 3283L303 3284.7L304 3287.6L305 3286.6L306 3288.5L307 3287.7L308 3290.9L309 3295.3L310 3298.9L311 3296.1L312 3296.8L313 3300.2L314 3301.1L315 3301.5L316 3302.3L317 3301.7L318 3300.6L319 3302L320 3305.2L321 3305.3L322 3307.5L323 3308.8L324 3309L325 3310.1L326 3307.2L327 3308.3L328 3311.2L329 3311.1L330 3310.3L331 3312.5L332 3311.8L333 3316.3L334 3317.3L335 3317L336 3318.7L337 3318.1L338 3321.5L339 3319.3L340 3322.9L341 3322.2L342 3322.7L343 3321.9L344 3322.9L345 3325.3L346 3325.4L347 3325.5L348 3330.3L349 3326.9L350 3326.8L351 3326.2L352 3325.2L353 3328.6L354 3329.9L355 3328.2L356 3326.8L357 3329.7L358 3328.2L359 3332.7L360 3333.5L361 3332L362 3330.1L363 3330.9L364 3327.2L365 3330.4L366 3333.1L367 3328.1L368 3328.7L369 3331.1L370 3330.4L371 3329.5L372 3332.6L373 3331.6L374 3332.5L375 3330L376 3330.2L377 3327.8L378 3326.3L379 3327L380 3329.9L381 3332.2L382 3328.8L383 3332L384 3329.6L385 3327.5L386 3329.9L387 3331L388 3329.6L389 3330.5L390 3331.5L391 3332L392 3330.4L393 3329.3L394 3335.9L395 3333.6L396 3329.9L397 3331.1L398 3331.8L399 3332.1L400 3327.7L401 3328.5L402 3330.2L403 3331.6L404 3332.6L405 3330.8L406 3328L407 3332.7L408 3328.2L409 3328.6L410 3330.7L411 3328.9L412 3331.2L413 3330.2L414 3330.2L415 3331.2L416 3329.4L417 3325.3L418 3328.5L419 3328.9L420 3328.1L421 3327.8L422 3326L423 3324.7L424 3327L425 3324.8L426 3327.1L427 3325.4L428 3324.7L429 3323.2L430 3323.6L431 3324.8L432 3325.1L433 3325.4L434 3326.3L435 3324.5L436 3324.5L437 3323.2L438 3325.7L439 3326.8L440 3326.2L441 3328.2L442 3324.5L443 3322.9L444 3323.5L445 3328.5L446 3326.7L447 3325.9L448 3324.8L449 3326.3L450 3326L451 3327.2L452 3326.6L453 3327.9L454 3322L455 3322.6L456 3323.6L457 3321.2L458 3321.8L459 3325.1L460 3325.5L461 3326.9L462 3323.2L463 3326.3L464 3323.8L465 3325.4L466 3323.8L467 3326.2L468 3325.3L469 3323.8L470 3323.3L471 3324.1L472 3327.5L473 3323.6L474 3325.7L475 3325L476 3325.1L477 3325.6L478 3326.1L479 3324.2L480 3323.3L481 3322.1L482 3324.5L483 3326.1L484 3326.5L485 3325.2L486 3324.1L487 3322.3L488 3323.7L489 3322.6L490 3321.5L491 3321.1L492 3319.9L493 3322.2L494 3322.4L495 3325.3L496 3323.1L497 3328L498 3325L499 3322.7L500 3324L501 3322.1L502 3324.4L503 3321.4L504 3319.4L505 3325.7L506 3324.3L507 3323.3L508 3321L509 3319.9L510 3320L511 3321L512 3321.1L513 3317.2L514 3321.3L515 3321.6L516 3322.5L517 3318.1L518 3318.3L519 3317.7L520 3318.2L521 3314.9L522 3318.7L523 3317.3L524 3312.4L525 3316.7L526 3315.2L527 3318.3L528 3313.7L529 3314.5L530 3312.8L531 3315.9L532 3313.5L533 3312.4L534 3312.7L535 3312.5L536 3315.9L537 3313.9L538 3313.2L539 3313.7L540 3313.8L541 3313.8L542 3312.5L543 3311.9L544 3311.6L545 3312.1L546 3312L547 3314.4L548 3310.3L549 3308.6L550 3310.3L551 3311L552 3312.6L553 3312.2L554 3311.6L555 3314.2L556 3313L557 3308.9L558 3309.7L559 3307.3L560 3308.3L561 3307.4L562 3307L563 3305.9L564 3307L565 3307.9L566 3308.2L567 3307.6L568 3306.7L569 3306.9L570 3308.4L571 3304.8L572 3302.2L573 3303.5L574 3303.6L575 3306L576 3306.8L577 3307.6L578 3302.3L579 3304.5L580 3306.3L581 3305.1L582 3306L583 3304.9L584 3302.2L585 3303.4L586 3301.6L587 3296.3L588 3296.5L589 3288.8L590 3277.8L591 3258.8L591.5 3256.7L592 3263L593 3277.5L594 3285.4L595 3290.6L596 3297.2L597 3296.6L598 3298.2L599 3301.1L600 3299.2L601 3298.3L602 3300.6L603 3294.2L604 3296.7L605 3297.5L606 3298.2L607 3298.1L608 3296.5L609 3294.5L610 3298.4L611 3298.5L612 3293.7L613 3293.3L614 3296.3L615 3296.6L616 3293.9L617 3291.6L618 3290.1L619 3292.7L620 3293.5L621 3294.2L622 3292.6L623 3296.4L624 3293.6L625 3293.7L626 3294.2L627 3293.9L628 3291.8L629 3292L630 3292.7L631 3289.4L632 3292.8L633 3298.3L634 3294L635 3292.5L636 3293.4L637 3292.2L638 3290.7L639 3292.1L640 3291.5L641 3291.3L642 3293.7L643 3293.5L644 3293.7L645 3295.3L646 3294.4L647 3294.5L648 3292.8L649 3293.6L650 3295.3L651 3291.8L652 3291.9L653 3289.4L654 3290.1L655 3290.6L656 3291.9L657 3290.7L658 3293.6L659 3294.8L660 3293.9L661 3296.3L662 3291.2L663 3287.8L664 3289.2L665 3289L666 3288.8L667 3289.6L668 3291.8L669 3294L670 3291.7L671 3293.2L672 3292L673 3292.3L674 3295.1L675 3293.7L676 3294.3L677 3294.4L678 3292.5L679 3295.7L680 3299.9L681 3297.1L682 3298.2L683 3299.6L684 3298.3L685 3298L686 3297.1L687 3295.3L688 3296.5L689 3299.3L690 3300.8L691 3298.4L692 3302.7L693 3298.1L694 3297.7L695 3300.2L696 3298.9L697 3300.1L698 3302.5L699 3300.4L700 3299.5L701 3303L702 3306.1L703 3304.3L704 3306.3L705 3301.6L706 3301.9L707 3305.9L708 3306.6L709 3305.6L710 3303.6L711 3301.9L712 3306.6L713 3308.5L714 3307.7L715 3308.5L716 3307.7L717 3306.8L718 3306.2L719 3306.3L720 3306.1L721 3310.3L722 3310.1L723 3309.6L724 3312.1L725 3311.7L726 3310.8L727 3310.7L728 3311.4L729 3309.4L730 3310.4L731 3308.5L732 3308.7L733 3309.8L734 3309.2L735 3310.9L736 3311.5L737 3314.6L738 3312.1L739 3312.2L740 3309.8L741 3310L742 3310.2L743 3311.8L744 3310.6L745 3309L746 3306.9L747 3306.8L748 3307.5L749 3302.3L750 3304.1L751 3300.8L752 3296L753 3295.3L754 3297.3L755 3299.1L756 3297.5L757 3299.7L758 3305.3L759 3307L760 3310.5L761 3311.3L762 3309.5L763 3310.3L764 3309.2L765 3310.8L766 3313.1L767 3313.2L768 3311.2L769 3308.9L770 3310.7L771 3306.5L772 3308.7L773 3311L774 3306.5L775 3298.7L775.5 3299.7L776 3300.3L777 3307.1L778 3306.4L779 3310.3L780 3310.5L781 3313.7L782 3313.9L783 3311.6L784 3314.2L785 3313.1L786 3315.5L787 3315.1L788 3315.7L789 3313.7L790 3312.9L791 3312.5L792 3313.5L793 3309.3L794 3315L795 3314.2L796 3313.9L797 3310.7L798 3310.2L799 3310.3L800 3313.7L801 3312.2L802 3311.6L803 3314.4L804 3312.4L805 3309.7L806 3307.1L807 3311.3L808 3316.2L809 3315.8L810 3315.5L811 3312.2L812 3316.3L813 3313.5L814 3315.9L815 3319.1L816 3316.8L817 3311.8L818 3313.2L819 3312.1L820 3312.8L821 3315.1L822 3317.4L823 3316.9L824 3314.3L825 3314.3L826 3312.1L827 3313.3L828 3312.4L829 3314.4L830 3314.9L831 3313.8L832 3312.9L833 3311.9L834 3314.5L835 3314.3L836 3314.6L837 3311.7L838 3312.5L839 3311.6L840 3312.5L841 3315.6L842 3313.3L843 3311.9L844 3306.5L845 3306.8L846 3304.2L847 3305.3L848 3308.2L849 3310.3L850 3306.6L851 3301.1L852 3304.8L853 3304.7L854 3301.5L855 3296.1L856 3299.6L857 3297.4L858 3296.2L859 3290.3L860 3289.2L861 3291.9L862 3286.6L863 3285.3L864 3280.6L865 3276.6L866 3272.9L867 3264.8L867.3 3264L868 3261.3L869 3253.8L870 3247.2L871 3237.7L872 3228.3L873 3224.4L874 3210.9L875 3189.1L876 3163.4L877 3125.7L878 3077.8L879 3020.7L880 2954.7L881 2877.3L882 2798.2L883 2717.9L884 2639.5L885 2582.5L886 2540.7L886.2 2532.7L886.6 2533.6L887 2541.9L888 2569.6L889 2632.1L890 2705.1L891 2782.9L892 2861.6L893 2937.7L894 2999.7L895 3054.7L896 3099.9L897 3138.1L898 3163.2L898.2 3167L899 3177.2L900 3183.4L900.5 3184.3L901 3178.6L902 3170L902.2 3168.3L903 3171.3L903.6 3178.4L904 3180.3L905 3195.3L906 3215.5L907 3229.4L908 3239.1L909 3239.3L910 3238.2L911 3235.2L911.5 3238.9L912 3240.5L913 3254.2L914 3267.2L915 3273.2L916 3282.6L917 3287.6L918 3291.3L919 3295.8L920 3296L921 3300.6L922 3305.5L923 3307.9L924 3306L925 3306.6L926 3304.4L927 3306.4L928 3305.7L929 3306.5L930 3307.4L931 3308.8L932 3307.9L933 3311.2L934 3308.8L935 3310.8L936 3310.5L937 3309.3L938 3312.2L939 3311.6L940 3309.5L941 3312.2L942 3310L943 3311.1L944 3309.1L945 3311.8L946 3307L947 3308L948 3309.9L949 3312.4L950 3310.7L951 3314.1L952 3312.7L953 3312.1L954 3308.9L955 3313.3L956 3311.9L957 3311.9L958 3313.2L959 3315.1L960 3313.5L961 3314.9L962 3313.2L963 3311.6L964 3312.4L965 3315.9L966 3314.3L967 3310.8L968 3312.1L969 3312.2L970 3309.8L971 3310.4L972 3310.2L973 3305.9L974 3308.6L975 3304.3L976 3306.1L977 3303L978 3301.5L979 3300.8L980 3298.5L981 3298.1L982 3296.2L983 3296.3L984 3289.2L985 3284.4L986 3280.1L987 3272.7L988 3264.1L988.3 3262.3L989 3258.1L990 3253.9L991 3237.4L992 3226.3L993 3213.3L994 3207.3L995 3191L996 3178L997 3158.9L998 3149.8L999 3142.6L1000 3141.3L1000.4 3143.9L1000.5 3142.7L1001 3143.8L1002 3144.8L1003 3150.6L1004 3166.3L1005 3182.3L1006 3195.5L1007 3211.4L1008 3225.1L1009 3237.1L1010 3248.1L1011 3263.2L1012 3270.6L1013 3279.4L1014 3288.3L1015 3290L1016 3294.7L1017 3298.6L1018 3302.2L1019 3302.3L1020 3302.2L1020.6 3302.6L1021 3303.1L1022 3306.4L1023 3304.5L1024 3312.6L1025 3311.4L1026 3314.3L1027 3317.2L1028 3315.8L1029 3316.1L1030 3318.7L1031 3319.9L1032 3321.9L1033 3322.3L1034 3324.3L1035 3325.2L1036 3323.6L1037 3324.5L1038 3326.3L1039 3324.6L1040 3323.4L1041 3325.3L1042 3326L1043 3324.7L1044 3325.1L1045 3330.9L1046 3330.7L1047 3329.9L1048 3332.8L1049 3334L1050 3331L1051 3334.8L1052 3329.8L1053 3326.3L1054 3327.5L1055 3331L1056 3331.9L1057 3336.2L1058 3336.8L1059 3333.8L1060 3331L1061 3329.4L1062 3333L1063 3331.1L1064 3332.4L1065 3332.4L1066 3334.3L1067 3338.5L1068 3336.1L1069 3338.6L1070 3335.3L1071 3332.1L1072 3335.7L1073 3329L1074 3334L1075 3333.3L1076 3333.5L1077 3332.2L1078 3334.2L1079 3333.2L1080 3332.7L1081 3334.8L1082 3337.6L1083 3337.3L1084 3337.4L1085 3334L1086 3336.3L1087 3335.9L1088 3336.9L1089 3336.4L1090 3334.4L1091 3336.2L1092 3333.5L1093 3337.1L1094 3340.4L1095 3340.2L1096 3334.6L1097 3334.5L1098 3336.5L1099 3336L1100 3336.3L1101 3337.3L1102 3334.6L1103 3336.5L1104 3337.4L1105 3337.8L1106 3333.7L1107 3334.7L1108 3334.3L1109 3335.2L1110 3330.5L1111 3330.5L1112 3331.2L1113 3334.9L1114 3333.3L1115 3331.3L1116 3332.5L1117 3336.2L1118 3340.2L1119 3340.4L1120 3339.3L1121 3334.5L1122 3336.3L1123 3336.4L1124 3337.7L1125 3336.5L1126 3337.2L1127 3334.5L1128 3335.3L1129 3334.8L1130 3338.5L1131 3332.8L1132 3331.9L1132.6 3335.2L1133 3334.9L1134 3339.6L1135 3338.6L1136 3337.6L1137 3335.9L1138 3337.3L1139 3338.7L1140 3337.3L1141 3337.3L1142 3337.8L1143 3332.1L1144 3331.3L1145 3336.9L1146 3339.1L1147 3339.2L1148 3338.9L1149 3339.6L1150 3337.6L1151 3337L1152 3338.9L1153 3336.4L1154 3337.8L1155 3339.1L1156 3337L1157 3340.5L1158 3340.2L1159 3339L1160 3336.9L1161 3340L1162 3337.6L1163 3341.1L1164 3342.6L1165 3338.8L1166 3340L1167 3342.7L1168 3340L1169 3337.1L1170 3336.7L1171 3332L1172 3327.7L1173 3319L1173.6 3317.8L1174 3320.1L1174.7 3323.7L1175 3325.1L1176 3329L1177 3331.9L1178 3336L1179 3337L1180 3338.8L1181 3338L1182 3337.6L1183 3337L1184 3340.1L1185 3338.8L1186 3337.8L1187 3341.2L1188 3339L1189 3341.1L1190 3342.9L1191 3343.9L1192 3338L1193 3338.5L1194 3340.4L1195 3340.4L1196 3339.5L1197 3343.7L1198 3340.5L1199 3337.7L1200 3338.9L1201 3338.3L1202 3339.6L1203 3339.5L1204 3339.3L1205 3337.3L1206 3344.1L1207 3341.8L1208 3339.3L1209 3339.3L1210 3338.5L1211 3341.5L1212 3340L1213 3338.5L1214 3341.4L1215 3341.1L1216 3345.7L1217 3339.9L1218 3336L1219 3339.5L1220 3336.9L1221 3335.5L1221.7 3331.7L1222 3333.6L1223 3331.1L1224 3334.7L1225 3332.8L1226 3331.1L1227 3334.2L1228 3336.4L1228.7 3342.1L1229 3340.9L1230 3342.7L1231 3343.6L1232 3338.8L1233 3342.9L1234 3342L1235 3343.3L1236 3343.6L1237 3342.2L1238 3343.6L1239 3340.8L1240 3339L1241 3343.1L1242 3341.2L1243 3341.6L1244 3342.7L1245 3344.1L1246 3341.2L1247 3340.2L1248 3343.7L1249 3341.7L1250 3342.7L1251 3342.6L1252 3341.6L1253 3342L1254 3341.8L1255 3340.7L1256 3344.8L1257 3344.3L1258 3341.2L1259 3340.2L1260 3338.4L1261 3340L1262 3338.8L1263 3340.3L1264 3339.1L1265 3337.7L1266 3338L1267 3340L1268 3341.4L1269 3341.3L1270 3340.6L1271 3341.8L1272 3341.3L1273 3344.7L1274 3342.1L1275 3340.7L1276 3341.1L1277 3340.2L1278 3340.4L1279 3339.1L1280 3336.7L1281 3341L1282 3336.7L1283 3336.4L1284 3339.7L1285 3341.9L1286 3340.3L1287 3338.5L1288 3338.7L1289 3339.1L1290 3338.7L1291 3337.2L1292 3338.4L1293 3337.7L1294 3339L1295 3339L1296 3337.8L1297 3341.4L1298 3337.6L1299 3336.4L1300 3340.8L1301 3340.1L1302 3339.5L1303 3337.4L1304 3334.8L1305 3336.1L1306 3331.7L1307 3338.5L1308 3338.2L1309 3334.2L1310 3332.8L1311 3334.3L1312 3331.9L1313 3335.1L1314 3334.7L1315 3334.4L1316 3337.5L1317 3337.8L1318 3337.5L1319 3335.3L1320 3341.5L1321 3339L1322 3337.1L1323 3338L1324 3338.6L1325 3339.3L1326 3341.5L1327 3340.3L1328 3340.9L1329 3340.1L1330 3339.8L1331 3341.3L1332 3335.9L1333 3331.9L1334 3336.4L1335 3335.2L1336 3334.1L1337 3338L1338 3336.9L1339 3337.3L1340 3337.7L1341 3335.5L1342 3337.3L1343 3335.7L1344 3334L1345 3333L1346 3335.5L1347 3332.9L1348 3332.4L1349 3329.2L1350 3327.5L1351 3324.3L1352 3324.7L1353 3322.6L1354 3319.3L1354.4 3321.6L1355 3316.2L1356 3312.1L1357 3308.3L1358 3299.8L1359 3295.8L1360 3289.7L1361 3284.8L1362 3282.6L1363 3273.8L1364 3268.3L1365 3270.2L1365.2 3265.8L1366 3265.6L1366.8 3267.5L1367 3269.2L1368 3271.9L1369 3274.3L1370 3278.6L1371 3284.7L1372 3286L1373 3292.9L1374 3291.5L1375 3299.7L1376 3305.9L1377 3307.3L1378 3310.5L1379 3316.1L1380 3321L1381 3318.8L1382 3322.3L1383 3325.1L1384 3323.7L1385 3326.8L1386 3329.7L1387 3332.2L1388 3333.1L1389 3335.6L1390 3338.3L1391 3333.2L1392 3334.4L1393 3331.7L1394 3332.9L1395 3333.1L1396 3336.2L1397 3341.5L1398 3335.7L1399 3338L1400 3337L1401 3339.6L1402 3340.3L1403 3337.5L1404 3336.8L1405 3334.7L1406 3335.3L1407 3339L1408 3341.3L1409 3340.9L1410 3338.2L1411 3338.9L1412 3335L1413 3333.6L1414 3335.6L1415 3335.4L1415.6 3334.4L1416 3334.5L1417 3333.9L1418 3339.4L1419 3341.6L1420 3338.7L1421 3342.1L1422 3336.1L1423 3341.1L1424 3343.9L1425 3342L1426 3342.4L1427 3339.9L1428 3340.4L1429 3345L1430 3345.4L1431 3345.1L1432 3342.5L1433 3341L1434 3343L1435 3340.8L1436 3341L1437 3342.8L1438 3347.2L1439 3341.9L1440 3343.4L1441 3341.6L1442 3344.2L1443 3345.1L1444 3342.1L1445 3346.5L1446 3342.1L1447 3340.6L1448 3341.6L1449 3345.2L1450 3344.5L1451 3345.9L1452 3346.3L1453 3342.2L1454 3340.5L1455 3343.9L1456 3343.5L1457 3344.8L1458 3346L1459 3346.1L1460 3346.1L1461 3345.2L1462 3344.2L1463 3347.8L1464 3346.4L1465 3347L1466 3348.6L1467 3346.5L1468 3345.8L1469 3343.8L1470 3341.2L1471 3342.8L1472 3344L1473 3341.8L1474 3345.5L1475 3345L1476 3343L1477 3336.8L1477.8 3337.7L1478 3340.4L1479 3334.6L1480 3339L1481 3338.3L1482 3339.4L1483 3335.8L1484 3339.8L1485 3339.9L1486 3340.2L1487 3340.3L1488 3340.9L1489 3341.3L1490 3342.5L1491 3345.2L1492 3343.3L1493 3348.4L1494 3344.5L1495 3344.8L1496 3345.5L1497 3344.9L1498 3344.3L1499 3339.4L1500 3346.4L1501 3344L1502 3343.3L1503 3341.4L1504 3344.3L1505 3343.6L1506 3344.4L1507 3347.6L1508 3348.9L1509 3348.3L1510 3346.5L1511 3346.4L1512 3344.6L1513 3344.9L1514 3344.1L1515 3341.3L1516 3345.9L1517 3342.6L1518 3340.6L1519 3341.7L1520 3345L1521 3343.3L1522 3340.8L1523 3340.6L1524 3344.5L1525 3339.5L1526 3338.2L1527 3336.6L1528 3340L1529 3339.8L1530 3341.4L1531 3342.1L1532 3340.7L1533 3342.6L1534 3341.5L1535 3341L1536 3342.7L1537 3342.1L1538 3337.6L1539 3334.4L1540 3340.8L1541 3339.5L1542 3338.9L1543 3340.9L1544 3343.2L1545 3340.8L1546 3342.3L1547 3338.4L1548 3336.4L1549 3334.3L1550 3339L1551 3338.6L1552 3339.3L1553 3341.9L1554 3337.2L1555 3343.6L1556 3340.9L1557 3335.4L1558 3339.9L1559 3343L1560 3339.7L1561 3337.2L1562 3339.8L1563 3340L1564 3333.4L1565 3335.1L1566 3336.1L1567 3332.6L1568 3333.4L1569 3331.8L1570 3332.6L1571 3334.9L1572 3336.3L1573 3333.1L1574 3331.6L1575 3329.1L1576 3328.8L1577 3331.9L1578 3328.7L1579 3324.3L1580 3323.3L1581 3322.9L1582 3323.2L1583 3319.3L1584 3321L1585 3319.5L1586 3316.1L1587 3315.6L1588 3316.9L1589 3311.6L1590 3310.6L1591 3311.6L1591.6 3311.1L1592 3308.2L1593 3308.2L1593.2 3311.5L1594 3310.5L1595 3309.2L1596 3309.2L1597 3309.4L1598 3310L1599 3315.8L1600 3315.7L1601 3319.3L1602 3319.4L1603 3322L1604 3323.3L1605 3326.2L1606 3330L1607 3329.2L1608 3326.7L1609 3330.8L1610 3335.5L1611 3335.4L1612 3334.7L1613 3335.6L1614 3332.6L1615 3333.9L1616 3337.6L1617 3341.3L1618 3343.6L1619 3340.8L1620 3339.3L1621 3338.3L1622 3338L1623 3338.7L1624 3338L1625 3342.7L1626 3338.5L1627 3343.8L1628 3344.7L1629 3342.1L1630 3342.9L1631 3342L1632 3345.4L1633 3345.4L1634 3345.4L1635 3341.8L1636 3344.4L1637 3342.4L1638 3344.4L1639 3346.7L1640 3343.6L1641 3340.9L1642 3341.5L1643 3345.4L1644 3340.7L1645 3341.3L1646 3340.8L1647 3343.9L1648 3340.1L1649 3339.3L1650 3338.4L1651 3339.6L1652 3337.3L1653 3336.8L1654 3335.1L1655 3337.5L1656 3337L1657 3337.1L1658 3332.7L1659 3336.4L1660 3335.6L1661 3338L1662 3339L1663 3334.6L1664 3334.4L1664.7 3333.2L1665 3333.9L1666 3335.2L1667 3334.9L1668 3334.6L1669 3338.6L1670 3334L1671 3336.2L1672 3335.7L1673 3336.3L1674 3337.8L1675 3339.8L1676 3338.2L1677 3342.5L1678 3341.6L1679 3341.7L1680 3340.6L1681 3343.1L1682 3341.1L1683 3342.3L1684 3345.8L1685 3347.8L1686 3344.2L1687 3342.4L1688 3349.9L1689 3348.6L1690 3347.7L1691 3346.5L1692 3347L1693 3346.5L1694 3346.9L1695 3344.9L1696 3347.5L1697 3348L1698 3347.5L1699 3347.2L1700 3346.9L1701 3349.8L1702 3349.2L1703 3347.4L1704 3349.6L1705 3349.9L1706 3349.5L1707 3352.4L1708 3353.5L1709 3352.8L1710 3353.9L1711 3355.8L1712 3352.3L1713 3352.2L1714 3349.9L1715 3350.7L1716 3349.3L1717 3351.5L1718 3350.1L1719 3351.6L1720 3351L1721 3349.8L1722 3352.4L1723 3348.8L1724 3354.4L1725 3353.7L1726 3351L1727 3351.4L1728 3351.1L1729 3351.6L1730 3354.5L1731 3354.2L1732 3351.5L1733 3349.7L1734 3352.2L1735 3354.4L1736 3350.5L1737 3353.5L1738 3354L1739 3354.6L1740 3358.2L1741 3356.2L1742 3357.3L1743 3355.4L1744 3357.6L1745 3354.5L1746 3354.4L1747 3354.7L1748 3355.2L1749 3354.6L1750 3351.1L1751 3354.3L1752 3355.3L1753 3357.9L1754 3354.7L1755 3355.8L1756 3358.3L1757 3356.5L1758 3353.3L1759 3351.8L1760 3352.4L1761 3354.6L1762 3352.3L1763 3355.2L1764 3352.6L1765 3355L1766 3356.6L1767 3353.9L1768 3357.7L1769 3355.3L1770 3350.4L1771 3353.4L1772 3355.5L1773 3354.4L1774 3356.3L1775 3358.6L1776 3357.2L1777 3357.1L1778 3358.3L1779 3356.8L1780 3357.8L1781 3356.3L1782 3353.9L1783 3355.9L1784 3354.6L1785 3355.4L1786 3355.8L1787 3356.6L1788 3352.1L1789 3354.7L1790 3353.5L1791 3353.3L1792 3357.6L1793 3354.4L1794 3358.1L1795 3355.4L1796 3357.7L1797 3358L1798 3355.9L1799 3358.1L1800 3351.1L1801 3354.8L1802 3355.4L1803 3357.3L1804 3355.6L1805 3356.6L1806 3355.8L1807 3357.4L1808 3358.2L1809 3354.3L1810 3359.3L1811 3357.2L1812 3361L1813 3356.8L1814 3356.6L1815 3359.3L1816 3356.8L1817 3358.6L1818 3356.5L1819 3356.5L1820 3356.1L1821 3356.6L1822 3360.3L1823 3356.3L1824 3356.8L1825 3355.6L1826 3355.6L1827 3355.5L1828 3355.4L1829 3355.7L1830 3358.7L1831 3351.6L1832 3351.2L1832.5 3352.6L1833 3354.9L1834 3351.5L1835 3358L1836 3358L1837 3361.2L1838 3360.2L1839 3358.5L1840 3356.6L1841 3357.9L1842 3358.4L1843 3355.2L1844 3357.4L1845 3357.2L1846 3358.7L1847 3356.2L1848 3355.7L1849 3356.7L1850 3358.6L1851 3357.2L1852 3354.4L1853 3354.7L1854 3359.3L1855 3360.3L1856 3359L1857 3360L1858 3357.5L1859 3357.4L1860 3357.6L1861 3360.7L1862 3359.6L1863 3356.9L1864 3357.8L1865 3357.4L1866 3360.4L1867 3360.7L1868 3360.5L1869 3358.4L1870 3360.6L1871 3360.9L1872 3356.6L1873 3358.1L1874 3359.6L1875 3359.8L1876 3359.8L1877 3360.2L1878 3361.4L1879 3361.8L1880 3360.5L1881 3357.8L1882 3354.4L1883 3355.6L1884 3357.4L1885 3359.6L1886 3363.5L1887 3362.3L1888 3357.9L1889 3359.9L1890 3358.2L1891 3357L1892 3357.6L1893 3360.5L1894 3359.2L1895 3360.6L1896 3359.6L1897 3358.6" stroke="#ff0000" stroke-width="1.8" fill="none" stroke-linejoin="round"/>
<path d="M284 3263.3L285 3264.6L286 3265.8L287 3267.1L288 3268.3L289 3269.6L290 3270.9L291 3272.1L292 3273.4L293 3274.6L294 3275.9L295 3277.1L296 3278.4L297 3279.7L298 3280.9L299 3282.2L300 3283.4L301 3284.7L302 3285.9L303 3287.2L304 3288.4L305 3289.7L306 3291L307 3292.2L308 3293.5L309 3294.7L310 3295.7L311 3296.6L312 3297.4L313 3298.2L314 3299.1L315 3299.9L316 3300.8L317 3301.6L318 3302.5L319 3303.3L320 3304.2L321 3305L322 3305.9L323 3306.7L324 3307.6L325 3308.4L326 3309.3L327 3310.1L328 3311L329 3311.8L330 3312.7L331 3313.5L332 3314.4L333 3315.2L334 3316.1L335 3316.9L336 3317.6L337 3318.4L338 3319.2L339 3319.9L340 3320.7L341 3321.4L342 3322.2L343 3323L344 3323.7L345 3324.5L346 3325.2L347 3326L348 3326.8L349 3327.5L350 3328.3L351 3329L352 3329.8L353 3329.8L354 3329.8L355 3329.9L356 3329.9L357 3329.9L358 3329.9L359 3329.9L360 3330L361 3330L362 3330L363 3330L364 3330L365 3330.1L366 3330.1L367 3330.1L368 3330.1L369 3330.1L370 3330.2L371 3330.2L372 3330.2L373 3330.2L374 3330.2L375 3330.3L376 3330.3L377 3330.3L378 3330.3L379 3330.4L380 3330.4L381 3330.4L382 3330.4L383 3330.4L384 3330.5L385 3330.5L386 3330.5L387 3330.5L388 3330.5L389 3330.6L390 3330.6L391 3330.6L392 3330.6L393 3330.6L394 3330.7L395 3330.6L396 3330.5L397 3330.4L398 3330.2L399 3330.1L400 3329.9L401 3329.8L402 3329.7L403 3329.5L404 3329.4L405 3329.2L406 3329.1L407 3328.9L408 3328.8L409 3328.7L410 3328.5L411 3328.4L412 3328.2L413 3328.1L414 3328L415 3327.8L416 3327.7L417 3327.5L418 3327.4L419 3327.2L420 3327.1L421 3327L422 3326.8L423 3326.7L424 3326.5L425 3326.4L426 3326.2L427 3326.1L428 3326L429 3325.8L430 3325.7L431 3325.5L432 3325.4L433 3325.3L434 3325.1L435 3325L436 3324.9L437 3324.9L438 3324.8L439 3324.7L440 3324.7L441 3324.6L442 3324.6L443 3324.5L444 3324.5L445 3324.4L446 3324.4L447 3324.3L448 3324.3L449 3324.2L450 3324.2L451 3324.1L452 3324L453 3324L454 3323.9L455 3323.9L456 3323.8L457 3323.8L458 3323.7L459 3323.7L460 3323.6L461 3323.6L462 3323.5L463 3323.4L464 3323.4L465 3323.3L466 3323.3L467 3323.2L468 3323.2L469 3323.1L470 3323.1L471 3323L472 3323L473 3322.9L474 3322.9L475 3322.8L476 3322.7L477 3322.7L478 3322.6L479 3322.6L480 3322.5L481 3322.5L482 3322.4L483 3322.4L484 3322.3L485 3322.3L486 3322.2L487 3322.1L488 3322.1L489 3322L490 3322L491 3321.9L492 3321.9L493 3321.8L494 3321.8L495 3321.7L496 3321.7L497 3321.6L498 3321.5L499 3321.5L500 3321.4L501 3321.4L502 3321.3L503 3321.3L504 3321.2L505 3321.2L506 3321.1L507 3320.9L508 3320.7L509 3320.5L510 3320.3L511 3320L512 3319.8L513 3319.6L514 3319.4L515 3319.2L516 3318.9L517 3318.7L518 3318.5L519 3318.3L520 3318L521 3317.8L522 3317.6L523 3317.4L524 3317.1L525 3316.9L526 3316.7L527 3316.5L528 3316.2L529 3316L530 3315.8L531 3315.6L532 3315.4L533 3315.1L534 3314.9L535 3314.7L536 3314.5L537 3314.2L538 3314L539 3313.8L540 3313.6L541 3313.3L542 3313.1L543 3312.9L544 3312.7L545 3312.4L546 3312.2L547 3312L548 3311.8L549 3311.5L550 3311.3L551 3311L552 3310.7L553 3310.5L554 3310.2L555 3309.9L556 3309.7L557 3309.4L558 3309.1L559 3308.9L560 3308.6L561 3308.3L562 3308.1L563 3307.8L564 3307.5L565 3307.3L566 3307L567 3306.7L568 3306.4L569 3306.2L570 3305.9L571 3305.6L572 3305.3L573 3305L574 3304.7L575 3304.5L576 3304.2L577 3303.8L578 3303.5L579 3303.2L580 3302.9L581 3302.5L582 3302.1L583 3301.6L584 3301.1L585 3300.4L586 3299.6L587 3298.3L588 3295.9L589 3290.4L590 3278.8L591 3262.8L591.5 3259.4L592 3262.6L593 3278L594 3289.1L595 3294L596 3295.9L597 3296.6L598 3297L599 3297.1L600 3297.1L601 3297L602 3297L603 3297L604 3296.9L605 3296.8L606 3296.7L607 3296.6L608 3296.5L609 3296.4L610 3296.3L611 3296.1L612 3296L613 3295.8L614 3295.5L615 3295L616 3294L617 3292L618 3290.4L619 3291.8L620 3293.5L621 3294.2L622 3294.5L623 3294.5L624 3294.4L625 3294.4L626 3294.3L627 3294.2L628 3294L629 3293.9L630 3293.8L631 3293.7L632 3293.6L633 3293.4L634 3293.3L635 3293.2L636 3293L637 3292.9L638 3292.8L639 3292.6L640 3292.5L641 3292.4L642 3292.2L643 3292.1L644 3292L645 3291.8L646 3291.7L647 3291.6L648 3291.4L649 3291.3L650 3291.2L651 3291L652 3290.9L653 3290.8L654 3290.6L655 3290.5L656 3290.4L657 3290.4L658 3290.5L659 3290.6L660 3290.6L661 3290.7L662 3290.7L663 3290.8L664 3290.8L665 3290.9L666 3290.9L667 3291L668 3291.1L669 3291.1L670 3291.2L671 3291.2L672 3291.3L673 3291.5L674 3291.9L675 3292.4L676 3292.8L677 3293.2L678 3293.6L679 3294.1L680 3294.5L681 3294.9L682 3295.3L683 3295.8L684 3296.2L685 3296.6L686 3297L687 3297.5L688 3297.9L689 3298.3L690 3298.6L691 3299L692 3299.3L693 3299.7L694 3300L695 3300.3L696 3300.7L697 3301L698 3301.3L699 3301.7L700 3302L701 3302.4L702 3302.7L703 3303L704 3303.4L705 3303.7L706 3304L707 3304.4L708 3304.7L709 3305L710 3305.4L711 3305.7L712 3306L713 3306.4L714 3306.7L715 3307L716 3307.4L717 3307.6L718 3307.8L719 3308L720 3308.2L721 3308.4L722 3308.6L723 3308.8L724 3309L725 3309.2L726 3309.4L727 3309.6L728 3309.8L729 3310L730 3310.2L731 3310.4L732 3310.5L733 3310.7L734 3310.7L735 3310.7L736 3310.6L737 3310.6L738 3310.5L739 3310.4L740 3310.3L741 3310.1L742 3309.8L743 3309.5L744 3309.1L745 3308.5L746 3307.7L747 3306.7L748 3305.4L749 3303.8L750 3301.9L751 3299.7L752 3297.7L753 3296.1L754 3295.5L755 3296.2L756 3297.8L757 3300L758 3302.2L759 3304.2L760 3305.9L761 3307.3L762 3308.4L763 3309.3L764 3309.9L765 3310.4L766 3310.8L767 3311L768 3311.2L769 3311.3L770 3311.2L771 3311L772 3310.3L773 3308.7L774 3305.6L775 3301.6L775.5 3300.9L776 3301.7L777 3305.9L778 3309.2L779 3311L780 3311.9L781 3312.4L782 3312.7L783 3312.9L784 3313.1L785 3313.2L786 3313.4L787 3313.4L788 3313.5L789 3313.6L790 3313.7L791 3313.7L792 3313.8L793 3313.8L794 3313.8L795 3313.9L796 3313.9L797 3314L798 3314L799 3314L800 3314L801 3314L802 3314.1L803 3314.1L804 3314.1L805 3314.1L806 3314.1L807 3314.1L808 3314.1L809 3314.1L810 3314L811 3314L812 3314L813 3313.9L814 3313.9L815 3313.8L816 3313.8L817 3313.7L818 3313.7L819 3313.6L820 3313.5L821 3313.4L822 3313.3L823 3313.3L824 3313.2L825 3313L826 3312.9L827 3312.8L828 3312.7L829 3312.5L830 3312.4L831 3312.2L832 3312.1L833 3311.9L834 3311.7L835 3311.5L836 3311.2L837 3311L838 3310.7L839 3310.4L840 3310.1L841 3309.8L842 3309.4L843 3309L844 3308.6L845 3308.1L846 3307.6L847 3307.1L848 3306.5L849 3305.9L850 3305.2L851 3304.5L852 3303.7L853 3302.8L854 3301.9L855 3300.8L856 3299.7L857 3298.4L858 3297L859 3295.5L860 3293.8L861 3291.9L862 3289.8L863 3287.3L864 3284.6L865 3281.4L866 3277.7L867 3273.1L867.3 3271.5L868 3267.2L869 3259.4L870 3249.4L871 3238.8L872 3229.7L873 3218.7L874 3202.8L875 3180.8L876 3152.1L877 3115.8L878 3071.3L879 3017.9L880 2955.8L881 2886.1L882 2810.9L883 2734.4L884 2663.2L885 2606L886 2572.2L886.2 2569L886.6 2566.3L887 2568.7L888 2596.1L889 2648.7L890 2717.1L891 2792.3L892 2867.2L893 2937.1L894 2999.3L895 3052.5L896 3096.1L897 3130.2L898 3154.9L898.2 3158.8L899 3170.8L900 3178.2L900.5 3179.1L901 3178.3L902 3173.7L902.2 3172.6L903 3170.2L903.6 3171.7L904 3175L905 3189.2L906 3206.7L907 3221.2L908 3230.1L909 3232.8L910 3231L911 3229.1L911.5 3230.5L912 3234.1L913 3246.3L914 3260L915 3271.6L916 3280.3L917 3286.5L918 3290.9L919 3294.2L920 3296.7L921 3298.7L922 3300.4L923 3301.9L924 3303.1L925 3304.2L926 3305.2L927 3306.1L928 3306.9L929 3307.6L930 3308.2L931 3308.8L932 3309.3L933 3309.8L934 3310.3L935 3310.7L936 3311L937 3311.4L938 3311.7L939 3312L940 3312.3L941 3312.5L942 3312.7L943 3312.9L944 3313.1L945 3313.3L946 3313.4L947 3313.6L948 3313.7L949 3313.8L950 3313.9L951 3314L952 3314L953 3314.1L954 3314.1L955 3314.1L956 3314.1L957 3314.1L958 3314.1L959 3314.1L960 3314.1L961 3314L962 3314L963 3313.9L964 3313.8L965 3313.7L966 3313.5L967 3313.3L968 3313.1L969 3312.8L970 3312.5L971 3312.1L972 3311.7L973 3311.2L974 3310.6L975 3310L976 3309.3L977 3308.4L978 3307.4L979 3306.3L980 3304.9L981 3303.3L982 3301.4L983 3299.1L984 3296.2L985 3292.7L986 3288.4L987 3283.1L988 3276.6L988.3 3274.4L989 3268.7L990 3259.2L991 3248L992 3234.9L993 3219.9L994 3203.2L995 3185.1L996 3166.2L997 3147.6L998 3131L999 3118.3L1000 3111.4L1000.4 3110.5L1000.5 3110.5L1001 3111.5L1002 3118.6L1003 3131.5L1004 3148.3L1005 3167.1L1006 3186.1L1007 3204.5L1008 3221.4L1009 3236.5L1010 3249.7L1011 3261L1012 3270.5L1013 3278.3L1014 3284.6L1015 3289.5L1016 3293.3L1017 3296L1018 3297.9L1019 3299.2L1020 3300.5L1020.6 3301.5L1021 3302.2L1022 3304.6L1023 3307.2L1024 3309.7L1025 3312L1026 3313.8L1027 3315.4L1028 3316.7L1029 3317.8L1030 3318.7L1031 3319.5L1032 3320.3L1033 3320.9L1034 3321.5L1035 3322.1L1036 3322.6L1037 3323.1L1038 3323.5L1039 3323.9L1040 3324.3L1041 3324.7L1042 3325L1043 3325.4L1044 3325.7L1045 3326L1046 3326.3L1047 3326.6L1048 3326.8L1049 3327.1L1050 3327.3L1051 3327.6L1052 3327.8L1053 3328L1054 3328.3L1055 3328.5L1056 3328.7L1057 3328.9L1058 3329.1L1059 3329.3L1060 3329.5L1061 3329.6L1062 3329.8L1063 3330L1064 3330.2L1065 3330.4L1066 3330.5L1067 3330.7L1068 3330.8L1069 3331L1070 3331.2L1071 3331.3L1072 3331.5L1073 3331.6L1074 3331.8L1075 3331.9L1076 3332.1L1077 3332.2L1078 3332.3L1079 3332.5L1080 3332.6L1081 3332.8L1082 3332.9L1083 3333L1084 3333.2L1085 3333.3L1086 3333.4L1087 3333.5L1088 3333.7L1089 3333.8L1090 3333.9L1091 3334L1092 3334.1L1093 3334.2L1094 3334.3L1095 3334.4L1096 3334.5L1097 3334.6L1098 3334.7L1099 3334.8L1100 3334.8L1101 3334.9L1102 3334.8L1103 3334.8L1104 3334.6L1105 3334.4L1106 3334L1107 3333.5L1108 3333L1109 3332.6L1110 3332.5L1111 3332.8L1112 3333.5L1113 3334.2L1114 3335L1115 3335.6L1116 3336L1117 3336.4L1118 3336.7L1119 3337L1120 3337.2L1121 3337.4L1122 3337.6L1123 3337.7L1124 3337.9L1125 3338L1126 3338.1L1127 3338.3L1128 3338.4L1129 3338.5L1130 3338.6L1131 3338.8L1132 3338.9L1132.6 3339L1133 3339L1134 3339.1L1135 3339.2L1136 3339.4L1137 3339.4L1138 3339.5L1139 3339.5L1140 3339.5L1141 3339.6L1142 3339.6L1143 3339.6L1144 3339.7L1145 3339.7L1146 3339.7L1147 3339.7L1148 3339.8L1149 3339.8L1150 3339.8L1151 3339.8L1152 3339.9L1153 3339.9L1154 3339.9L1155 3339.9L1156 3339.9L1157 3339.9L1158 3339.9L1159 3339.9L1160 3339.9L1161 3339.9L1162 3339.8L1163 3339.8L1164 3339.7L1165 3339.6L1166 3339.4L1167 3339.1L1168 3338.7L1169 3338L1170 3336.5L1171 3333.7L1172 3328.9L1173 3323.1L1173.6 3321.6L1174 3322.3L1174.7 3325.9L1175 3327.7L1176 3333L1177 3336.3L1178 3338L1179 3338.9L1180 3339.4L1181 3339.8L1182 3340L1183 3340.2L1184 3340.3L1185 3340.4L1186 3340.5L1187 3340.6L1188 3340.7L1189 3340.7L1190 3340.8L1191 3340.8L1192 3340.9L1193 3340.9L1194 3341L1195 3341L1196 3341L1197 3341.1L1198 3341.1L1199 3341.1L1200 3341.2L1201 3341.2L1202 3341.2L1203 3341.2L1204 3341.3L1205 3341.3L1206 3341.3L1207 3341.3L1208 3341.3L1209 3341.3L1210 3341.3L1211 3341.3L1212 3341.3L1213 3341.3L1214 3341.2L1215 3341.1L1216 3341L1217 3340.8L1218 3340.3L1219 3339.2L1220 3336.5L1221 3331.8L1221.7 3329.8L1222 3329.8L1223 3330.3L1224 3331.3L1225 3332.6L1226 3333.9L1227 3335.2L1228 3336.3L1228.7 3337L1229 3337.3L1230 3338.1L1231 3338.8L1232 3339.3L1233 3339.8L1234 3340.2L1235 3340.5L1236 3340.7L1237 3340.9L1238 3341.1L1239 3341.2L1240 3341.4L1241 3341.5L1242 3341.6L1243 3341.7L1244 3341.8L1245 3341.8L1246 3341.9L1247 3342L1248 3342L1249 3342.1L1250 3342.1L1251 3342.2L1252 3342.2L1253 3342.3L1254 3342.3L1255 3342.4L1256 3342.4L1257 3342.5L1258 3342.5L1259 3342.5L1260 3342.6L1261 3342.6L1262 3342.6L1263 3342.6L1264 3342.7L1265 3342.7L1266 3342.7L1267 3342.8L1268 3342.8L1269 3342.8L1270 3342.8L1271 3342.8L1272 3342.9L1273 3342.9L1274 3342.9L1275 3342.9L1276 3342.9L1277 3343L1278 3343L1279 3343L1280 3343L1281 3343L1282 3343L1283 3343L1284 3343L1285 3343L1286 3343L1287 3343L1288 3343L1289 3343L1290 3343L1291 3343L1292 3343L1293 3343L1294 3342.9L1295 3342.9L1296 3342.8L1297 3342.8L1298 3342.7L1299 3342.7L1300 3342.6L1301 3342.5L1302 3342.4L1303 3342.4L1304 3342.2L1305 3342.1L1306 3341.9L1307 3341.7L1308 3341.2L1309 3340.5L1310 3339.1L1311 3337.2L1312 3335.9L1313 3336L1314 3336.3L1315 3336.8L1316 3337.3L1317 3337.8L1318 3338.3L1319 3338.7L1320 3339L1321 3339.2L1322 3339.3L1323 3339.3L1324 3339.3L1325 3339.3L1326 3339.2L1327 3339.1L1328 3338.9L1329 3338.7L1330 3338.5L1331 3338.3L1332 3338L1333 3337.7L1334 3337.3L1335 3336.9L1336 3336.5L1337 3336L1338 3335.5L1339 3334.9L1340 3334.2L1341 3333.5L1342 3332.7L1343 3331.8L1344 3330.7L1345 3329.6L1346 3328.2L1347 3326.8L1348 3325.1L1349 3323.2L1350 3321.1L1351 3318.7L1352 3316.1L1353 3313.1L1354 3309.8L1354.4 3308.4L1355 3306.2L1356 3302.3L1357 3298.1L1358 3293.7L1359 3289.2L1360 3284.6L1361 3280.3L1362 3276.5L1363 3273.4L1364 3271.3L1365 3270.4L1365.2 3270.4L1366 3270.8L1366.8 3272L1367 3272.4L1368 3275.2L1369 3278.7L1370 3282.9L1371 3287.4L1372 3291.9L1373 3296.4L1374 3300.7L1375 3304.7L1376 3308.5L1377 3311.9L1378 3314.9L1379 3317.7L1380 3320.2L1381 3322.4L1382 3324.4L1383 3326.2L1384 3327.7L1385 3329.1L1386 3330.3L1387 3331.4L1388 3332.4L1389 3333.3L1390 3334L1391 3334.7L1392 3335.4L1393 3335.9L1394 3336.4L1395 3336.9L1396 3337.3L1397 3337.7L1398 3338L1399 3338.3L1400 3338.6L1401 3338.9L1402 3339.1L1403 3339.3L1404 3339.5L1405 3339.6L1406 3339.7L1407 3339.8L1408 3339.8L1409 3339.7L1410 3339.5L1411 3339.1L1412 3338.4L1413 3337.3L1414 3335.9L1415 3334.8L1415.6 3334.6L1416 3334.7L1417 3335.9L1418 3337.5L1419 3338.9L1420 3339.9L1421 3340.6L1422 3341.1L1423 3341.4L1424 3341.6L1425 3341.8L1426 3342L1427 3342.1L1428 3342.2L1429 3342.3L1430 3342.4L1431 3342.5L1432 3342.5L1433 3342.6L1434 3342.6L1435 3342.7L1436 3342.7L1437 3342.8L1438 3342.8L1439 3342.9L1440 3342.9L1441 3342.9L1442 3343L1443 3343L1444 3343L1445 3343.1L1446 3343.1L1447 3343.1L1448 3343.1L1449 3343.2L1450 3343.2L1451 3343.2L1452 3343.2L1453 3343.2L1454 3343.2L1455 3343.3L1456 3343.3L1457 3343.3L1458 3343.3L1459 3343.3L1460 3343.3L1461 3343.3L1462 3343.3L1463 3343.4L1464 3343.4L1465 3343.4L1466 3343.4L1467 3343.5L1468 3343.5L1469 3343.5L1470 3343.5L1471 3343.4L1472 3343.3L1473 3343.2L1474 3342.8L1475 3342L1476 3340L1477 3336.2L1477.8 3334.1L1478 3334.1L1479 3334.3L1480 3334.8L1481 3335.5L1482 3336.3L1483 3337.1L1484 3338L1485 3338.8L1486 3339.5L1487 3340.1L1488 3340.7L1489 3341.2L1490 3341.7L1491 3342L1492 3342.4L1493 3342.7L1494 3342.9L1495 3343.1L1496 3343.3L1497 3343.4L1498 3343.6L1499 3343.7L1500 3343.8L1501 3343.9L1502 3344L1503 3344.1L1504 3344.2L1505 3344.2L1506 3344.3L1507 3344.3L1508 3344.4L1509 3344.4L1510 3344.5L1511 3344.5L1512 3344.6L1513 3344.6L1514 3344.6L1515 3344.7L1516 3344.7L1517 3344.7L1518 3344.7L1519 3344.8L1520 3344.8L1521 3344.8L1522 3344.8L1523 3344.8L1524 3344.8L1525 3344.8L1526 3344.8L1527 3344.8L1528 3344.8L1529 3344.8L1530 3344.8L1531 3344.8L1532 3344.8L1533 3344.8L1534 3344.8L1535 3344.7L1536 3344.7L1537 3344.7L1538 3344.6L1539 3344.6L1540 3344.6L1541 3344.5L1542 3344.5L1543 3344.4L1544 3344.3L1545 3344.3L1546 3344.2L1547 3344.1L1548 3344L1549 3343.9L1550 3343.8L1551 3343.7L1552 3343.5L1553 3343.4L1554 3343.2L1555 3343L1556 3342.9L1557 3342.7L1558 3342.4L1559 3342.2L1560 3341.9L1561 3341.6L1562 3341.3L1563 3340.9L1564 3340.5L1565 3340.1L1566 3339.6L1567 3339.1L1568 3338.5L1569 3337.9L1570 3337.2L1571 3336.5L1572 3335.6L1573 3334.7L1574 3333.7L1575 3332.6L1576 3331.5L1577 3330.2L1578 3328.8L1579 3327.3L1580 3325.7L1581 3324L1582 3322.2L1583 3320.3L1584 3318.4L1585 3316.5L1586 3314.5L1587 3312.6L1588 3310.8L1589 3309.2L1590 3307.9L1591 3306.8L1591.6 3306.4L1592 3306.2L1593 3305.9L1593.2 3305.9L1594 3306L1595 3306.6L1596 3307.6L1597 3308.8L1598 3310.4L1599 3312.2L1600 3314.1L1601 3316L1602 3318.1L1603 3320L1604 3322L1605 3323.9L1606 3325.6L1607 3327.3L1608 3328.9L1609 3330.4L1610 3331.7L1611 3333L1612 3334.1L1613 3335.2L1614 3336.2L1615 3337.1L1616 3337.9L1617 3338.6L1618 3339.3L1619 3339.9L1620 3340.5L1621 3341L1622 3341.5L1623 3341.9L1624 3342.3L1625 3342.6L1626 3342.9L1627 3343.2L1628 3343.4L1629 3343.6L1630 3343.8L1631 3344L1632 3344.1L1633 3344.2L1634 3344.3L1635 3344.3L1636 3344.4L1637 3344.4L1638 3344.3L1639 3344.3L1640 3344.2L1641 3344.1L1642 3344L1643 3343.8L1644 3343.6L1645 3343.4L1646 3343.2L1647 3342.9L1648 3342.5L1649 3342.2L1650 3341.8L1651 3341.4L1652 3340.9L1653 3340.4L1654 3339.9L1655 3339.3L1656 3338.8L1657 3338.2L1658 3337.7L1659 3337.2L1660 3336.7L1661 3336.3L1662 3336L1663 3335.8L1664 3335.8L1664.7 3335.8L1665 3335.8L1666 3336L1667 3336.3L1668 3336.7L1669 3337.2L1670 3337.8L1671 3338.4L1672 3339.1L1673 3339.8L1674 3340.5L1675 3341.3L1676 3342L1677 3342.6L1678 3343.3L1679 3343.9L1680 3344.5L1681 3345L1682 3345.6L1683 3346L1684 3346.5L1685 3346.9L1686 3347.3L1687 3347.7L1688 3348L1689 3348.4L1690 3348.7L1691 3349L1692 3349.2L1693 3349.5L1694 3349.7L1695 3349.9L1696 3350.1L1697 3350.3L1698 3350.5L1699 3350.7L1700 3350.8L1701 3351L1702 3351.1L1703 3351.3L1704 3351.4L1705 3351.5L1706 3351.6L1707 3351.7L1708 3351.9L1709 3352L1710 3352.1L1711 3352.2L1712 3352.3L1713 3352.4L1714 3352.4L1715 3352.5L1716 3352.6L1717 3352.7L1718 3352.8L1719 3352.9L1720 3352.9L1721 3353L1722 3353.1L1723 3353.1L1724 3353.2L1725 3353.3L1726 3353.3L1727 3353.4L1728 3353.4L1729 3353.5L1730 3353.5L1731 3353.6L1732 3353.6L1733 3353.7L1734 3353.7L1735 3353.8L1736 3353.8L1737 3353.8L1738 3353.9L1739 3353.9L1740 3354L1741 3354L1742 3354.1L1743 3354.1L1744 3354.1L1745 3354.2L1746 3354.2L1747 3354.3L1748 3354.3L1749 3354.3L1750 3354.4L1751 3354.4L1752 3354.4L1753 3354.5L1754 3354.5L1755 3354.6L1756 3354.6L1757 3354.6L1758 3354.7L1759 3354.7L1760 3354.7L1761 3354.8L1762 3354.8L1763 3354.8L1764 3354.9L1765 3354.9L1766 3354.9L1767 3355L1768 3355L1769 3355L1770 3355.1L1771 3355.1L1772 3355.1L1773 3355.2L1774 3355.2L1775 3355.2L1776 3355.2L1777 3355.3L1778 3355.3L1779 3355.3L1780 3355.4L1781 3355.4L1782 3355.4L1783 3355.5L1784 3355.5L1785 3355.5L1786 3355.5L1787 3355.6L1788 3355.6L1789 3355.6L1790 3355.7L1791 3355.7L1792 3355.7L1793 3355.8L1794 3355.8L1795 3355.8L1796 3355.9L1797 3355.9L1798 3356L1799 3356L1800 3356L1801 3356.1L1802 3356.1L1803 3356.1L1804 3356.2L1805 3356.2L1806 3356.3L1807 3356.3L1808 3356.3L1809 3356.4L1810 3356.4L1811 3356.4L1812 3356.5L1813 3356.5L1814 3356.5L1815 3356.5L1816 3356.6L1817 3356.6L1818 3356.6L1819 3356.6L1820 3356.6L1821 3356.6L1822 3356.6L1823 3356.6L1824 3356.6L1825 3356.5L1826 3356.4L1827 3356.1L1828 3355.7L1829 3355.1L1830 3354.3L1831 3353.2L1832 3352.5L1832.5 3352.3L1833 3352.5L1834 3353.4L1835 3354.5L1836 3355.4L1837 3356.1L1838 3356.5L1839 3356.9L1840 3357.1L1841 3357.2L1842 3357.3L1843 3357.4L1844 3357.5L1845 3357.6L1846 3357.7L1847 3357.7L1848 3357.8L1849 3357.9L1850 3357.9L1851 3358L1852 3358L1853 3358L1854 3358.1L1855 3358.1L1856 3358.2L1857 3358.2L1858 3358.3L1859 3358.3L1860 3358.3L1861 3358.4L1862 3358.4L1863 3358.5L1864 3358.5L1865 3358.6L1866 3358.6L1867 3358.6L1868 3358.7L1869 3358.7L1870 3358.7L1871 3358.8L1872 3358.8L1873 3358.9L1874 3358.9L1875 3358.9L1876 3359L1877 3359L1878 3359.1L1879 3359.1L1880 3359.1L1881 3359.2L1882 3359.2L1883 3359.2L1884 3359.3L1885 3359.3L1886 3359.4L1887 3359.4L1888 3359.4L1889 3359.5L1890 3359.5L1891 3359.5L1892 3359.6L1893 3359.6L1894 3359.7L1895 3359.7L1896 3359.7L1897 3359.8" stroke="#0000ff" stroke-width="2.2" fill="none" stroke-linejoin="round"/>
<path d="M284 3263.4L309.3 3295.2L334.5 3316.6L352 3329.9L394.8 3330.8L435.1 3325.1L506.3 3321.3L549.1 3311.8L601.3 3298.1L655.9 3290.9L672.5 3291.9L689 3299L716 3308.4L732.9 3312.4L808.2 3317.6L840.3 3319.2L956.4 3322.4L1000.5 3326.4L1136.7 3340.5L1218.9 3342.5L1291 3344.8L1461.6 3344.8L1505 3346.4L1721.5 3354.5L1792 3356.2L1897.5 3360" stroke="#00ff3c" stroke-width="3.8" fill="none" opacity="0.4"/>
<path d="M284 3263.4L309.3 3295.2L334.5 3316.6L352 3329.9L394.8 3330.8L435.1 3325.1L506.3 3321.3L549.1 3311.8L601.3 3298.1L655.9 3290.9L672.5 3291.9L689 3299L716 3308.4L732.9 3312.4L808.2 3317.6L840.3 3319.2L956.4 3322.4L1000.5 3326.4L1136.7 3340.5L1218.9 3342.5L1291 3344.8L1461.6 3344.8L1505 3346.4L1721.5 3354.5L1792 3356.2L1897.5 3360" stroke="#0a5c0a" stroke-width="1.8" fill="none"/>
<rect x="282.2" y="3261.6" width="3.6" height="3.6" fill="#ff00ff"/>
<rect x="307.5" y="3293.4" width="3.6" height="3.6" fill="#ff00ff"/>
<rect x="332.7" y="3314.8" width="3.6" height="3.6" fill="#ff00ff"/>
<rect x="350.2" y="3328.1" width="3.6" height="3.6" fill="#ff00ff"/>
<rect x="393" y="3329" width="3.6" height="3.6" fill="#ff00ff"/>
<rect x="433.3" y="3323.3" width="3.6" height="3.6" fill="#ff00ff"/>
<rect x="504.5" y="3319.5" width="3.6" height="3.6" fill="#ff00ff"/>
<rect x="547.3" y="3310" width="3.6" height="3.6" fill="#ff00ff"/>
<rect x="599.5" y="3296.3" width="3.6" height="3.6" fill="#ff00ff"/>
<rect x="654.1" y="3289.1" width="3.6" height="3.6" fill="#ff00ff"/>
<rect x="670.7" y="3290.1" width="3.6" height="3.6" fill="#ff00ff"/>
<rect x="687.2" y="3297.2" width="3.6" height="3.6" fill="#ff00ff"/>
<rect x="714.2" y="3306.6" width="3.6" height="3.6" fill="#ff00ff"/>
<rect x="731.1" y="3310.6" width="3.6" height="3.6" fill="#ff00ff"/>
<rect x="806.4" y="3315.8" width="3.6" height="3.6" fill="#ff00ff"/>
<rect x="838.5" y="3317.4" width="3.6" height="3.6" fill="#ff00ff"/>
<rect x="954.6" y="3320.6" width="3.6" height="3.6" fill="#ff00ff"/>
<rect x="998.7" y="3324.6" width="3.6" height="3.6" fill="#ff00ff"/>
<rect x="1134.9" y="3338.7" width="3.6" height="3.6" fill="#ff00ff"/>
<rect x="1217.1" y="3340.7" width="3.6" height="3.6" fill="#ff00ff"/>
<rect x="1289.2" y="3343" width="3.6" height="3.6" fill="#ff00ff"/>
<rect x="1459.8" y="3343" width="3.6" height="3.6" fill="#ff00ff"/>
<rect x="1503.2" y="3344.6" width="3.6" height="3.6" fill="#ff00ff"/>
<rect x="1719.7" y="3352.7" width="3.6" height="3.6" fill="#ff00ff"/>
<rect x="1790.2" y="3354.4" width="3.6" height="3.6" fill="#ff00ff"/>
<rect x="1895.7" y="3358.2" width="3.6" height="3.6" fill="#ff00ff"/>
<rect x="434.2" y="3325" width="3.7" height="55" fill="#ff00ff"/>
<rect x="545.4" y="3309" width="3.7" height="71" fill="#ff00ff"/>
<rect x="552" y="3309" width="3.7" height="71" fill="#00ff3c"/>
<rect x="586.1" y="3298" width="3.7" height="82" fill="#ff00ff"/>
<rect x="589.8" y="3258.6" width="3.7" height="121.4" fill="#00ff3c"/>
<rect x="616.4" y="3286" width="3.7" height="94" fill="#ff00ff"/>
<rect x="738.2" y="3310.4" width="3.7" height="69.6" fill="#00ff3c"/>
<rect x="751.9" y="3296.4" width="3.7" height="83.6" fill="#0000ff"/>
<rect x="773.9" y="3285.6" width="2.9" height="94.4" fill="#ff8a30"/>
<rect x="801.5" y="3312.5" width="3.7" height="67.5" fill="#ff00ff"/>
<rect x="813.5" y="3312.5" width="3.7" height="67.5" fill="#00ff3c"/>
<rect x="815.8" y="3313" width="3.7" height="67" fill="#ff00ff"/>
<rect x="869.6" y="3262.3" width="2.9" height="117.7" fill="#ff8a30"/>
<rect x="881.2" y="3311" width="3.7" height="69" fill="#00ff3c"/>
<rect x="885.2" y="2590" width="3.7" height="790" fill="#0000ff"/>
<rect x="887" y="3220.3" width="3.7" height="159.7" fill="#ff00ff"/>
<rect x="901.8" y="3162.2" width="3.7" height="217.8" fill="#00ff3c"/>
<rect x="906.6" y="3300" width="3.7" height="80" fill="#ff00ff"/>
<rect x="908.6" y="3268" width="3.7" height="112" fill="#ff00ff"/>
<rect x="911.2" y="3215" width="2.6" height="165" fill="#ff00ff"/>
<rect x="927.8" y="3314.4" width="3.7" height="65.6" fill="#ff00ff"/>
<rect x="942.5" y="3319" width="3.7" height="61" fill="#00ff3c"/>
<rect x="952.9" y="3310.5" width="3.7" height="69.5" fill="#ff00ff"/>
<rect x="979" y="3298.4" width="3.7" height="81.6" fill="#ff00ff"/>
<rect x="998.5" y="3084" width="4" height="296" fill="#0000ff"/>
<rect x="1018.8" y="3317.6" width="3.7" height="62.4" fill="#00ff3c"/>
<rect x="1172.1" y="3312.4" width="2.9" height="67.6" fill="#ff8a30"/>
<rect x="1194.2" y="3340.5" width="3.7" height="39.5" fill="#0000ff"/>
<rect x="1206.2" y="3340.5" width="3.7" height="39.5" fill="#00ff3c"/>
<rect x="1219.9" y="3316.6" width="3.7" height="63.4" fill="#00ff3c"/>
<rect x="1250.2" y="3340" width="3.7" height="40" fill="#00ff3c"/>
<rect x="1295.2" y="3338" width="3.7" height="42" fill="#00ff3c"/>
<rect x="1310.2" y="3335.6" width="3.7" height="44.4" fill="#00ff3c"/>
<rect x="1339" y="3340" width="3.7" height="40" fill="#00ff3c"/>
<rect x="1355.6" y="3338" width="2.9" height="42" fill="#ff8a30"/>
<rect x="1363.2" y="3223.5" width="4" height="156.5" fill="#0000ff"/>
<rect x="1395.9" y="3340" width="3.7" height="40" fill="#00ff3c"/>
<rect x="1414.1" y="3338.3" width="2.9" height="41.7" fill="#ff8a30"/>
<rect x="1441.9" y="3342" width="3.7" height="38" fill="#0000ff"/>
<rect x="1476" y="3319.3" width="3.7" height="60.7" fill="#00ff3c"/>
<rect x="1517.7" y="3343" width="3.7" height="37" fill="#0000ff"/>
<rect x="1542.1" y="3343" width="3.7" height="37" fill="#00ff3c"/>
<rect x="1591.2" y="3266.8" width="4" height="113.2" fill="#0000ff"/>
<rect x="1617.9" y="3343" width="3.7" height="37" fill="#00ff3c"/>
<rect x="1629.1" y="3345" width="2.9" height="35" fill="#ff8a30"/>
<rect x="1633.1" y="3345" width="3.7" height="35" fill="#00ff3c"/>
<rect x="1662.7" y="3324.7" width="4" height="55.3" fill="#0000ff"/>
<rect x="1707.2" y="3352" width="3.7" height="28" fill="#00ff3c"/>
<rect x="1767.4" y="3353" width="3.7" height="27" fill="#00ff3c"/>
<rect x="1781.2" y="3354" width="2.9" height="26" fill="#ff8a30"/>
<rect x="1801" y="3355" width="3.7" height="25" fill="#0000ff"/>
<rect x="1831" y="3350" width="2.9" height="30" fill="#ff8a30"/>
<rect x="751.2" y="3415.6" width="2.2" height="10.2" fill="#0000ff"/>
<rect x="884.4" y="3415.6" width="2.2" height="10.2" fill="#0000ff"/>
<rect x="997.4" y="3415.6" width="2.2" height="10.2" fill="#0000ff"/>
<rect x="1191.5" y="3415.6" width="2.2" height="10.2" fill="#0000ff"/>
<rect x="1361.9" y="3415.6" width="2.2" height="10.2" fill="#0000ff"/>
<rect x="1440.5" y="3415.6" width="2.2" height="10.2" fill="#0000ff"/>
<rect x="1516.3" y="3415.6" width="2.2" height="10.2" fill="#0000ff"/>
<rect x="1589.4" y="3415.6" width="2.2" height="10.2" fill="#0000ff"/>
<rect x="1661.9" y="3415.6" width="2.2" height="10.2" fill="#0000ff"/>
<rect x="1800" y="3415.6" width="2.2" height="10.2" fill="#0000ff"/>
<rect x="414.1" y="3425.8" width="2.2" height="9.7" fill="#00ff3c"/>
<rect x="558" y="3425.8" width="2.2" height="9.7" fill="#00ff3c"/>
<rect x="590.3" y="3425.8" width="2.2" height="9.7" fill="#00ff3c"/>
<rect x="654.9" y="3425.8" width="2.2" height="9.7" fill="#00ff3c"/>
<rect x="742" y="3425.8" width="2.2" height="9.7" fill="#00ff3c"/>
<rect x="776.1" y="3425.8" width="2.2" height="9.7" fill="#00ff3c"/>
<rect x="814.2" y="3425.8" width="2.2" height="9.7" fill="#00ff3c"/>
<rect x="823.2" y="3425.8" width="2.2" height="9.7" fill="#00ff3c"/>
<rect x="883.9" y="3425.8" width="2.2" height="9.7" fill="#00ff3c"/>
<rect x="902" y="3425.8" width="2.2" height="9.7" fill="#00ff3c"/>
<rect x="910.2" y="3425.8" width="2.2" height="9.7" fill="#00ff3c"/>
<rect x="949.2" y="3425.8" width="2.2" height="9.7" fill="#00ff3c"/>
<rect x="963.3" y="3425.8" width="2.2" height="9.7" fill="#00ff3c"/>
<rect x="1018.9" y="3425.8" width="2.2" height="9.7" fill="#00ff3c"/>
<rect x="1054.4" y="3425.8" width="2.2" height="9.7" fill="#00ff3c"/>
<rect x="1062" y="3425.8" width="2.2" height="9.7" fill="#00ff3c"/>
<rect x="1107.5" y="3425.8" width="2.2" height="9.7" fill="#00ff3c"/>
<rect x="1121.1" y="3425.8" width="2.2" height="9.7" fill="#00ff3c"/>
<rect x="1129.9" y="3425.8" width="2.2" height="9.7" fill="#00ff3c"/>
<rect x="1155.6" y="3425.8" width="2.2" height="9.7" fill="#00ff3c"/>
<rect x="1203.9" y="3425.8" width="2.2" height="9.7" fill="#00ff3c"/>
<rect x="1216.8" y="3425.8" width="2.2" height="9.7" fill="#00ff3c"/>
<rect x="1224.5" y="3425.8" width="2.2" height="9.7" fill="#00ff3c"/>
<rect x="1249.8" y="3425.8" width="2.2" height="9.7" fill="#00ff3c"/>
<rect x="1255.8" y="3425.8" width="2.2" height="9.7" fill="#00ff3c"/>
<rect x="1294.7" y="3425.8" width="2.2" height="9.7" fill="#00ff3c"/>
<rect x="1306.5" y="3425.8" width="4" height="9.7" fill="#00ff3c"/>
<rect x="1343" y="3425.8" width="2.2" height="9.7" fill="#00ff3c"/>
<rect x="1353.3" y="3425.8" width="2.2" height="9.7" fill="#00ff3c"/>
<rect x="1364.1" y="3425.8" width="2.2" height="9.7" fill="#00ff3c"/>
<rect x="1415.5" y="3425.8" width="2.2" height="9.7" fill="#00ff3c"/>
<rect x="1420.4" y="3425.8" width="2.2" height="9.7" fill="#00ff3c"/>
<rect x="1425.8" y="3425.8" width="2.2" height="9.7" fill="#00ff3c"/>
<rect x="1442.6" y="3425.8" width="2.2" height="9.7" fill="#00ff3c"/>
<rect x="1464.3" y="3425.8" width="2.2" height="9.7" fill="#00ff3c"/>
<rect x="1475.7" y="3425.8" width="2.2" height="9.7" fill="#00ff3c"/>
<rect x="1480" y="3425.8" width="2.2" height="9.7" fill="#00ff3c"/>
<rect x="1496.8" y="3425.8" width="2.2" height="9.7" fill="#00ff3c"/>
<rect x="1501.7" y="3425.8" width="2.2" height="9.7" fill="#00ff3c"/>
<rect x="1522.2" y="3425.8" width="2.2" height="9.7" fill="#00ff3c"/>
<rect x="1541.7" y="3425.8" width="2.2" height="9.7" fill="#00ff3c"/>
<rect x="1551.5" y="3425.8" width="2.2" height="9.7" fill="#00ff3c"/>
<rect x="1578.6" y="3425.8" width="2.2" height="9.7" fill="#00ff3c"/>
<rect x="1583.4" y="3425.8" width="2.2" height="9.7" fill="#00ff3c"/>
<rect x="1599.1" y="3425.8" width="2.2" height="9.7" fill="#00ff3c"/>
<rect x="1617.5" y="3425.8" width="2.2" height="9.7" fill="#00ff3c"/>
<rect x="1626.7" y="3425.8" width="2.2" height="9.7" fill="#00ff3c"/>
<rect x="1632.7" y="3425.8" width="2.2" height="9.7" fill="#00ff3c"/>
<rect x="1649" y="3425.8" width="2.2" height="9.7" fill="#00ff3c"/>
<rect x="1659.8" y="3425.8" width="2.2" height="9.7" fill="#00ff3c"/>
<rect x="1677.1" y="3425.8" width="2.2" height="9.7" fill="#00ff3c"/>
<rect x="1703.1" y="3425.8" width="2.2" height="9.7" fill="#00ff3c"/>
<rect x="1723.2" y="3425.8" width="2.2" height="9.7" fill="#00ff3c"/>
<rect x="1727.5" y="3425.8" width="2.2" height="9.7" fill="#00ff3c"/>
<rect x="1732.4" y="3425.8" width="2.2" height="9.7" fill="#00ff3c"/>
<rect x="1742.1" y="3425.8" width="2.2" height="9.7" fill="#00ff3c"/>
<rect x="1746.4" y="3425.8" width="2.2" height="9.7" fill="#00ff3c"/>
<rect x="1765.4" y="3425.8" width="2.2" height="9.7" fill="#00ff3c"/>
<rect x="1774.6" y="3425.8" width="2.2" height="9.7" fill="#00ff3c"/>
<rect x="1794.6" y="3425.8" width="2.2" height="9.7" fill="#00ff3c"/>
<rect x="1814.1" y="3425.8" width="2.2" height="9.7" fill="#00ff3c"/>
<rect x="1819.5" y="3425.8" width="2.2" height="9.7" fill="#00ff3c"/>
<rect x="1846.1" y="3425.8" width="2.2" height="9.7" fill="#00ff3c"/>
<rect x="1851.5" y="3425.8" width="2.2" height="9.7" fill="#00ff3c"/>
<rect x="1865.6" y="3425.8" width="2.2" height="9.7" fill="#00ff3c"/>
<rect x="1870.4" y="3425.8" width="2.2" height="9.7" fill="#00ff3c"/>
<rect x="1875.3" y="3425.8" width="2.2" height="9.7" fill="#00ff3c"/>
<rect x="1888.3" y="3425.8" width="2.2" height="9.7" fill="#00ff3c"/>
<rect x="773.5" y="3435.5" width="2.2" height="10.9" fill="#ff8000"/>
<rect x="869.3" y="3435.5" width="2.2" height="10.9" fill="#ff8000"/>
<rect x="1169.7" y="3435.5" width="2.2" height="10.9" fill="#ff8000"/>
<rect x="1354.4" y="3435.5" width="2.2" height="10.9" fill="#ff8000"/>
<rect x="1411.8" y="3435.5" width="2.2" height="10.9" fill="#ff8000"/>
<rect x="1626.7" y="3435.5" width="2.2" height="10.9" fill="#ff8000"/>
<rect x="1776.8" y="3435.5" width="2.2" height="10.9" fill="#ff8000"/>
<rect x="1826" y="3435.5" width="2.2" height="10.9" fill="#ff8000"/>
<path d="M284 3499.5H1897" stroke="#d8d8d8" stroke-width="1" stroke-dasharray="2 2"/>
<path d="M284 3494.2L285 3494.7L286 3494.2L287 3491.1L288 3497.8L289 3498.2L290 3499L291 3504.7L292 3492.7L293 3496.3L294 3496.9L295 3499.9L296 3495.7L297 3494.5L298 3492.3L299 3497.2L300 3502.6L301 3496.4L302 3496.9L303 3497.4L304 3494.6L305 3489.1L306 3496.5L307 3490.7L308 3497.5L309 3492.6L310 3498L311 3500.8L312 3496.1L313 3492.4L314 3494.1L315 3495.2L316 3492.2L317 3494L318 3498.6L319 3499.3L320 3501.3L321 3493.6L322 3493.1L323 3495.7L324 3496.2L325 3499.7L326 3494L327 3500.8L328 3501.6L329 3500.8L330 3497.2L331 3491.8L332 3490.6L333 3497.6L334 3496.2L335 3502.5L336 3499.8L337 3493.6L338 3499.2L339 3496.8L340 3497L341 3498.9L342 3492.7L343 3491.5L344 3499.7L345 3493.5L346 3491.8L347 3490.8L348 3490.6L349 3492.7L350 3493.1L351 3491.7L352 3492.8L353 3496.2L354 3489.3L355 3492.4L356 3494L357 3489.5L358 3497.4L359 3497L360 3495.8L361 3497.6L362 3497.4L363 3495.3L364 3494.9L365 3491.6L366 3495.8L367 3496.7L368 3493L369 3496.9L370 3500.9L371 3493.6L372 3500.9L373 3501.7L374 3501.4L375 3497.2L376 3501.9L377 3497.3L378 3498.6L379 3495.2L380 3491.9L381 3496.8L382 3501L383 3493.8L384 3495.2L385 3493.8L386 3492.4L387 3493.8L388 3498.7L389 3502.1L390 3500.4L391 3498.5L392 3499.6L393 3494.8L394 3496.6L395 3494.9L396 3497.1L397 3491.8L398 3496.8L399 3496L400 3497.2L401 3497.6L402 3501.6L403 3497.6L404 3492L405 3498.4L406 3500.1L407 3496.2L408 3500.1L409 3501.3L410 3494.3L411 3492.7L412 3491.3L413 3499.5L414 3491.8L415 3491.6L416 3495.7L417 3499.4L418 3500.9L419 3498.9L420 3499.1L421 3500.4L422 3499L423 3496.1L424 3496.5L425 3497.9L426 3498.4L427 3497.1L428 3493.5L429 3495L430 3497.3L431 3492.6L432 3492.1L433 3495.8L434 3497.9L435 3495.7L436 3494.4L437 3494.9L438 3493.7L439 3492.9L440 3488.4L441 3492L442 3499.3L443 3494.3L444 3492.9L445 3496L446 3497.6L447 3503.2L448 3496.6L449 3497.4L450 3493.3L451 3492.1L452 3492L453 3494.2L454 3496.8L455 3497L456 3493.8L457 3495.4L458 3492.1L459 3492.9L460 3491.4L461 3494.1L462 3496.9L463 3503.9L464 3497.2L465 3498.9L466 3498.9L467 3497.4L468 3495.4L469 3493.2L470 3496.3L471 3495L472 3496.5L473 3500.1L474 3493.4L475 3500.7L476 3496.6L477 3499.3L478 3499.4L479 3497.8L480 3499.4L481 3502.4L482 3499.4L483 3501.5L484 3505.1L485 3500.5L486 3496.2L487 3495.9L488 3498L489 3500.9L490 3492.7L491 3495.5L492 3495.2L493 3502.1L494 3496.1L495 3499.3L496 3498.5L497 3501L498 3504.3L499 3499.3L500 3494.1L501 3500.4L502 3496.3L503 3497.6L504 3499.5L505 3493.3L506 3493.8L507 3496.5L508 3494.8L509 3502.1L510 3494.7L511 3498.9L512 3495.7L513 3496.8L514 3494.5L515 3497.9L516 3501.3L517 3500.6L518 3498.3L519 3490.8L520 3495.8L521 3490.6L522 3498.1L523 3494.3L524 3490.1L525 3489.6L526 3494.6L527 3493.4L528 3496L529 3492.6L530 3497.9L531 3502.2L532 3499L533 3494.5L534 3491.8L535 3492.2L536 3498.3L537 3494.7L538 3490.7L539 3502.6L540 3503.4L541 3503.7L542 3496.7L543 3498.7L544 3494.3L545 3494L546 3497.4L547 3493L548 3494.9L549 3491.3L550 3497.2L551 3495.1L552 3496.2L553 3496.8L554 3493.6L555 3493.2L556 3491.9L557 3486.1L558 3492.8L559 3497.3L560 3499.9L561 3497.3L562 3499.5L563 3494.6L564 3495L565 3489.7L566 3491.9L567 3496.3L568 3491.5L569 3494.1L570 3503L571 3501.2L572 3498.2L573 3500.8L574 3500.2L575 3495.8L576 3505.3L577 3502.7L578 3501.7L579 3501.5L580 3495.4L581 3495.3L582 3498.3L583 3495.6L584 3495.9L585 3494.2L586 3493.8L587 3498.9L588 3495.4L589 3500.2L590 3499.3L591 3492.3L591.5 3491.8L592 3492.2L593 3498.7L594 3495.8L595 3498.6L596 3500.9L597 3498.5L598 3494.1L599 3495.6L600 3498.2L601 3496.1L602 3497.9L603 3494.1L604 3490.7L605 3492.3L606 3495.1L607 3490.2L608 3494.6L609 3493.2L610 3489.8L611 3494.6L612 3500.1L613 3492.5L614 3502.3L615 3498.5L616 3494L617 3496.1L618 3490.3L619 3494.8L620 3496.2L621 3488.5L622 3487.2L623 3489.4L624 3492.3L625 3495.6L626 3494.9L627 3493.1L628 3497.2L629 3498.2L630 3497L631 3495.3L632 3492.5L633 3494.7L634 3501.2L635 3500.3L636 3501.7L637 3494L638 3497L639 3493L640 3497.3L641 3498.3L642 3499L643 3502.1L644 3497.7L645 3501.4L646 3499.4L647 3496.3L648 3496L649 3499.2L650 3496.2L651 3498.9L652 3498.3L653 3495.5L654 3488.6L655 3494.3L656 3499.1L657 3496.5L658 3499.2L659 3494.7L660 3499.6L661 3503.1L662 3499.8L663 3499.7L664 3493.8L665 3500.7L666 3496.3L667 3498.8L668 3504.2L669 3500.7L670 3499L671 3499L672 3495.2L673 3494.4L674 3499.7L675 3495.3L676 3495.5L677 3492.1L678 3495.7L679 3493.2L680 3495L681 3495.3L682 3495.9L683 3494L684 3494.6L685 3499.4L686 3500.3L687 3499.7L688 3499.4L689 3492.4L690 3494.6L691 3497.1L692 3498.2L693 3499.4L694 3493.7L695 3497.2L696 3495.4L697 3497.4L698 3502.9L699 3500.6L700 3498.1L701 3494.5L702 3498.9L703 3491L704 3492.1L705 3486.9L706 3492.3L707 3492.3L708 3493.1L709 3491.8L710 3501.1L711 3500.7L712 3500.5L713 3495.6L714 3498.4L715 3496.8L716 3495.1L717 3490.7L718 3494.4L719 3487.2L720 3490.5L721 3486.7L722 3494L723 3497.2L724 3499.4L725 3493L726 3498.6L727 3503.3L728 3496.8L729 3493.5L730 3493.1L731 3492.8L732 3497.3L733 3494.3L734 3496.5L735 3495.8L736 3492.8L737 3494.7L738 3495.1L739 3496.3L740 3496.8L741 3495.1L742 3497.3L743 3491L744 3492.8L745 3499.4L746 3498.5L747 3496L748 3493.9L749 3493.5L750 3495L751 3489.8L752 3492.8L753 3494.3L754 3488.9L755 3488.4L756 3493L757 3494.2L758 3501.5L759 3504.5L760 3489.4L761 3491.7L762 3498.2L763 3497.8L764 3501L765 3501.5L766 3497.3L767 3499.8L768 3497L769 3492.1L770 3494.9L771 3499.8L772 3500.1L773 3496.2L774 3500.7L775 3502.1L775.5 3502.5L776 3492.3L777 3492.2L778 3492.5L779 3492.6L780 3488.1L781 3490.8L782 3497.5L783 3492.8L784 3501.5L785 3494.5L786 3496.5L787 3495.1L788 3491.5L789 3494.6L790 3495.5L791 3495L792 3498.9L793 3498.6L794 3491.1L795 3497.7L796 3492.8L797 3487.7L798 3494.8L799 3498.4L800 3493.1L801 3494.6L802 3492.7L803 3496.3L804 3493.7L805 3495.5L806 3491.2L807 3495.4L808 3495.4L809 3503.5L810 3502.5L811 3495.8L812 3491.4L813 3496.5L814 3493L815 3497L816 3499.3L817 3501.6L818 3502.5L819 3502L820 3497.9L821 3496.7L822 3497.1L823 3501.6L824 3496.8L825 3496.1L826 3498.9L827 3493.4L828 3493.8L829 3495.6L830 3494.6L831 3493.9L832 3496.8L833 3493.9L834 3497.5L835 3496.2L836 3491.6L837 3486.4L838 3489.8L839 3495.8L840 3495.8L841 3494.5L842 3495.6L843 3497.6L844 3496.4L845 3493.5L846 3500.1L847 3498.3L848 3499L849 3495.8L850 3496.4L851 3499.3L852 3493.5L853 3493.2L854 3492.6L855 3489.7L856 3497.5L857 3490.8L858 3493.7L859 3490.4L860 3490.5L861 3489.3L862 3488.3L863 3487.5L864 3478.1L865 3477.7L866 3479.3L867 3482.7L867.3 3479.1L868 3478.5L869 3487.5L870 3492.3L871 3491.7L872 3495.7L873 3499.5L874 3511.8L875 3512.6L876 3516.4L877 3525.9L878 3517.5L879 3501.7L880 3492.7L881 3475.1L882 3467.5L883 3454.8L884 3441.9L885 3422.4L886 3417.3L886.2 3414.4L886.6 3419.7L887 3420.6L888 3438.9L889 3447.2L890 3460.2L891 3468.9L892 3478L893 3490.8L894 3501.1L895 3508.6L896 3508.7L897 3516.4L898 3516.6L898.2 3519.1L899 3509L900 3506.3L900.5 3503.6L901 3496.3L902 3484.7L902.2 3483.8L903 3498.9L903.6 3504.7L904 3509.7L905 3516.9L906 3526L907 3522.9L908 3517.8L909 3506.9L910 3510.4L911 3506.7L911.5 3508.9L912 3505.3L913 3507.2L914 3504.1L915 3501.9L916 3503.1L917 3497.6L918 3503.4L919 3501.4L920 3500L921 3496.4L922 3499.6L923 3495.1L924 3499.5L925 3494.6L926 3495.2L927 3492.5L928 3493.8L929 3496.6L930 3492.6L931 3488.8L932 3489.6L933 3488.1L934 3490.8L935 3486.8L936 3487.7L937 3492.1L938 3491.9L939 3488.1L940 3488.7L941 3491L942 3493.6L943 3489.1L944 3491.1L945 3488.7L946 3485.8L947 3493.2L948 3494.5L949 3495L950 3496.1L951 3492.7L952 3496.7L953 3496.6L954 3491.5L955 3490.8L956 3486.7L957 3484.3L958 3491.7L959 3494.1L960 3490.3L961 3493L962 3492L963 3486.5L964 3491.2L965 3492.4L966 3493L967 3488.5L968 3484.6L969 3488.5L970 3492.2L971 3500.4L972 3486.2L973 3486.1L974 3490.4L975 3490.4L976 3491L977 3483L978 3479.5L979 3483.6L980 3475.7L981 3477L982 3473.1L983 3476.5L984 3475.7L985 3479.5L986 3474L987 3475.9L988 3471.9L988.3 3468.5L989 3465.4L990 3472.5L991 3472.6L992 3481.8L993 3488.9L994 3500.3L995 3512L996 3513.6L997 3527.6L998 3542.3L999 3556L1000 3566.7L1000.4 3575.7L1000.5 3574.7L1001 3569.9L1002 3562.3L1003 3545.1L1004 3541.1L1005 3530.3L1006 3516.9L1007 3513.5L1008 3508.9L1009 3505.9L1010 3501.8L1011 3495.1L1012 3498.7L1013 3499L1014 3497.8L1015 3496.7L1016 3501.4L1017 3496L1018 3501.9L1019 3503.6L1020 3499.3L1020.6 3493.6L1021 3494L1022 3501.2L1023 3503.9L1024 3502L1025 3504.4L1026 3503.6L1027 3498.8L1028 3496.6L1029 3500.4L1030 3503.4L1031 3494.3L1032 3498.1L1033 3496.4L1034 3493.5L1035 3496.6L1036 3500.3L1037 3502.5L1038 3503.2L1039 3505.1L1040 3502.8L1041 3499.5L1042 3508.5L1043 3511.6L1044 3502.2L1045 3499.4L1046 3497.5L1047 3501.2L1048 3502.2L1049 3499.8L1050 3502.1L1051 3503L1052 3504L1053 3502.8L1054 3501.1L1055 3501.6L1056 3495.5L1057 3498.8L1058 3494.9L1059 3500.2L1060 3503L1061 3502.4L1062 3501.4L1063 3508.3L1064 3509L1065 3509.2L1066 3505.9L1067 3507.4L1068 3504.5L1069 3506.8L1070 3499.3L1071 3503.9L1072 3498.6L1073 3501.8L1074 3503.8L1075 3508.3L1076 3504.9L1077 3501.9L1078 3505L1079 3506.8L1080 3506.1L1081 3503.6L1082 3505.7L1083 3501.2L1084 3503.1L1085 3501.6L1086 3505.7L1087 3501.5L1088 3506.9L1089 3509.9L1090 3505.8L1091 3500L1092 3503.7L1093 3502L1094 3502.9L1095 3504.7L1096 3504.8L1097 3504.2L1098 3497.4L1099 3500.5L1100 3499L1101 3501.9L1102 3493.1L1103 3495.2L1104 3496.9L1105 3493.8L1106 3498.5L1107 3501.1L1108 3502.2L1109 3499.3L1110 3497L1111 3501.7L1112 3497.1L1113 3502.9L1114 3501.8L1115 3497.4L1116 3501.2L1117 3501.8L1118 3491.7L1119 3494.1L1120 3493.6L1121 3493.4L1122 3499.4L1123 3499.6L1124 3502.5L1125 3499.5L1126 3494.8L1127 3490.8L1128 3493.3L1129 3494.3L1130 3491.7L1131 3489.9L1132 3492.7L1132.6 3491.4L1133 3496.9L1134 3491.2L1135 3493.5L1136 3493.3L1137 3499.8L1138 3493.7L1139 3490.5L1140 3492.1L1141 3490.9L1142 3495.9L1143 3496.4L1144 3495.2L1145 3493.5L1146 3486L1147 3487.2L1148 3489.6L1149 3489.1L1150 3494.8L1151 3499.6L1152 3493.7L1153 3490.1L1154 3492.6L1155 3498.5L1156 3494.3L1157 3490.4L1158 3493.4L1159 3488.4L1160 3487.2L1161 3491.5L1162 3488.3L1163 3490.5L1164 3490.7L1165 3487.5L1166 3491.6L1167 3497.8L1168 3495.3L1169 3490.1L1170 3488.8L1171 3491.7L1172 3489.7L1173 3488.5L1173.6 3487L1174 3488.9L1174.7 3489.7L1175 3489L1176 3491.8L1177 3493.7L1178 3496.7L1179 3494.4L1180 3494.2L1181 3494.5L1182 3492.1L1183 3495.4L1184 3488L1185 3493.3L1186 3492L1187 3493.9L1188 3498.3L1189 3499.6L1190 3502.3L1191 3488.3L1192 3495.3L1193 3494.3L1194 3498.9L1195 3494.8L1196 3497L1197 3494.4L1198 3494.5L1199 3491.4L1200 3495.2L1201 3494.3L1202 3494.2L1203 3501.7L1204 3496L1205 3500.3L1206 3497.3L1207 3496.2L1208 3497.3L1209 3495.7L1210 3504.7L1211 3496.5L1212 3495.8L1213 3496.8L1214 3500.7L1215 3500.9L1216 3501L1217 3498.7L1218 3499.9L1219 3504.3L1220 3506.9L1221 3500.6L1221.7 3494.4L1222 3502.6L1223 3503.4L1224 3504.7L1225 3501.1L1226 3504.8L1227 3507L1228 3510.9L1228.7 3515.7L1229 3510.4L1230 3508L1231 3506.1L1232 3505.9L1233 3497.2L1234 3499.8L1235 3499.9L1236 3506.6L1237 3506L1238 3500.3L1239 3498.8L1240 3496.9L1241 3494.2L1242 3498.9L1243 3501.4L1244 3497.5L1245 3490.7L1246 3494.6L1247 3498.7L1248 3496.5L1249 3492.4L1250 3493.8L1251 3502.2L1252 3498.3L1253 3498L1254 3493.3L1255 3494.5L1256 3490.8L1257 3494L1258 3488.1L1259 3486.2L1260 3497L1261 3493L1262 3495.6L1263 3491.7L1264 3494.8L1265 3489.5L1266 3487.2L1267 3493.9L1268 3494.1L1269 3485L1270 3486L1271 3489.1L1272 3494.8L1273 3491.8L1274 3490.1L1275 3485.4L1276 3492L1277 3492.6L1278 3484L1279 3487.5L1280 3478.7L1281 3484.2L1282 3483.2L1283 3486.3L1284 3482L1285 3486.8L1286 3482.9L1287 3484.4L1288 3483.4L1289 3482.7L1290 3489.5L1291 3488.4L1292 3492.2L1293 3488.6L1294 3488.9L1295 3492.4L1296 3488.7L1297 3486.4L1298 3484L1299 3484.3L1300 3489L1301 3489.4L1302 3488L1303 3488.8L1304 3490.8L1305 3491.6L1306 3486.2L1307 3484.5L1308 3492.4L1309 3489.4L1310 3490.9L1311 3487.3L1312 3484.2L1313 3484.5L1314 3490.6L1315 3488L1316 3492.3L1317 3492.7L1318 3487.1L1319 3486.9L1320 3490.8L1321 3496.5L1322 3496.4L1323 3487L1324 3493.1L1325 3492.9L1326 3494.8L1327 3498.3L1328 3493.7L1329 3499.1L1330 3497.4L1331 3494.8L1332 3499.2L1333 3496.3L1334 3495.9L1335 3496.8L1336 3501.6L1337 3505.6L1338 3502.6L1339 3510.3L1340 3506.5L1341 3508L1342 3508.5L1343 3508.2L1344 3504.9L1345 3508.2L1346 3507.6L1347 3507.6L1348 3507.4L1349 3513L1350 3513.6L1351 3516.9L1352 3516.6L1353 3515.4L1354 3516.9L1354.4 3524.6L1355 3523.1L1356 3519.3L1357 3516.9L1358 3508.5L1359 3509.9L1360 3500.8L1361 3499.2L1362 3496.8L1363 3494.4L1364 3487.9L1365 3493.4L1365.2 3486.6L1366 3490.4L1366.8 3489.1L1367 3488.8L1368 3487.4L1369 3486.3L1370 3485.2L1371 3492.2L1372 3488.5L1373 3486.5L1374 3491.4L1375 3497.1L1376 3488.7L1377 3489.5L1378 3489.7L1379 3486.9L1380 3485.6L1381 3490.8L1382 3490.6L1383 3493.6L1384 3487.6L1385 3486.4L1386 3487.3L1387 3489.8L1388 3491.8L1389 3490.5L1390 3485.1L1391 3487L1392 3495.8L1393 3491.7L1394 3493.7L1395 3491.9L1396 3494.1L1397 3496.1L1398 3488.6L1399 3491.2L1400 3497.4L1401 3492.6L1402 3491.4L1403 3493.8L1404 3496L1405 3490.6L1406 3496.4L1407 3495.6L1408 3495.6L1409 3496.4L1410 3495.5L1411 3498.5L1412 3496.1L1413 3496.6L1414 3495.4L1415 3496.1L1415.6 3496L1416 3491.7L1417 3496.6L1418 3492.2L1419 3496.3L1420 3496.8L1421 3492.6L1422 3494.6L1423 3494.2L1424 3495.7L1425 3492.8L1426 3497.7L1427 3497L1428 3499.6L1429 3495.4L1430 3493.6L1431 3496.3L1432 3491.6L1433 3492.5L1434 3499.2L1435 3495.1L1436 3496.4L1437 3492.4L1438 3498.2L1439 3493.6L1440 3492L1441 3495.9L1442 3493.3L1443 3489.2L1444 3490.7L1445 3495.6L1446 3495L1447 3497.8L1448 3499.9L1449 3500L1450 3503L1451 3499.9L1452 3502.4L1453 3498.5L1454 3502.1L1455 3502.1L1456 3502.4L1457 3509.1L1458 3502.8L1459 3501.4L1460 3502L1461 3502.3L1462 3501.5L1463 3501.4L1464 3499.1L1465 3496.7L1466 3493.6L1467 3496.6L1468 3495.5L1469 3492.3L1470 3500.9L1471 3502.5L1472 3500.5L1473 3495.3L1474 3497.3L1475 3498.1L1476 3496.3L1477 3501.8L1477.8 3502.5L1478 3495.8L1479 3498.4L1480 3492.9L1481 3497.8L1482 3500.4L1483 3503.7L1484 3492.6L1485 3501.6L1486 3496.9L1487 3500.2L1488 3496.2L1489 3498.1L1490 3500.4L1491 3499.2L1492 3501.3L1493 3498.8L1494 3497.3L1495 3496.8L1496 3494.4L1497 3498.8L1498 3498.4L1499 3505.3L1500 3501.5L1501 3505.4L1502 3494.4L1503 3500.5L1504 3501.9L1505 3505.4L1506 3508L1507 3504.1L1508 3506.4L1509 3500L1510 3496.9L1511 3500.1L1512 3498.1L1513 3499.8L1514 3493.9L1515 3493.3L1516 3494.2L1517 3493L1518 3495.3L1519 3502.1L1520 3494L1521 3495.9L1522 3490.8L1523 3484.5L1524 3481.9L1525 3482.2L1526 3478.4L1527 3483.5L1528 3487.8L1529 3480.3L1530 3483.6L1531 3481.8L1532 3489.4L1533 3492.2L1534 3490.2L1535 3488.7L1536 3486.3L1537 3486.1L1538 3491.9L1539 3490.5L1540 3488.9L1541 3493.6L1542 3490.1L1543 3489.4L1544 3486.8L1545 3482L1546 3486L1547 3485.7L1548 3489.7L1549 3483.7L1550 3481.9L1551 3485.7L1552 3484.6L1553 3484.8L1554 3486.5L1555 3484L1556 3486L1557 3493L1558 3489.8L1559 3487.2L1560 3488.1L1561 3485.7L1562 3488.5L1563 3491L1564 3487.1L1565 3485.9L1566 3488.8L1567 3482.7L1568 3490.3L1569 3486L1570 3481.1L1571 3486.4L1572 3485.1L1573 3484.2L1574 3485.4L1575 3489.6L1576 3493.3L1577 3487.8L1578 3492L1579 3491L1580 3493.4L1581 3497.5L1582 3498.7L1583 3502.5L1584 3497.8L1585 3500.1L1586 3502.4L1587 3500.7L1588 3500L1589 3498.3L1590 3498.4L1591 3509.6L1591.6 3506L1592 3506.4L1593 3506.5L1593.2 3504.5L1594 3505L1595 3505.9L1596 3501.9L1597 3505.9L1598 3503.6L1599 3500.1L1600 3499.2L1601 3502.9L1602 3504.9L1603 3498.5L1604 3499.1L1605 3495.8L1606 3493.3L1607 3495.4L1608 3497.3L1609 3502.9L1610 3495.7L1611 3492.2L1612 3488.1L1613 3488.7L1614 3495L1615 3496.9L1616 3501.6L1617 3500.6L1618 3496.7L1619 3497.8L1620 3500.3L1621 3491.4L1622 3486.8L1623 3492.3L1624 3495.1L1625 3488.2L1626 3490.4L1627 3488.4L1628 3492.4L1629 3497.3L1630 3497.4L1631 3498.5L1632 3493.3L1633 3490.8L1634 3495.5L1635 3491.8L1636 3492.5L1637 3494.9L1638 3490.1L1639 3484.8L1640 3493.9L1641 3492.6L1642 3495.5L1643 3495.2L1644 3487.9L1645 3491.5L1646 3489.9L1647 3490.9L1648 3490.2L1649 3491.6L1650 3493.3L1651 3490.4L1652 3494L1653 3499.2L1654 3494.5L1655 3498.2L1656 3494.2L1657 3491.8L1658 3489.4L1659 3495.7L1660 3493.2L1661 3490.3L1662 3495.2L1663 3492.6L1664 3493.4L1664.7 3487.2L1665 3488.1L1666 3490L1667 3494L1668 3494.9L1669 3494.2L1670 3491.4L1671 3496.5L1672 3493.5L1673 3492.3L1674 3488.1L1675 3494L1676 3496.4L1677 3497.9L1678 3492.5L1679 3497.1L1680 3495.6L1681 3487.5L1682 3491.5L1683 3491L1684 3494.2L1685 3490.5L1686 3487.9L1687 3490.2L1688 3499.9L1689 3493.9L1690 3491.3L1691 3489.6L1692 3487L1693 3488L1694 3493.6L1695 3488.8L1696 3489.5L1697 3490.6L1698 3493.8L1699 3493L1700 3491.7L1701 3498.6L1702 3500L1703 3497.4L1704 3491.6L1705 3492.6L1706 3486.6L1707 3484.8L1708 3487.8L1709 3491.2L1710 3494.3L1711 3492.9L1712 3488.7L1713 3491.7L1714 3492.6L1715 3495.4L1716 3497.4L1717 3497.3L1718 3499.9L1719 3498.1L1720 3496.3L1721 3498.7L1722 3497.7L1723 3491.1L1724 3496.3L1725 3497.8L1726 3492.9L1727 3497.5L1728 3492L1729 3500.6L1730 3489.9L1731 3494.5L1732 3492.6L1733 3493.3L1734 3496.9L1735 3498.4L1736 3499.5L1737 3501L1738 3494.3L1739 3495L1740 3494.8L1741 3496.1L1742 3489.6L1743 3497.7L1744 3498.7L1745 3499.8L1746 3499.3L1747 3495.1L1748 3492.8L1749 3492.8L1750 3489.9L1751 3491.1L1752 3493.3L1753 3495.5L1754 3494.1L1755 3501.3L1756 3496.1L1757 3496.8L1758 3497L1759 3491.6L1760 3495.5L1761 3490.1L1762 3492.1L1763 3492.5L1764 3493.1L1765 3496.5L1766 3500.8L1767 3498.5L1768 3499.7L1769 3496.1L1770 3493.5L1771 3496L1772 3493.4L1773 3496.3L1774 3500L1775 3502.2L1776 3503.5L1777 3495.9L1778 3499.1L1779 3498.9L1780 3497.4L1781 3494.6L1782 3497.4L1783 3501.8L1784 3499.6L1785 3498.4L1786 3503.1L1787 3499.6L1788 3498.9L1789 3503.8L1790 3506.2L1791 3501.4L1792 3499L1793 3496.9L1794 3495L1795 3495.3L1796 3499.6L1797 3503.3L1798 3497.1L1799 3496.9L1800 3498.2L1801 3498L1802 3495.1L1803 3492.2L1804 3489.8L1805 3494.5L1806 3496.9L1807 3496.7L1808 3498.5L1809 3496.3L1810 3495.4L1811 3488.8L1812 3498.8L1813 3493.5L1814 3497.7L1815 3501.5L1816 3498.6L1817 3498.7L1818 3497L1819 3497.8L1820 3495.8L1821 3490.9L1822 3493.4L1823 3489.2L1824 3494.8L1825 3495.5L1826 3498L1827 3493.7L1828 3490.4L1829 3494.2L1830 3493.9L1831 3493.5L1832 3491.5L1832.5 3491.4L1833 3496L1834 3495.4L1835 3496.2L1836 3502.1L1837 3501.9L1838 3498.7L1839 3501.1L1840 3496L1841 3493.9L1842 3496.7L1843 3498.3L1844 3498.5L1845 3503.6L1846 3495.5L1847 3499.6L1848 3499.7L1849 3501.2L1850 3497.7L1851 3495.3L1852 3496.4L1853 3497.4L1854 3493.8L1855 3498.4L1856 3495.4L1857 3492.2L1858 3496.9L1859 3497.1L1860 3493.2L1861 3494L1862 3493.9L1863 3493.1L1864 3491.9L1865 3495.3L1866 3498L1867 3495.8L1868 3499.5L1869 3498.9L1870 3502.1L1871 3499.9L1872 3496.5L1873 3497.9L1874 3497.9L1875 3493.5L1876 3493.1L1877 3497.5L1878 3494.8L1879 3498.3L1880 3493L1881 3495.8L1882 3495.1L1883 3492.9L1884 3493.5L1885 3493.6L1886 3501.4L1887 3500.5L1888 3496.9L1889 3501.3L1890 3497.9L1891 3495.8L1892 3498.3L1893 3497.3L1894 3495.5L1895 3493.1L1896 3493.7L1897 3493.4" stroke="#ff0000" stroke-width="2" fill="none" stroke-linejoin="round"/>
<path d="M593.6 3229.7L596.9 3228.4L600.6 3230.1L601.1 3233.5L603.5 3232.8L608.1 3233L608.9 3235.1L607.7 3237.3L603.5 3238L600.9 3239.6L602.7 3242.1L603.2 3244.6L600.3 3247.5L595.7 3247.5L593.6 3245L592 3243L589.5 3243L586.6 3245.8L583.2 3247.5L579.5 3247.1L577.5 3244.6L578.3 3242.1L581.6 3240.1L584.8 3238.2L583.2 3235.1L582.9 3231.8L584.9 3230.9L588.6 3231.4L592 3231.3Z" fill="#00ff3c" stroke="#00ff3c" stroke-width="1.5" stroke-linejoin="round"/>
<path d="M619.3 3260.5L622.6 3259.2L626.3 3260.9L626.8 3264.3L629.2 3263.6L633.8 3263.8L634.6 3265.9L633.4 3268.1L629.2 3268.8L626.6 3270.4L628.4 3272.9L628.9 3275.4L626 3278.3L621.4 3278.3L619.3 3275.8L617.7 3273.8L615.2 3273.8L612.3 3276.6L608.9 3278.3L605.2 3277.9L603.2 3275.4L604 3272.9L607.3 3270.9L610.5 3269L608.9 3265.9L608.6 3262.6L610.6 3261.7L614.3 3262.2L617.7 3262.1Z" fill="#ff00ff" stroke="#ff00ff" stroke-width="1.5" stroke-linejoin="round"/>
<path d="M756.5 3270.7L759.8 3269.4L763.5 3271.1L764 3274.5L766.4 3273.8L771 3274L771.8 3276.1L770.6 3278.3L766.4 3279L763.8 3280.6L765.6 3283.1L766.1 3285.6L763.2 3288.5L758.6 3288.5L756.5 3286L754.9 3284L752.4 3284L749.5 3286.8L746.1 3288.5L742.4 3288.1L740.4 3285.6L741.2 3283.1L744.5 3281.1L747.7 3279.2L746.1 3276.1L745.8 3272.8L747.8 3271.9L751.5 3272.4L754.9 3272.3Z" fill="#0000ff" stroke="#0000ff" stroke-width="1.5" stroke-linejoin="round"/>
<path d="M782.6 3249.8L785.9 3248.5L789.6 3250.2L790.1 3253.7L792.5 3252.9L797.1 3253.1L797.9 3255.2L796.7 3257.4L792.5 3258.1L789.9 3259.7L791.7 3262.2L792.2 3264.7L789.3 3267.6L784.7 3267.6L782.6 3265.1L781 3263.1L778.5 3263.1L775.6 3265.9L772.2 3267.6L768.5 3267.2L766.5 3264.7L767.3 3262.2L770.6 3260.2L773.8 3258.3L772.2 3255.2L771.9 3251.9L773.9 3251L777.6 3251.5L781 3251.4Z" fill="#ff8000" stroke="#ff8000" stroke-width="1.5" stroke-linejoin="round"/>
<path d="M870.7 3213L874 3211.7L877.7 3213.4L878.2 3216.8L880.6 3216.1L885.2 3216.3L886 3218.4L884.8 3220.6L880.6 3221.3L878 3222.9L879.8 3225.4L880.3 3227.9L877.4 3230.8L872.8 3230.8L870.7 3228.3L869.1 3226.3L866.6 3226.3L863.7 3229.1L860.3 3230.8L856.6 3230.4L854.6 3227.9L855.4 3225.4L858.7 3223.4L861.9 3221.5L860.3 3218.4L860 3215.1L862 3214.2L865.7 3214.7L869.1 3214.6Z" fill="#ff8000" stroke="#ff8000" stroke-width="1.5" stroke-linejoin="round"/>
<path d="M912 3099.6L915.3 3098.3L919 3100L919.5 3103.4L921.9 3102.7L926.5 3102.9L927.3 3105L926.1 3107.2L921.9 3107.9L919.3 3109.5L921.1 3112L921.6 3114.5L918.7 3117.4L914.1 3117.4L912 3114.9L910.4 3112.9L907.9 3112.9L905 3115.7L901.6 3117.4L897.9 3117L895.9 3114.5L896.7 3112L900 3110L903.2 3108.1L901.6 3105L901.3 3101.7L903.3 3100.8L907 3101.3L910.4 3101.2Z" fill="#00ff3c" stroke="#00ff3c" stroke-width="1.5" stroke-linejoin="round"/>
<path d="M920 3217.8L923.3 3216.5L927 3218.2L927.5 3221.7L929.9 3220.9L934.5 3221.1L935.3 3223.2L934.1 3225.4L929.9 3226.1L927.3 3227.7L929.1 3230.2L929.6 3232.7L926.7 3235.6L922.1 3235.6L920 3233.1L918.4 3231.1L915.9 3231.1L913 3233.9L909.6 3235.6L905.9 3235.2L903.9 3232.7L904.7 3230.2L908 3228.2L911.2 3226.3L909.6 3223.2L909.3 3219.9L911.3 3219L915 3219.5L918.4 3219.4Z" fill="#ff00ff" stroke="#ff00ff" stroke-width="1.5" stroke-linejoin="round"/>
<path d="M1004.1 3055.5L1007.4 3054.2L1011.1 3055.9L1011.6 3059.3L1014 3058.6L1018.6 3058.8L1019.4 3060.9L1018.2 3063.1L1014 3063.8L1011.4 3065.4L1013.2 3067.9L1013.7 3070.4L1010.8 3073.3L1006.2 3073.3L1004.1 3070.8L1002.5 3068.8L1000 3068.8L997.1 3071.6L993.7 3073.3L990 3072.9L988 3070.4L988.8 3067.9L992.1 3065.9L995.3 3064L993.7 3060.9L993.4 3057.6L995.4 3056.7L999.1 3057.2L1002.5 3057.1Z" fill="#0000ff" stroke="#0000ff" stroke-width="1.5" stroke-linejoin="round"/>
<path d="M1025 3279.9L1028.3 3278.6L1032 3280.3L1032.5 3283.8L1034.9 3283L1039.5 3283.2L1040.3 3285.3L1039.1 3287.5L1034.9 3288.2L1032.3 3289.8L1034.1 3292.3L1034.6 3294.8L1031.7 3297.7L1027.1 3297.7L1025 3295.2L1023.4 3293.2L1020.9 3293.2L1018 3296L1014.6 3297.7L1010.9 3297.3L1008.9 3294.8L1009.7 3292.3L1013 3290.3L1016.2 3288.4L1014.6 3285.3L1014.3 3282L1016.3 3281.1L1020 3281.6L1023.4 3281.5Z" fill="#00ff3c" stroke="#00ff3c" stroke-width="1.5" stroke-linejoin="round"/>
<path d="M1177.2 3286.7L1180.5 3285.4L1184.2 3287.1L1184.7 3290.5L1187.1 3289.8L1191.7 3290L1192.5 3292.1L1191.3 3294.3L1187.1 3295L1184.5 3296.6L1186.3 3299.1L1186.8 3301.6L1183.9 3304.5L1179.3 3304.5L1177.2 3302L1175.6 3300L1173.1 3300L1170.2 3302.8L1166.8 3304.5L1163.1 3304.1L1161.1 3301.6L1161.9 3299.1L1165.2 3297.1L1168.4 3295.2L1166.8 3292.1L1166.5 3288.8L1168.5 3287.9L1172.2 3288.4L1175.6 3288.3Z" fill="#ff8000" stroke="#ff8000" stroke-width="1.5" stroke-linejoin="round"/>
<path d="M1225.4 3290.8L1228.7 3289.5L1232.4 3291.2L1232.9 3294.7L1235.3 3293.9L1239.9 3294.1L1240.7 3296.2L1239.5 3298.4L1235.3 3299.1L1232.7 3300.7L1234.5 3303.2L1235 3305.7L1232.1 3308.6L1227.5 3308.6L1225.4 3306.1L1223.8 3304.1L1221.3 3304.1L1218.4 3306.9L1215 3308.6L1211.3 3308.2L1209.3 3305.7L1210.1 3303.2L1213.4 3301.2L1216.6 3299.3L1215 3296.2L1214.7 3292.9L1216.7 3292L1220.4 3292.5L1223.8 3292.4Z" fill="#00ff3c" stroke="#00ff3c" stroke-width="1.5" stroke-linejoin="round"/>
<path d="M1368.3 3198.2L1371.6 3196.9L1375.3 3198.6L1375.8 3202L1378.2 3201.3L1382.8 3201.5L1383.6 3203.6L1382.4 3205.8L1378.2 3206.5L1375.6 3208.1L1377.4 3210.6L1377.9 3213.1L1375 3216L1370.4 3216L1368.3 3213.5L1366.7 3211.5L1364.2 3211.5L1361.3 3214.3L1357.9 3216L1354.2 3215.6L1352.2 3213.1L1353 3210.6L1356.3 3208.6L1359.5 3206.7L1357.9 3203.6L1357.6 3200.3L1359.6 3199.4L1363.3 3199.9L1366.7 3199.8Z" fill="#0000ff" stroke="#0000ff" stroke-width="1.5" stroke-linejoin="round"/>
<path d="M1423 3304.3L1426.3 3303L1430 3304.7L1430.5 3308.2L1432.9 3307.4L1437.5 3307.6L1438.3 3309.7L1437.1 3311.9L1432.9 3312.6L1430.3 3314.2L1432.1 3316.7L1432.6 3319.2L1429.7 3322.1L1425.1 3322.1L1423 3319.6L1421.4 3317.6L1418.9 3317.6L1416 3320.4L1412.6 3322.1L1408.9 3321.7L1406.9 3319.2L1407.7 3316.7L1411 3314.7L1414.2 3312.8L1412.6 3309.7L1412.3 3306.4L1414.3 3305.5L1418 3306L1421.4 3305.9Z" fill="#ff8000" stroke="#ff8000" stroke-width="1.5" stroke-linejoin="round"/>
<path d="M1480.9 3290.2L1484.2 3288.9L1487.9 3290.6L1488.4 3294L1490.8 3293.3L1495.4 3293.5L1496.2 3295.6L1495 3297.8L1490.8 3298.5L1488.2 3300.1L1490 3302.6L1490.5 3305.1L1487.6 3308L1483 3308L1480.9 3305.5L1479.3 3303.5L1476.8 3303.5L1473.9 3306.3L1470.5 3308L1466.8 3307.6L1464.8 3305.1L1465.6 3302.6L1468.9 3300.6L1472.1 3298.7L1470.5 3295.6L1470.2 3292.3L1472.2 3291.4L1475.9 3291.9L1479.3 3291.8Z" fill="#00ff3c" stroke="#00ff3c" stroke-width="1.5" stroke-linejoin="round"/>
<path d="M1594.9 3238.8L1598.2 3237.5L1601.9 3239.2L1602.4 3242.7L1604.8 3241.9L1609.4 3242.1L1610.2 3244.2L1609 3246.4L1604.8 3247.1L1602.2 3248.7L1604 3251.2L1604.5 3253.7L1601.6 3256.6L1597 3256.6L1594.9 3254.1L1593.3 3252.1L1590.8 3252.1L1587.9 3254.9L1584.5 3256.6L1580.8 3256.2L1578.8 3253.7L1579.6 3251.2L1582.9 3249.2L1586.1 3247.3L1584.5 3244.2L1584.2 3240.9L1586.2 3240L1589.9 3240.5L1593.3 3240.4Z" fill="#0000ff" stroke="#0000ff" stroke-width="1.5" stroke-linejoin="round"/>
<path d="M1665.9 3297.3L1669.2 3296L1672.9 3297.7L1673.4 3301.2L1675.8 3300.4L1680.4 3300.6L1681.2 3302.7L1680 3304.9L1675.8 3305.6L1673.2 3307.2L1675 3309.7L1675.5 3312.2L1672.6 3315.1L1668 3315.1L1665.9 3312.6L1664.3 3310.6L1661.8 3310.6L1658.9 3313.4L1655.5 3315.1L1651.8 3314.7L1649.8 3312.2L1650.6 3309.7L1653.9 3307.7L1657.1 3305.8L1655.5 3302.7L1655.2 3299.4L1657.2 3298.5L1660.9 3299L1664.3 3298.9Z" fill="#0000ff" stroke="#0000ff" stroke-width="1.5" stroke-linejoin="round"/>
<path d="M886.7 2602.4L890 2601.1L893.7 2602.8L894.2 2606.2L896.6 2605.5L901.2 2605.7L902 2607.8L900.8 2610L896.6 2610.7L894 2612.3L895.8 2614.8L896.3 2617.3L893.4 2620.2L888.8 2620.2L886.7 2617.7L885.1 2615.7L882.6 2615.7L879.7 2618.5L876.3 2620.2L872.6 2619.8L870.6 2617.3L871.4 2614.8L874.7 2612.8L877.9 2610.9L876.3 2607.8L876 2604.5L878 2603.6L881.7 2604.1L885.1 2604Z" fill="#0000ff" stroke="#0000ff" stroke-width="1.5" stroke-linejoin="round"/>
</g>
<path d="M307.1 3596.3v9M328.6 3596.3v9M350.2 3596.3v9M371.7 3596.3v9M393.3 3596.3v19.5M414.9 3596.3v9M436.4 3596.3v9M458 3596.3v9M479.5 3596.3v9M501.1 3596.3v9M522.7 3596.3v9M544.2 3596.3v9M565.8 3596.3v9M587.3 3596.3v9M608.9 3596.3v19.5M630.5 3596.3v9M652 3596.3v9M673.6 3596.3v9M695.1 3596.3v9M716.7 3596.3v9M738.3 3596.3v9M759.8 3596.3v9M781.4 3596.3v9M802.9 3596.3v9M824.5 3596.3v19.5M846.1 3596.3v9M867.6 3596.3v9M889.2 3596.3v9M910.7 3596.3v9M932.3 3596.3v9M953.9 3596.3v9M975.4 3596.3v9M997 3596.3v9M1018.5 3596.3v9M1040.1 3596.3v19.5M1061.7 3596.3v9M1083.2 3596.3v9M1104.8 3596.3v9M1126.3 3596.3v9M1147.9 3596.3v9M1169.5 3596.3v9M1191 3596.3v9M1212.6 3596.3v9M1234.1 3596.3v9M1255.7 3596.3v19.5M1277.3 3596.3v9M1298.8 3596.3v9M1320.4 3596.3v9M1341.9 3596.3v9M1363.5 3596.3v9M1385.1 3596.3v9M1406.6 3596.3v9M1428.2 3596.3v9M1449.7 3596.3v9M1471.3 3596.3v19.5M1492.9 3596.3v9M1514.4 3596.3v9M1536 3596.3v9M1557.5 3596.3v9M1579.1 3596.3v9M1600.7 3596.3v9M1622.2 3596.3v9M1643.8 3596.3v9M1665.3 3596.3v9M1686.9 3596.3v19.5M1708.5 3596.3v9M1730 3596.3v9M1751.6 3596.3v9M1773.1 3596.3v9M1794.7 3596.3v9M1816.3 3596.3v9M1837.8 3596.3v9M1859.4 3596.3v9M1880.9 3596.3v9" stroke="#222" stroke-width="2.8" fill="none"/>
<rect x="264.5" y="2672.8" width="19.5" height="2.2" fill="#222"/>
<text transform="translate(256 2687.8) scale(1 1.090)" font-size="37.2" text-anchor="end">10,000</text>
<rect x="264.5" y="3026.1" width="19.5" height="2.2" fill="#222"/>
<text transform="translate(256 3041.1) scale(1 1.090)" font-size="37.2" text-anchor="end">5000</text>
<rect x="264.5" y="3379.4" width="19.5" height="2.2" fill="#222"/>
<text transform="translate(256 3394.4) scale(1 1.090)" font-size="37.2" text-anchor="end">0</text>
<rect x="281.9" y="2591.2" width="4.2" height="1007.2" fill="#0a0a0a"/>
<rect x="281.9" y="3594.2" width="1620.1" height="4.2" fill="#0a0a0a"/>
<rect x="1899" y="2591.2" width="3" height="1007.2" fill="#0a0a0a"/>
<rect x="281.9" y="2591.2" width="1620.1" height="3" fill="#0a0a0a"/>
<text transform="translate(394.1 3668.2) scale(1 1.080)" font-size="48.8" text-anchor="middle">10</text>
<text transform="translate(606.2 3668.2) scale(1 1.080)" font-size="48.8" text-anchor="middle">20</text>
<text transform="translate(819 3668.2) scale(1 1.080)" font-size="48.8" text-anchor="middle">30</text>
<text transform="translate(1030.8 3668.2) scale(1 1.080)" font-size="48.8" text-anchor="middle">40</text>
<text transform="translate(1259.3 3668.2) scale(1 1.080)" font-size="48.8" text-anchor="middle">50</text>
<text transform="translate(1470.5 3668.2) scale(1 1.080)" font-size="48.8" text-anchor="middle">60</text>
<text transform="translate(1685.7 3668.2) scale(1 1.080)" font-size="48.8" text-anchor="middle">70</text>
<text x="1140.6" y="3746.6" font-size="63.3" text-anchor="middle">Position [2<tspan font-family="Liberation Serif,serif">&#952;</tspan>] (Cu)</text>
<text transform="translate(120.5 3007.7) rotate(-90)" font-size="51.3" text-anchor="middle">[cts]</text>
<text x="205.3" y="2628.4" font-size="64.5" text-anchor="start">c)</text>
<text transform="translate(1878 2665) scale(1 1.040)" font-size="70" text-anchor="end">Ag/SiO<tspan font-size="43" dy="24" dx="-1.2">2</tspan><tspan dy="-24" dx="-1">@AS</tspan></text>
<rect x="299.8" y="2610.4" width="46.5" height="45.1" fill="#0000ff"/>
<text transform="translate(360 2651.7) scale(1 1.045)" font-size="53" text-anchor="start">Ag<tspan font-size="34" dy="17" dx="-1.2">2</tspan><tspan dy="-17" dx="-1">O</tspan></text>
<rect x="299.8" y="2677.8" width="46.5" height="45.1" fill="#00ff3c"/>
<text transform="translate(360 2718.6) scale(1 1.045)" font-size="53" text-anchor="start">Ag<tspan font-size="34" dy="17" dx="-1.2">2</tspan><tspan dy="-17" dx="-1">CO</tspan><tspan font-size="34" dy="17" dx="-1.2">3</tspan></text>
<rect x="299.8" y="2744.3" width="46.5" height="46.5" fill="#ff8000"/>
<text transform="translate(360 2784.6) scale(1 1.045)" font-size="53" text-anchor="start">AgCl</text>
<rect x="299.8" y="2813.6" width="46.5" height="46" fill="#ff00ff"/>
<text transform="translate(360 2856.3) scale(1 1.045)" font-size="53" text-anchor="start">Ag<tspan font-size="34" dy="17" dx="-1.2">6</tspan><tspan dy="-17" dx="-1">Si</tspan><tspan font-size="34" dy="17" dx="-1.2">2</tspan><tspan dy="-17" dx="-1">O</tspan><tspan font-size="34" dy="17" dx="-1.2">7</tspan></text>
</svg></body></html>
